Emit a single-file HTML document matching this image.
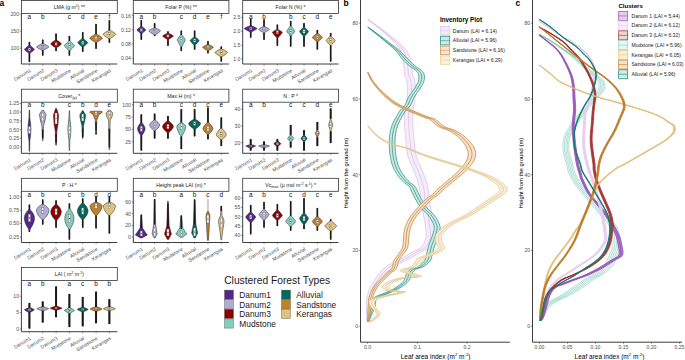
<!DOCTYPE html><html><head><meta charset="utf-8"><style>html,body{margin:0;padding:0;background:#fff;width:685px;height:360px;overflow:hidden}svg{display:block}</style></head><body><svg width="685" height="360" viewBox="0 0 685 360" font-family='"Liberation Sans", sans-serif'>
<rect width="685" height="360" fill="#fff"/>
<rect x="21.4" y="0.4" width="95.9" height="13" fill="#fff" stroke="#333333" stroke-width="0.8"/>
<text x="69.35" y="9" font-size="5.2" fill="#1a1a1a" text-anchor="middle">LMA (g m<tspan font-size="3.6" dy="-2">2</tspan><tspan dy="2">) **</tspan></text>
<path d="M21.4,13.4 V64 H117.3" fill="none" stroke="#333333" stroke-width="0.95"/>
<line x1="19.8" y1="14" x2="21.4" y2="14" stroke="#333333" stroke-width="0.5"/>
<text x="19.1" y="15.9" font-size="5.2" fill="#505050" text-anchor="end">200</text>
<line x1="19.8" y1="31" x2="21.4" y2="31" stroke="#333333" stroke-width="0.5"/>
<text x="19.1" y="32.9" font-size="5.2" fill="#505050" text-anchor="end">150</text>
<line x1="19.8" y1="48.2" x2="21.4" y2="48.2" stroke="#333333" stroke-width="0.5"/>
<text x="19.1" y="50.1" font-size="5.2" fill="#505050" text-anchor="end">100</text>
<line x1="29.4" y1="64" x2="29.4" y2="65.6" stroke="#333333" stroke-width="0.5"/>
<text transform="translate(31.4,71.5) rotate(-31)" font-size="5.0" fill="#505050" text-anchor="end">Danum1</text>
<text x="29.4" y="18.6" font-size="6.4" fill="#111" text-anchor="middle">a</text>
<line x1="42.73" y1="64" x2="42.73" y2="65.6" stroke="#333333" stroke-width="0.5"/>
<text transform="translate(44.73,71.5) rotate(-31)" font-size="5.0" fill="#505050" text-anchor="end">Danum2</text>
<text x="42.73" y="18.6" font-size="6.4" fill="#111" text-anchor="middle">b</text>
<line x1="56.06" y1="64" x2="56.06" y2="65.6" stroke="#333333" stroke-width="0.5"/>
<text transform="translate(58.06,71.5) rotate(-31)" font-size="5.0" fill="#505050" text-anchor="end">Danum3</text>
<line x1="69.39" y1="64" x2="69.39" y2="65.6" stroke="#333333" stroke-width="0.5"/>
<text transform="translate(71.39,71.5) rotate(-31)" font-size="5.0" fill="#505050" text-anchor="end">Mudstone</text>
<text x="69.39" y="18.6" font-size="6.4" fill="#111" text-anchor="middle">c</text>
<line x1="82.72" y1="64" x2="82.72" y2="65.6" stroke="#333333" stroke-width="0.5"/>
<text transform="translate(84.72,71.5) rotate(-31)" font-size="5.0" fill="#505050" text-anchor="end">Alluvial</text>
<text x="82.72" y="18.6" font-size="6.4" fill="#111" text-anchor="middle">d</text>
<line x1="96.05" y1="64" x2="96.05" y2="65.6" stroke="#333333" stroke-width="0.5"/>
<text transform="translate(98.05,71.5) rotate(-31)" font-size="5.0" fill="#505050" text-anchor="end">Sandstone</text>
<text x="96.05" y="18.6" font-size="6.4" fill="#111" text-anchor="middle">e</text>
<line x1="109.38" y1="64" x2="109.38" y2="65.6" stroke="#333333" stroke-width="0.5"/>
<text transform="translate(111.38,71.5) rotate(-31)" font-size="5.0" fill="#505050" text-anchor="end">Kerangas</text>
<text x="109.38" y="18.6" font-size="6.4" fill="#111" text-anchor="middle">f</text>
<path d="M29.7,42 L29.75,45 L30.42,45.75 L31.39,46.5 L32.3,47.25 L33.13,48 L33.87,48.75 L34.4,49.5 L33.87,50.17 L33.13,50.83 L32.3,51.5 L31.39,52.17 L30.42,52.83 L29.75,53.5 L29.7,62 L29.1,62 L29.05,53.5 L28.38,52.83 L27.41,52.17 L26.5,51.5 L25.67,50.83 L24.93,50.17 L24.4,49.5 L24.93,48.75 L25.67,48 L26.5,47.25 L27.41,46.5 L28.38,45.75 L29.05,45 L29.1,42Z" fill="#542788" stroke="#222" stroke-width="0.5" stroke-linejoin="round"/>
<rect x="28.65" y="42" width="1.5" height="3.5" fill="#1a1a1a"/>
<rect x="28.65" y="53" width="1.5" height="9" fill="#1a1a1a"/>
<rect x="28.3" y="47.97" width="2.2" height="3.06" fill="#f2f2f2" stroke="#555" stroke-width="0.35"/>
<circle cx="29.4" cy="49.5" r="0.55" fill="#333"/>
<path d="M43.03,39.7 L43.08,43.3 L44.01,43.9 L45.23,44.5 L46.38,45.1 L47.43,45.7 L48.36,46.3 L49.03,46.9 L48.36,47.5 L47.43,48.1 L46.38,48.7 L45.23,49.3 L44.01,49.9 L43.08,50.5 L43.03,55.5 L42.43,55.5 L42.38,50.5 L41.45,49.9 L40.23,49.3 L39.08,48.7 L38.03,48.1 L37.1,47.5 L36.43,46.9 L37.1,46.3 L38.03,45.7 L39.08,45.1 L40.23,44.5 L41.45,43.9 L42.38,43.3 L42.43,39.7Z" fill="#b2abd2" stroke="#222" stroke-width="0.5" stroke-linejoin="round"/>
<rect x="41.98" y="39.7" width="1.5" height="4.1" fill="#1a1a1a"/>
<rect x="41.98" y="50" width="1.5" height="5.5" fill="#1a1a1a"/>
<rect x="41.63" y="45.6" width="2.2" height="2.59" fill="#f2f2f2" stroke="#555" stroke-width="0.35"/>
<circle cx="42.73" cy="46.9" r="0.55" fill="#333"/>
<path d="M56.36,33.7 L56.41,39.7 L57.18,40.4 L58.25,41.1 L59.25,41.8 L60.17,42.5 L60.97,43.2 L61.56,43.9 L60.97,44.58 L60.17,45.27 L59.25,45.95 L58.25,46.63 L57.18,47.32 L56.41,48 L56.36,51 L55.76,51 L55.71,48 L54.94,47.32 L53.87,46.63 L52.87,45.95 L51.95,45.27 L51.15,44.58 L50.56,43.9 L51.15,43.2 L51.95,42.5 L52.87,41.8 L53.87,41.1 L54.94,40.4 L55.71,39.7 L55.76,33.7Z" fill="#8e0000" stroke="#222" stroke-width="0.5" stroke-linejoin="round"/>
<rect x="55.31" y="33.7" width="1.5" height="6.5" fill="#1a1a1a"/>
<rect x="55.31" y="47.5" width="1.5" height="3.5" fill="#1a1a1a"/>
<rect x="54.96" y="42.41" width="2.2" height="2.99" fill="#f2f2f2" stroke="#555" stroke-width="0.35"/>
<circle cx="56.06" cy="43.9" r="0.55" fill="#333"/>
<path d="M69.69,36 L69.74,40.5 L70.41,41.37 L71.38,42.23 L72.29,43.1 L73.12,43.97 L73.86,44.83 L74.39,45.7 L73.86,46.58 L73.12,47.47 L72.29,48.35 L71.38,49.23 L70.41,50.12 L69.74,51 L69.69,55.5 L69.09,55.5 L69.04,51 L68.37,50.12 L67.4,49.23 L66.49,48.35 L65.66,47.47 L64.92,46.58 L64.39,45.7 L64.92,44.83 L65.66,43.97 L66.49,43.1 L67.4,42.23 L68.37,41.37 L69.04,40.5 L69.09,36Z" fill="#80cdc1" stroke="#222" stroke-width="0.5" stroke-linejoin="round"/>
<rect x="68.64" y="36" width="1.5" height="5" fill="#1a1a1a"/>
<rect x="68.64" y="50.5" width="1.5" height="5" fill="#1a1a1a"/>
<rect x="68.29" y="43.81" width="2.2" height="3.78" fill="#f2f2f2" stroke="#555" stroke-width="0.35"/>
<circle cx="69.39" cy="45.7" r="0.55" fill="#333"/>
<path d="M83.02,32.2 L83.07,38.2 L83.74,38.95 L84.71,39.7 L85.62,40.45 L86.45,41.2 L87.19,41.95 L87.72,42.7 L87.19,43.45 L86.45,44.2 L85.62,44.95 L84.71,45.7 L83.74,46.45 L83.07,47.2 L83.02,51.7 L82.42,51.7 L82.37,47.2 L81.7,46.45 L80.73,45.7 L79.82,44.95 L78.99,44.2 L78.25,43.45 L77.72,42.7 L78.25,41.95 L78.99,41.2 L79.82,40.45 L80.73,39.7 L81.7,38.95 L82.37,38.2 L82.42,32.2Z" fill="#01665e" stroke="#222" stroke-width="0.5" stroke-linejoin="round"/>
<rect x="81.97" y="32.2" width="1.5" height="6.5" fill="#1a1a1a"/>
<rect x="81.97" y="46.7" width="1.5" height="5" fill="#1a1a1a"/>
<rect x="81.62" y="41.08" width="2.2" height="3.24" fill="#f2f2f2" stroke="#555" stroke-width="0.35"/>
<circle cx="82.72" cy="42.7" r="0.55" fill="#333"/>
<path d="M96.35,24 L96.4,33.7 L97.37,34.45 L98.63,35.2 L99.82,35.95 L100.9,36.7 L101.86,37.45 L102.55,38.2 L101.86,38.95 L100.9,39.7 L99.82,40.45 L98.63,41.2 L97.37,41.95 L96.4,42.7 L96.35,48.7 L95.75,48.7 L95.7,42.7 L94.73,41.95 L93.47,41.2 L92.28,40.45 L91.2,39.7 L90.24,38.95 L89.55,38.2 L90.24,37.45 L91.2,36.7 L92.28,35.95 L93.47,35.2 L94.73,34.45 L95.7,33.7 L95.75,24Z" fill="#bf812d" stroke="#222" stroke-width="0.5" stroke-linejoin="round"/>
<rect x="95.3" y="24" width="1.5" height="10.2" fill="#1a1a1a"/>
<rect x="95.3" y="42.2" width="1.5" height="6.5" fill="#1a1a1a"/>
<rect x="94.95" y="36.58" width="2.2" height="3.24" fill="#f2f2f2" stroke="#555" stroke-width="0.35"/>
<circle cx="96.05" cy="38.2" r="0.55" fill="#333"/>
<path d="M109.68,20.2 L109.73,30 L110.7,30.7 L111.96,31.4 L113.15,32.1 L114.23,32.8 L115.19,33.5 L115.88,34.2 L115.19,35 L114.23,35.8 L113.15,36.6 L111.96,37.4 L110.7,38.2 L109.73,39 L109.68,42.7 L109.08,42.7 L109.03,39 L108.06,38.2 L106.8,37.4 L105.61,36.6 L104.53,35.8 L103.57,35 L102.88,34.2 L103.57,33.5 L104.53,32.8 L105.61,32.1 L106.8,31.4 L108.06,30.7 L109.03,30 L109.08,20.2Z" fill="#dfc27d" stroke="#222" stroke-width="0.5" stroke-linejoin="round"/>
<rect x="108.63" y="20.2" width="1.5" height="10.3" fill="#1a1a1a"/>
<rect x="108.63" y="38.5" width="1.5" height="4.2" fill="#1a1a1a"/>
<rect x="108.28" y="32.58" width="2.2" height="3.24" fill="#f2f2f2" stroke="#555" stroke-width="0.35"/>
<circle cx="109.38" cy="34.2" r="0.55" fill="#333"/>
<rect x="133.3" y="0.4" width="95.6" height="13" fill="#fff" stroke="#333333" stroke-width="0.8"/>
<text x="181.1" y="9" font-size="5.2" fill="#1a1a1a" text-anchor="middle">Folar P (%) **</text>
<path d="M133.3,13.4 V64 H228.9" fill="none" stroke="#333333" stroke-width="0.95"/>
<line x1="131.7" y1="15.6" x2="133.3" y2="15.6" stroke="#333333" stroke-width="0.5"/>
<text x="131" y="17.5" font-size="5.2" fill="#505050" text-anchor="end">0.16</text>
<line x1="131.7" y1="29.8" x2="133.3" y2="29.8" stroke="#333333" stroke-width="0.5"/>
<text x="131" y="31.7" font-size="5.2" fill="#505050" text-anchor="end">0.12</text>
<line x1="131.7" y1="44" x2="133.3" y2="44" stroke="#333333" stroke-width="0.5"/>
<text x="131" y="45.9" font-size="5.2" fill="#505050" text-anchor="end">0.08</text>
<line x1="131.7" y1="58.3" x2="133.3" y2="58.3" stroke="#333333" stroke-width="0.5"/>
<text x="131" y="60.2" font-size="5.2" fill="#505050" text-anchor="end">0.04</text>
<line x1="141.3" y1="64" x2="141.3" y2="65.6" stroke="#333333" stroke-width="0.5"/>
<text transform="translate(143.3,71.5) rotate(-31)" font-size="5.0" fill="#505050" text-anchor="end">Danum1</text>
<text x="141.3" y="18.6" font-size="6.4" fill="#111" text-anchor="middle">a</text>
<line x1="154.63" y1="64" x2="154.63" y2="65.6" stroke="#333333" stroke-width="0.5"/>
<text transform="translate(156.63,71.5) rotate(-31)" font-size="5.0" fill="#505050" text-anchor="end">Danum2</text>
<text x="154.63" y="18.6" font-size="6.4" fill="#111" text-anchor="middle">b</text>
<line x1="167.96" y1="64" x2="167.96" y2="65.6" stroke="#333333" stroke-width="0.5"/>
<text transform="translate(169.96,71.5) rotate(-31)" font-size="5.0" fill="#505050" text-anchor="end">Danum3</text>
<line x1="181.29" y1="64" x2="181.29" y2="65.6" stroke="#333333" stroke-width="0.5"/>
<text transform="translate(183.29,71.5) rotate(-31)" font-size="5.0" fill="#505050" text-anchor="end">Mudstone</text>
<text x="181.29" y="18.6" font-size="6.4" fill="#111" text-anchor="middle">c</text>
<line x1="194.62" y1="64" x2="194.62" y2="65.6" stroke="#333333" stroke-width="0.5"/>
<text transform="translate(196.62,71.5) rotate(-31)" font-size="5.0" fill="#505050" text-anchor="end">Alluvial</text>
<text x="194.62" y="18.6" font-size="6.4" fill="#111" text-anchor="middle">d</text>
<line x1="207.95" y1="64" x2="207.95" y2="65.6" stroke="#333333" stroke-width="0.5"/>
<text transform="translate(209.95,71.5) rotate(-31)" font-size="5.0" fill="#505050" text-anchor="end">Sandstone</text>
<text x="207.95" y="18.6" font-size="6.4" fill="#111" text-anchor="middle">e</text>
<line x1="221.28" y1="64" x2="221.28" y2="65.6" stroke="#333333" stroke-width="0.5"/>
<text transform="translate(223.28,71.5) rotate(-31)" font-size="5.0" fill="#505050" text-anchor="end">Kerangas</text>
<text x="221.28" y="18.6" font-size="6.4" fill="#111" text-anchor="middle">f</text>
<path d="M141.6,20.2 L141.65,26.2 L142.22,26.83 L143.09,27.47 L143.91,28.1 L144.66,28.73 L145.32,29.37 L145.8,30 L145.32,30.62 L144.66,31.23 L143.91,31.85 L143.09,32.47 L142.22,33.08 L141.65,33.7 L141.6,39.7 L141,39.7 L140.95,33.7 L140.38,33.08 L139.51,32.47 L138.69,31.85 L137.94,31.23 L137.28,30.62 L136.8,30 L137.28,29.37 L137.94,28.73 L138.69,28.1 L139.51,27.47 L140.38,26.83 L140.95,26.2 L141,20.2Z" fill="#542788" stroke="#222" stroke-width="0.5" stroke-linejoin="round"/>
<rect x="140.55" y="20.2" width="1.5" height="6.5" fill="#1a1a1a"/>
<rect x="140.55" y="33.2" width="1.5" height="6.5" fill="#1a1a1a"/>
<rect x="140.2" y="28.65" width="2.2" height="2.7" fill="#f2f2f2" stroke="#555" stroke-width="0.35"/>
<circle cx="141.3" cy="30" r="0.55" fill="#333"/>
<path d="M154.93,23.2 L154.98,27.7 L155.85,28.2 L157.02,28.7 L158.11,29.2 L159.11,29.7 L159.99,30.2 L160.63,30.7 L159.99,31.45 L159.11,32.2 L158.11,32.95 L157.02,33.7 L155.85,34.45 L154.98,35.2 L154.93,36 L154.33,36 L154.28,35.2 L153.41,34.45 L152.24,33.7 L151.15,32.95 L150.15,32.2 L149.27,31.45 L148.63,30.7 L149.27,30.2 L150.15,29.7 L151.15,29.2 L152.24,28.7 L153.41,28.2 L154.28,27.7 L154.33,23.2Z" fill="#b2abd2" stroke="#222" stroke-width="0.5" stroke-linejoin="round"/>
<rect x="153.88" y="23.2" width="1.5" height="5" fill="#1a1a1a"/>
<rect x="153.88" y="34.7" width="1.5" height="1.3" fill="#1a1a1a"/>
<rect x="153.53" y="29.35" width="2.2" height="2.7" fill="#f2f2f2" stroke="#555" stroke-width="0.35"/>
<circle cx="154.63" cy="30.7" r="0.55" fill="#333"/>
<path d="M168.26,31.5 L168.31,33 L169.08,33.5 L170.15,34 L171.15,34.5 L172.07,35 L172.87,35.5 L173.46,36 L172.87,36.62 L172.07,37.23 L171.15,37.85 L170.15,38.47 L169.08,39.08 L168.31,39.7 L168.26,45.7 L167.66,45.7 L167.61,39.7 L166.84,39.08 L165.77,38.47 L164.77,37.85 L163.85,37.23 L163.05,36.62 L162.46,36 L163.05,35.5 L163.85,35 L164.77,34.5 L165.77,34 L166.84,33.5 L167.61,33 L167.66,31.5Z" fill="#8e0000" stroke="#222" stroke-width="0.5" stroke-linejoin="round"/>
<rect x="167.21" y="31.5" width="1.5" height="2" fill="#1a1a1a"/>
<rect x="167.21" y="39.2" width="1.5" height="6.5" fill="#1a1a1a"/>
<rect x="166.86" y="34.79" width="2.2" height="2.41" fill="#f2f2f2" stroke="#555" stroke-width="0.35"/>
<circle cx="167.96" cy="36" r="0.55" fill="#333"/>
<path d="M181.59,30.7 L181.64,34.5 L182.11,35.37 L182.88,36.23 L183.61,37.1 L184.28,37.97 L184.86,38.83 L185.29,39.7 L184.86,40.95 L184.28,42.2 L183.61,43.45 L182.88,44.7 L182.11,45.95 L181.64,47.2 L181.59,51 L180.99,51 L180.94,47.2 L180.47,45.95 L179.7,44.7 L178.97,43.45 L178.3,42.2 L177.72,40.95 L177.29,39.7 L177.72,38.83 L178.3,37.97 L178.97,37.1 L179.7,36.23 L180.47,35.37 L180.94,34.5 L180.99,30.7Z" fill="#80cdc1" stroke="#222" stroke-width="0.5" stroke-linejoin="round"/>
<rect x="180.54" y="30.7" width="1.5" height="4.3" fill="#1a1a1a"/>
<rect x="180.54" y="46.7" width="1.5" height="4.3" fill="#1a1a1a"/>
<rect x="180.19" y="37.41" width="2.2" height="4.57" fill="#f2f2f2" stroke="#555" stroke-width="0.35"/>
<circle cx="181.29" cy="39.7" r="0.55" fill="#333"/>
<path d="M194.92,30.7 L194.97,36.7 L195.54,37.33 L196.41,37.97 L197.23,38.6 L197.98,39.23 L198.64,39.87 L199.12,40.5 L198.64,41.37 L197.98,42.23 L197.23,43.1 L196.41,43.97 L195.54,44.83 L194.97,45.7 L194.92,49.5 L194.32,49.5 L194.27,45.7 L193.7,44.83 L192.83,43.97 L192.01,43.1 L191.26,42.23 L190.6,41.37 L190.12,40.5 L190.6,39.87 L191.26,39.23 L192.01,38.6 L192.83,37.97 L193.7,37.33 L194.27,36.7 L194.32,30.7Z" fill="#01665e" stroke="#222" stroke-width="0.5" stroke-linejoin="round"/>
<rect x="193.87" y="30.7" width="1.5" height="6.5" fill="#1a1a1a"/>
<rect x="193.87" y="45.2" width="1.5" height="4.3" fill="#1a1a1a"/>
<rect x="193.52" y="38.88" width="2.2" height="3.24" fill="#f2f2f2" stroke="#555" stroke-width="0.35"/>
<circle cx="194.62" cy="40.5" r="0.55" fill="#333"/>
<path d="M208.25,41.2 L208.3,44.2 L209.07,44.7 L210.14,45.2 L211.14,45.7 L212.06,46.2 L212.86,46.7 L213.45,47.2 L212.86,47.83 L212.06,48.47 L211.14,49.1 L210.14,49.73 L209.07,50.37 L208.3,51 L208.25,53.2 L207.65,53.2 L207.6,51 L206.83,50.37 L205.76,49.73 L204.76,49.1 L203.84,48.47 L203.04,47.83 L202.45,47.2 L203.04,46.7 L203.84,46.2 L204.76,45.7 L205.76,45.2 L206.83,44.7 L207.6,44.2 L207.65,41.2Z" fill="#bf812d" stroke="#222" stroke-width="0.5" stroke-linejoin="round"/>
<rect x="207.2" y="41.2" width="1.5" height="3.5" fill="#1a1a1a"/>
<rect x="207.2" y="50.5" width="1.5" height="2.7" fill="#1a1a1a"/>
<rect x="206.85" y="45.98" width="2.2" height="2.45" fill="#f2f2f2" stroke="#555" stroke-width="0.35"/>
<circle cx="207.95" cy="47.2" r="0.55" fill="#333"/>
<path d="M221.58,46.5 L221.63,48.7 L222.6,49.33 L223.86,49.97 L225.05,50.6 L226.13,51.23 L227.09,51.87 L227.78,52.5 L227.09,53.25 L226.13,54 L225.05,54.75 L223.86,55.5 L222.6,56.25 L221.63,57 L221.58,61.5 L220.98,61.5 L220.93,57 L219.96,56.25 L218.7,55.5 L217.51,54.75 L216.43,54 L215.47,53.25 L214.78,52.5 L215.47,51.87 L216.43,51.23 L217.51,50.6 L218.7,49.97 L219.96,49.33 L220.93,48.7 L220.98,46.5Z" fill="#dfc27d" stroke="#222" stroke-width="0.5" stroke-linejoin="round"/>
<rect x="220.53" y="46.5" width="1.5" height="2.7" fill="#1a1a1a"/>
<rect x="220.53" y="56.5" width="1.5" height="5" fill="#1a1a1a"/>
<rect x="220.18" y="51.01" width="2.2" height="2.99" fill="#f2f2f2" stroke="#555" stroke-width="0.35"/>
<circle cx="221.28" cy="52.5" r="0.55" fill="#333"/>
<rect x="242.7" y="0.4" width="95.8" height="13" fill="#fff" stroke="#333333" stroke-width="0.8"/>
<text x="290.6" y="9" font-size="5.2" fill="#1a1a1a" text-anchor="middle">Folar N (%) *</text>
<path d="M242.7,13.4 V64 H338.5" fill="none" stroke="#333333" stroke-width="0.95"/>
<line x1="241.1" y1="17.4" x2="242.7" y2="17.4" stroke="#333333" stroke-width="0.5"/>
<text x="240.4" y="19.3" font-size="5.2" fill="#505050" text-anchor="end">2.5</text>
<line x1="241.1" y1="31.2" x2="242.7" y2="31.2" stroke="#333333" stroke-width="0.5"/>
<text x="240.4" y="33.1" font-size="5.2" fill="#505050" text-anchor="end">2.0</text>
<line x1="241.1" y1="45" x2="242.7" y2="45" stroke="#333333" stroke-width="0.5"/>
<text x="240.4" y="46.9" font-size="5.2" fill="#505050" text-anchor="end">1.5</text>
<line x1="241.1" y1="58.7" x2="242.7" y2="58.7" stroke="#333333" stroke-width="0.5"/>
<text x="240.4" y="60.6" font-size="5.2" fill="#505050" text-anchor="end">1.0</text>
<line x1="250.7" y1="64" x2="250.7" y2="65.6" stroke="#333333" stroke-width="0.5"/>
<text transform="translate(252.7,71.5) rotate(-31)" font-size="5.0" fill="#505050" text-anchor="end">Danum1</text>
<text x="250.7" y="18.6" font-size="6.4" fill="#111" text-anchor="middle">a</text>
<line x1="264.03" y1="64" x2="264.03" y2="65.6" stroke="#333333" stroke-width="0.5"/>
<text transform="translate(266.03,71.5) rotate(-31)" font-size="5.0" fill="#505050" text-anchor="end">Danum2</text>
<text x="264.03" y="18.6" font-size="6.4" fill="#111" text-anchor="middle">b</text>
<line x1="277.36" y1="64" x2="277.36" y2="65.6" stroke="#333333" stroke-width="0.5"/>
<text transform="translate(279.36,71.5) rotate(-31)" font-size="5.0" fill="#505050" text-anchor="end">Danum3</text>
<line x1="290.69" y1="64" x2="290.69" y2="65.6" stroke="#333333" stroke-width="0.5"/>
<text transform="translate(292.69,71.5) rotate(-31)" font-size="5.0" fill="#505050" text-anchor="end">Mudstone</text>
<text x="290.69" y="18.6" font-size="6.4" fill="#111" text-anchor="middle">b</text>
<line x1="304.02" y1="64" x2="304.02" y2="65.6" stroke="#333333" stroke-width="0.5"/>
<text transform="translate(306.02,71.5) rotate(-31)" font-size="5.0" fill="#505050" text-anchor="end">Alluvial</text>
<text x="304.02" y="18.6" font-size="6.4" fill="#111" text-anchor="middle">c</text>
<line x1="317.35" y1="64" x2="317.35" y2="65.6" stroke="#333333" stroke-width="0.5"/>
<text transform="translate(319.35,71.5) rotate(-31)" font-size="5.0" fill="#505050" text-anchor="end">Sandstone</text>
<text x="317.35" y="18.6" font-size="6.4" fill="#111" text-anchor="middle">d</text>
<line x1="330.68" y1="64" x2="330.68" y2="65.6" stroke="#333333" stroke-width="0.5"/>
<text transform="translate(332.68,71.5) rotate(-31)" font-size="5.0" fill="#505050" text-anchor="end">Kerangas</text>
<text x="330.68" y="18.6" font-size="6.4" fill="#111" text-anchor="middle">e</text>
<path d="M251,18.7 L251.05,25.5 L252.02,26 L253.28,26.5 L254.47,27 L255.55,27.5 L256.51,28 L257.2,28.5 L256.51,29.12 L255.55,29.73 L254.47,30.35 L253.28,30.97 L252.02,31.58 L251.05,32.2 L251,37.5 L250.4,37.5 L250.35,32.2 L249.38,31.58 L248.12,30.97 L246.93,30.35 L245.85,29.73 L244.89,29.12 L244.2,28.5 L244.89,28 L245.85,27.5 L246.93,27 L248.12,26.5 L249.38,26 L250.35,25.5 L250.4,18.7Z" fill="#542788" stroke="#222" stroke-width="0.5" stroke-linejoin="round"/>
<rect x="249.95" y="18.7" width="1.5" height="7.3" fill="#1a1a1a"/>
<rect x="249.95" y="31.7" width="1.5" height="5.8" fill="#1a1a1a"/>
<rect x="249.6" y="27.29" width="2.2" height="2.41" fill="#f2f2f2" stroke="#555" stroke-width="0.35"/>
<circle cx="250.7" cy="28.5" r="0.55" fill="#333"/>
<path d="M264.33,19.5 L264.38,26.2 L265.15,26.7 L266.22,27.2 L267.22,27.7 L268.14,28.2 L268.94,28.7 L269.53,29.2 L268.94,29.83 L268.14,30.47 L267.22,31.1 L266.22,31.73 L265.15,32.37 L264.38,33 L264.33,39.7 L263.73,39.7 L263.68,33 L262.91,32.37 L261.84,31.73 L260.84,31.1 L259.92,30.47 L259.12,29.83 L258.53,29.2 L259.12,28.7 L259.92,28.2 L260.84,27.7 L261.84,27.2 L262.91,26.7 L263.68,26.2 L263.73,19.5Z" fill="#b2abd2" stroke="#222" stroke-width="0.5" stroke-linejoin="round"/>
<rect x="263.28" y="19.5" width="1.5" height="7.2" fill="#1a1a1a"/>
<rect x="263.28" y="32.5" width="1.5" height="7.2" fill="#1a1a1a"/>
<rect x="262.93" y="27.98" width="2.2" height="2.45" fill="#f2f2f2" stroke="#555" stroke-width="0.35"/>
<circle cx="264.03" cy="29.2" r="0.55" fill="#333"/>
<path d="M277.66,24.7 L277.71,29.2 L278.38,29.7 L279.35,30.2 L280.26,30.7 L281.09,31.2 L281.83,31.7 L282.36,32.2 L281.83,33.2 L281.09,34.2 L280.26,35.2 L279.35,36.2 L278.38,37.2 L277.71,38.2 L277.66,45.7 L277.06,45.7 L277.01,38.2 L276.34,37.2 L275.37,36.2 L274.46,35.2 L273.63,34.2 L272.89,33.2 L272.36,32.2 L272.89,31.7 L273.63,31.2 L274.46,30.7 L275.37,30.2 L276.34,29.7 L277.01,29.2 L277.06,24.7Z" fill="#8e0000" stroke="#222" stroke-width="0.5" stroke-linejoin="round"/>
<rect x="276.61" y="24.7" width="1.5" height="5" fill="#1a1a1a"/>
<rect x="276.61" y="37.7" width="1.5" height="8" fill="#1a1a1a"/>
<rect x="276.26" y="30.58" width="2.2" height="3.24" fill="#f2f2f2" stroke="#555" stroke-width="0.35"/>
<circle cx="277.36" cy="32.2" r="0.55" fill="#333"/>
<path d="M290.99,21 L291.04,25.5 L291.51,26.5 L292.28,27.5 L293.01,28.5 L293.68,29.5 L294.26,30.5 L294.69,31.5 L294.26,32.25 L293.68,33 L293.01,33.75 L292.28,34.5 L291.51,35.25 L291.04,36 L290.99,46.5 L290.39,46.5 L290.34,36 L289.87,35.25 L289.1,34.5 L288.37,33.75 L287.7,33 L287.12,32.25 L286.69,31.5 L287.12,30.5 L287.7,29.5 L288.37,28.5 L289.1,27.5 L289.87,26.5 L290.34,25.5 L290.39,21Z" fill="#80cdc1" stroke="#222" stroke-width="0.5" stroke-linejoin="round"/>
<rect x="289.94" y="21" width="1.5" height="5" fill="#1a1a1a"/>
<rect x="289.94" y="35.5" width="1.5" height="11" fill="#1a1a1a"/>
<rect x="289.59" y="29.61" width="2.2" height="3.78" fill="#f2f2f2" stroke="#555" stroke-width="0.35"/>
<circle cx="290.69" cy="31.5" r="0.55" fill="#333"/>
<path d="M304.32,23.2 L304.37,27 L304.94,27.75 L305.81,28.5 L306.63,29.25 L307.38,30 L308.04,30.75 L308.52,31.5 L308.04,32.37 L307.38,33.23 L306.63,34.1 L305.81,34.97 L304.94,35.83 L304.37,36.7 L304.32,46.5 L303.72,46.5 L303.67,36.7 L303.1,35.83 L302.23,34.97 L301.41,34.1 L300.66,33.23 L300,32.37 L299.52,31.5 L300,30.75 L300.66,30 L301.41,29.25 L302.23,28.5 L303.1,27.75 L303.67,27 L303.72,23.2Z" fill="#01665e" stroke="#222" stroke-width="0.5" stroke-linejoin="round"/>
<rect x="303.27" y="23.2" width="1.5" height="4.3" fill="#1a1a1a"/>
<rect x="303.27" y="36.2" width="1.5" height="10.3" fill="#1a1a1a"/>
<rect x="302.92" y="29.75" width="2.2" height="3.49" fill="#f2f2f2" stroke="#555" stroke-width="0.35"/>
<circle cx="304.02" cy="31.5" r="0.55" fill="#333"/>
<path d="M317.65,30 L317.7,33 L318.37,33.75 L319.34,34.5 L320.25,35.25 L321.08,36 L321.82,36.75 L322.35,37.5 L321.82,38.25 L321.08,39 L320.25,39.75 L319.34,40.5 L318.37,41.25 L317.7,42 L317.65,49.5 L317.05,49.5 L317,42 L316.33,41.25 L315.36,40.5 L314.45,39.75 L313.62,39 L312.88,38.25 L312.35,37.5 L312.88,36.75 L313.62,36 L314.45,35.25 L315.36,34.5 L316.33,33.75 L317,33 L317.05,30Z" fill="#bf812d" stroke="#222" stroke-width="0.5" stroke-linejoin="round"/>
<rect x="316.6" y="30" width="1.5" height="3.5" fill="#1a1a1a"/>
<rect x="316.6" y="41.5" width="1.5" height="8" fill="#1a1a1a"/>
<rect x="316.25" y="35.88" width="2.2" height="3.24" fill="#f2f2f2" stroke="#555" stroke-width="0.35"/>
<circle cx="317.35" cy="37.5" r="0.55" fill="#333"/>
<path d="M330.98,33 L331.03,36 L331.6,36.75 L332.47,37.5 L333.29,38.25 L334.04,39 L334.7,39.75 L335.18,40.5 L334.7,41.37 L334.04,42.23 L333.29,43.1 L332.47,43.97 L331.6,44.83 L331.03,45.7 L330.98,61.5 L330.38,61.5 L330.33,45.7 L329.76,44.83 L328.89,43.97 L328.07,43.1 L327.32,42.23 L326.66,41.37 L326.18,40.5 L326.66,39.75 L327.32,39 L328.07,38.25 L328.89,37.5 L329.76,36.75 L330.33,36 L330.38,33Z" fill="#dfc27d" stroke="#222" stroke-width="0.5" stroke-linejoin="round"/>
<rect x="329.93" y="33" width="1.5" height="3.5" fill="#1a1a1a"/>
<rect x="329.93" y="45.2" width="1.5" height="16.3" fill="#1a1a1a"/>
<rect x="329.58" y="38.75" width="2.2" height="3.49" fill="#f2f2f2" stroke="#555" stroke-width="0.35"/>
<circle cx="330.68" cy="40.5" r="0.55" fill="#333"/>
<rect x="21.4" y="89.2" width="95.9" height="13" fill="#fff" stroke="#333333" stroke-width="0.8"/>
<text x="69.35" y="97.8" font-size="5.2" fill="#1a1a1a" text-anchor="middle">Cover<tspan font-size="3.8" dy="1.5">(p)</tspan><tspan dy="-1.5"> *</tspan></text>
<path d="M21.4,102.2 V153.3 H117.3" fill="none" stroke="#333333" stroke-width="0.95"/>
<line x1="19.8" y1="103.4" x2="21.4" y2="103.4" stroke="#333333" stroke-width="0.5"/>
<text x="19.1" y="105.3" font-size="5.2" fill="#505050" text-anchor="end">1.25</text>
<line x1="19.8" y1="112.1" x2="21.4" y2="112.1" stroke="#333333" stroke-width="0.5"/>
<text x="19.1" y="114" font-size="5.2" fill="#505050" text-anchor="end">1.00</text>
<line x1="19.8" y1="120.8" x2="21.4" y2="120.8" stroke="#333333" stroke-width="0.5"/>
<text x="19.1" y="122.7" font-size="5.2" fill="#505050" text-anchor="end">0.75</text>
<line x1="19.8" y1="129.6" x2="21.4" y2="129.6" stroke="#333333" stroke-width="0.5"/>
<text x="19.1" y="131.5" font-size="5.2" fill="#505050" text-anchor="end">0.50</text>
<line x1="19.8" y1="138.3" x2="21.4" y2="138.3" stroke="#333333" stroke-width="0.5"/>
<text x="19.1" y="140.2" font-size="5.2" fill="#505050" text-anchor="end">0.25</text>
<line x1="19.8" y1="147.1" x2="21.4" y2="147.1" stroke="#333333" stroke-width="0.5"/>
<text x="19.1" y="149" font-size="5.2" fill="#505050" text-anchor="end">0.00</text>
<line x1="29.4" y1="153.3" x2="29.4" y2="154.9" stroke="#333333" stroke-width="0.5"/>
<text transform="translate(31.4,160.8) rotate(-31)" font-size="5.0" fill="#505050" text-anchor="end">Danum1</text>
<text x="29.4" y="107.4" font-size="6.4" fill="#111" text-anchor="middle">a</text>
<line x1="42.73" y1="153.3" x2="42.73" y2="154.9" stroke="#333333" stroke-width="0.5"/>
<text transform="translate(44.73,160.8) rotate(-31)" font-size="5.0" fill="#505050" text-anchor="end">Danum2</text>
<text x="42.73" y="107.4" font-size="6.4" fill="#111" text-anchor="middle">b</text>
<line x1="56.06" y1="153.3" x2="56.06" y2="154.9" stroke="#333333" stroke-width="0.5"/>
<text transform="translate(58.06,160.8) rotate(-31)" font-size="5.0" fill="#505050" text-anchor="end">Danum3</text>
<line x1="69.39" y1="153.3" x2="69.39" y2="154.9" stroke="#333333" stroke-width="0.5"/>
<text transform="translate(71.39,160.8) rotate(-31)" font-size="5.0" fill="#505050" text-anchor="end">Mudstone</text>
<text x="69.39" y="107.4" font-size="6.4" fill="#111" text-anchor="middle">c</text>
<line x1="82.72" y1="153.3" x2="82.72" y2="154.9" stroke="#333333" stroke-width="0.5"/>
<text transform="translate(84.72,160.8) rotate(-31)" font-size="5.0" fill="#505050" text-anchor="end">Alluvial</text>
<text x="82.72" y="107.4" font-size="6.4" fill="#111" text-anchor="middle">b</text>
<line x1="96.05" y1="153.3" x2="96.05" y2="154.9" stroke="#333333" stroke-width="0.5"/>
<text transform="translate(98.05,160.8) rotate(-31)" font-size="5.0" fill="#505050" text-anchor="end">Sandstone</text>
<text x="96.05" y="107.4" font-size="6.4" fill="#111" text-anchor="middle">d</text>
<line x1="109.38" y1="153.3" x2="109.38" y2="154.9" stroke="#333333" stroke-width="0.5"/>
<text transform="translate(111.38,160.8) rotate(-31)" font-size="5.0" fill="#505050" text-anchor="end">Kerangas</text>
<text x="109.38" y="107.4" font-size="6.4" fill="#111" text-anchor="middle">e</text>
<path d="M29.65,110 L29.85,118 L30.6,124 L31,129.5 L30.6,135 L29.85,141 L29.65,151.2 L29.15,151.2 L28.95,141 L28.2,135 L27.8,129.5 L28.2,124 L28.95,118 L29.15,110Z" fill="#542788" stroke="#222" stroke-width="0.5" stroke-linejoin="round"/>
<rect x="28.3" y="126.5" width="2.2" height="7" fill="#f2f2f2" stroke="#555" stroke-width="0.35"/>
<circle cx="29.4" cy="130" r="0.55" fill="#333"/>
<path d="M43.23,110 L46.13,114.5 L44.93,121 L43.53,126 L43.03,140.7 L42.43,140.7 L41.93,126 L40.53,121 L39.33,114.5 L42.23,110Z" fill="#b2abd2" stroke="#222" stroke-width="0.5" stroke-linejoin="round"/>
<rect x="41.98" y="129.5" width="1.5" height="9" fill="#1a1a1a"/>
<rect x="41.63" y="113" width="2.2" height="8" fill="#f2f2f2" stroke="#555" stroke-width="0.35"/>
<circle cx="42.73" cy="117" r="0.55" fill="#333"/>
<path d="M56.56,108.5 L58.66,115 L58.06,124 L56.86,131 L56.36,145.2 L55.76,145.2 L55.26,131 L54.06,124 L53.46,115 L55.56,108.5Z" fill="#8e0000" stroke="#222" stroke-width="0.5" stroke-linejoin="round"/>
<rect x="55.31" y="134" width="1.5" height="9" fill="#1a1a1a"/>
<rect x="54.96" y="113" width="2.2" height="11" fill="#f2f2f2" stroke="#555" stroke-width="0.35"/>
<circle cx="56.06" cy="118.5" r="0.55" fill="#333"/>
<path d="M69.64,110.7 L69.84,118 L70.59,124 L70.99,129.5 L70.59,135 L69.84,141 L69.64,150.5 L69.14,150.5 L68.94,141 L68.19,135 L67.79,129.5 L68.19,124 L68.94,118 L69.14,110.7Z" fill="#80cdc1" stroke="#222" stroke-width="0.5" stroke-linejoin="round"/>
<rect x="68.29" y="126.5" width="2.2" height="7" fill="#f2f2f2" stroke="#555" stroke-width="0.35"/>
<circle cx="69.39" cy="130" r="0.55" fill="#333"/>
<path d="M83.22,110.7 L85.72,115.2 L84.72,121 L83.52,125.7 L83.02,138.5 L82.42,138.5 L81.92,125.7 L80.72,121 L79.72,115.2 L82.22,110.7Z" fill="#01665e" stroke="#222" stroke-width="0.5" stroke-linejoin="round"/>
<rect x="81.97" y="128.7" width="1.5" height="8.3" fill="#1a1a1a"/>
<rect x="81.62" y="114" width="2.2" height="7" fill="#f2f2f2" stroke="#555" stroke-width="0.35"/>
<circle cx="82.72" cy="117.5" r="0.55" fill="#333"/>
<path d="M101.55,111.2 L102.55,112.2 L99.05,114.5 L96.85,120 L96.35,130 L95.75,130 L95.25,120 L93.05,114.5 L89.55,112.2 L90.55,111.2Z" fill="#bf812d" stroke="#222" stroke-width="0.5" stroke-linejoin="round"/>
<rect x="95.3" y="122" width="1.5" height="12.7" fill="#1a1a1a"/>
<rect x="94.95" y="111.5" width="2.2" height="3.5" fill="#f2f2f2" stroke="#555" stroke-width="0.35"/>
<circle cx="96.05" cy="113.25" r="0.55" fill="#333"/>
<path d="M109.88,110 L112.88,113 L111.88,117 L110.18,120 L109.68,149.7 L109.08,149.7 L108.58,120 L106.88,117 L105.88,113 L108.88,110Z" fill="#dfc27d" stroke="#222" stroke-width="0.5" stroke-linejoin="round"/>
<rect x="108.63" y="128.7" width="1.5" height="18.8" fill="#1a1a1a"/>
<rect x="108.28" y="111.5" width="2.2" height="6.5" fill="#f2f2f2" stroke="#555" stroke-width="0.35"/>
<circle cx="109.38" cy="114.75" r="0.55" fill="#333"/>
<rect x="133.3" y="89.2" width="95.6" height="13" fill="#fff" stroke="#333333" stroke-width="0.8"/>
<text x="181.1" y="97.8" font-size="5.2" fill="#1a1a1a" text-anchor="middle">Max H (m) *</text>
<path d="M133.3,102.2 V153.3 H228.9" fill="none" stroke="#333333" stroke-width="0.95"/>
<line x1="131.7" y1="104.9" x2="133.3" y2="104.9" stroke="#333333" stroke-width="0.5"/>
<text x="131" y="106.8" font-size="5.2" fill="#505050" text-anchor="end">100</text>
<line x1="131.7" y1="117.1" x2="133.3" y2="117.1" stroke="#333333" stroke-width="0.5"/>
<text x="131" y="119" font-size="5.2" fill="#505050" text-anchor="end">75</text>
<line x1="131.7" y1="129.3" x2="133.3" y2="129.3" stroke="#333333" stroke-width="0.5"/>
<text x="131" y="131.2" font-size="5.2" fill="#505050" text-anchor="end">50</text>
<line x1="131.7" y1="141.8" x2="133.3" y2="141.8" stroke="#333333" stroke-width="0.5"/>
<text x="131" y="143.7" font-size="5.2" fill="#505050" text-anchor="end">25</text>
<line x1="141.3" y1="153.3" x2="141.3" y2="154.9" stroke="#333333" stroke-width="0.5"/>
<text transform="translate(143.3,160.8) rotate(-31)" font-size="5.0" fill="#505050" text-anchor="end">Danum1</text>
<text x="141.3" y="107.4" font-size="6.4" fill="#111" text-anchor="middle">a</text>
<line x1="154.63" y1="153.3" x2="154.63" y2="154.9" stroke="#333333" stroke-width="0.5"/>
<text transform="translate(156.63,160.8) rotate(-31)" font-size="5.0" fill="#505050" text-anchor="end">Danum2</text>
<text x="154.63" y="107.4" font-size="6.4" fill="#111" text-anchor="middle">b</text>
<line x1="167.96" y1="153.3" x2="167.96" y2="154.9" stroke="#333333" stroke-width="0.5"/>
<text transform="translate(169.96,160.8) rotate(-31)" font-size="5.0" fill="#505050" text-anchor="end">Danum3</text>
<line x1="181.29" y1="153.3" x2="181.29" y2="154.9" stroke="#333333" stroke-width="0.5"/>
<text transform="translate(183.29,160.8) rotate(-31)" font-size="5.0" fill="#505050" text-anchor="end">Mudstone</text>
<text x="181.29" y="107.4" font-size="6.4" fill="#111" text-anchor="middle">c</text>
<line x1="194.62" y1="153.3" x2="194.62" y2="154.9" stroke="#333333" stroke-width="0.5"/>
<text transform="translate(196.62,160.8) rotate(-31)" font-size="5.0" fill="#505050" text-anchor="end">Alluvial</text>
<text x="194.62" y="107.4" font-size="6.4" fill="#111" text-anchor="middle">d</text>
<line x1="207.95" y1="153.3" x2="207.95" y2="154.9" stroke="#333333" stroke-width="0.5"/>
<text transform="translate(209.95,160.8) rotate(-31)" font-size="5.0" fill="#505050" text-anchor="end">Sandstone</text>
<text x="207.95" y="107.4" font-size="6.4" fill="#111" text-anchor="middle">c</text>
<line x1="221.28" y1="153.3" x2="221.28" y2="154.9" stroke="#333333" stroke-width="0.5"/>
<text transform="translate(223.28,160.8) rotate(-31)" font-size="5.0" fill="#505050" text-anchor="end">Kerangas</text>
<text x="221.28" y="107.4" font-size="6.4" fill="#111" text-anchor="middle">e</text>
<path d="M141.6,114.5 L141.65,122 L142.26,123.12 L143.11,124.23 L143.85,125.35 L144.44,126.47 L144.88,127.58 L145.1,128.7 L144.88,129.95 L144.44,131.2 L143.85,132.45 L143.11,133.7 L142.26,134.95 L141.65,136.2 L141.6,150.5 L141,150.5 L140.95,136.2 L140.34,134.95 L139.49,133.7 L138.75,132.45 L138.16,131.2 L137.72,129.95 L137.5,128.7 L137.72,127.58 L138.16,126.47 L138.75,125.35 L139.49,124.23 L140.34,123.12 L140.95,122 L141,114.5Z" fill="#542788" stroke="#222" stroke-width="0.5" stroke-linejoin="round"/>
<rect x="140.45" y="114.5" width="1.7" height="8" fill="#1a1a1a"/>
<rect x="140.45" y="135.7" width="1.7" height="14.8" fill="#1a1a1a"/>
<rect x="140.2" y="126.14" width="2.2" height="5.11" fill="#f2f2f2" stroke="#555" stroke-width="0.35"/>
<circle cx="141.3" cy="128.7" r="0.55" fill="#333"/>
<path d="M154.93,113.7 L154.98,119.7 L155.9,120.58 L157.02,121.47 L157.98,122.35 L158.77,123.23 L159.35,124.12 L159.63,125 L159.35,126 L158.77,127 L157.98,128 L157.02,129 L155.9,130 L154.98,131 L154.93,138.5 L154.33,138.5 L154.28,131 L153.36,130 L152.24,129 L151.28,128 L150.49,127 L149.91,126 L149.63,125 L149.91,124.12 L150.49,123.23 L151.28,122.35 L152.24,121.47 L153.36,120.58 L154.28,119.7 L154.33,113.7Z" fill="#b2abd2" stroke="#222" stroke-width="0.5" stroke-linejoin="round"/>
<rect x="153.78" y="113.7" width="1.7" height="6.5" fill="#1a1a1a"/>
<rect x="153.78" y="130.5" width="1.7" height="8" fill="#1a1a1a"/>
<rect x="153.53" y="122.97" width="2.2" height="4.07" fill="#f2f2f2" stroke="#555" stroke-width="0.35"/>
<circle cx="154.63" cy="125" r="0.55" fill="#333"/>
<path d="M168.26,116 L168.31,120.5 L169.35,121.5 L170.59,122.5 L171.65,123.5 L172.51,124.5 L173.15,125.5 L173.46,126.5 L173.15,127.62 L172.51,128.73 L171.65,129.85 L170.59,130.97 L169.35,132.08 L168.31,133.2 L168.26,138.5 L167.66,138.5 L167.61,133.2 L166.57,132.08 L165.33,130.97 L164.27,129.85 L163.41,128.73 L162.77,127.62 L162.46,126.5 L162.77,125.5 L163.41,124.5 L164.27,123.5 L165.33,122.5 L166.57,121.5 L167.61,120.5 L167.66,116Z" fill="#8e0000" stroke="#222" stroke-width="0.5" stroke-linejoin="round"/>
<rect x="167.11" y="116" width="1.7" height="5" fill="#1a1a1a"/>
<rect x="167.11" y="132.7" width="1.7" height="5.8" fill="#1a1a1a"/>
<rect x="166.86" y="124.21" width="2.2" height="4.57" fill="#f2f2f2" stroke="#555" stroke-width="0.35"/>
<circle cx="167.96" cy="126.5" r="0.55" fill="#333"/>
<path d="M181.59,109.2 L181.64,122 L182.43,122.75 L183.44,123.5 L184.31,124.25 L185.01,125 L185.53,125.75 L185.79,126.5 L185.53,128.25 L185.01,130 L184.31,131.75 L183.44,133.5 L182.43,135.25 L181.64,137 L181.59,149 L180.99,149 L180.94,137 L180.15,135.25 L179.14,133.5 L178.27,131.75 L177.57,130 L177.05,128.25 L176.79,126.5 L177.05,125.75 L177.57,125 L178.27,124.25 L179.14,123.5 L180.15,122.75 L180.94,122 L180.99,109.2Z" fill="#80cdc1" stroke="#222" stroke-width="0.5" stroke-linejoin="round"/>
<rect x="180.44" y="109.2" width="1.7" height="13.3" fill="#1a1a1a"/>
<rect x="180.44" y="136.5" width="1.7" height="12.5" fill="#1a1a1a"/>
<rect x="180.19" y="123.8" width="2.2" height="5.4" fill="#f2f2f2" stroke="#555" stroke-width="0.35"/>
<circle cx="181.29" cy="126.5" r="0.55" fill="#333"/>
<path d="M194.92,109.2 L194.97,119 L196.14,119.75 L197.48,120.5 L198.64,121.25 L199.59,122 L200.28,122.75 L200.62,123.5 L200.28,124.5 L199.59,125.5 L198.64,126.5 L197.48,127.5 L196.14,128.5 L194.97,129.5 L194.92,136.2 L194.32,136.2 L194.27,129.5 L193.1,128.5 L191.76,127.5 L190.6,126.5 L189.65,125.5 L188.96,124.5 L188.62,123.5 L188.96,122.75 L189.65,122 L190.6,121.25 L191.76,120.5 L193.1,119.75 L194.27,119 L194.32,109.2Z" fill="#01665e" stroke="#222" stroke-width="0.5" stroke-linejoin="round"/>
<rect x="193.77" y="109.2" width="1.7" height="10.3" fill="#1a1a1a"/>
<rect x="193.77" y="129" width="1.7" height="7.2" fill="#1a1a1a"/>
<rect x="193.52" y="121.61" width="2.2" height="3.78" fill="#f2f2f2" stroke="#555" stroke-width="0.35"/>
<circle cx="194.62" cy="123.5" r="0.55" fill="#333"/>
<path d="M208.25,107.7 L208.3,122 L209.22,123.12 L210.34,124.23 L211.3,125.35 L212.09,126.47 L212.67,127.58 L212.95,128.7 L212.67,129.7 L212.09,130.7 L211.3,131.7 L210.34,132.7 L209.22,133.7 L208.3,134.7 L208.25,139.2 L207.65,139.2 L207.6,134.7 L206.68,133.7 L205.56,132.7 L204.6,131.7 L203.81,130.7 L203.23,129.7 L202.95,128.7 L203.23,127.58 L203.81,126.47 L204.6,125.35 L205.56,124.23 L206.68,123.12 L207.6,122 L207.65,107.7Z" fill="#bf812d" stroke="#222" stroke-width="0.5" stroke-linejoin="round"/>
<rect x="207.1" y="107.7" width="1.7" height="14.8" fill="#1a1a1a"/>
<rect x="207.1" y="134.2" width="1.7" height="5" fill="#1a1a1a"/>
<rect x="206.85" y="126.41" width="2.2" height="4.57" fill="#f2f2f2" stroke="#555" stroke-width="0.35"/>
<circle cx="207.95" cy="128.7" r="0.55" fill="#333"/>
<path d="M221.58,117.5 L221.63,128 L222.55,129.12 L223.67,130.23 L224.63,131.35 L225.42,132.47 L226,133.58 L226.28,134.7 L226,135.58 L225.42,136.47 L224.63,137.35 L223.67,138.23 L222.55,139.12 L221.63,140 L221.58,146 L220.98,146 L220.93,140 L220.01,139.12 L218.89,138.23 L217.93,137.35 L217.14,136.47 L216.56,135.58 L216.28,134.7 L216.56,133.58 L217.14,132.47 L217.93,131.35 L218.89,130.23 L220.01,129.12 L220.93,128 L220.98,117.5Z" fill="#dfc27d" stroke="#222" stroke-width="0.5" stroke-linejoin="round"/>
<rect x="220.43" y="117.5" width="1.7" height="11" fill="#1a1a1a"/>
<rect x="220.43" y="139.5" width="1.7" height="6.5" fill="#1a1a1a"/>
<rect x="220.18" y="132.54" width="2.2" height="4.32" fill="#f2f2f2" stroke="#555" stroke-width="0.35"/>
<circle cx="221.28" cy="134.7" r="0.55" fill="#333"/>
<rect x="242.7" y="89.2" width="95.8" height="13" fill="#fff" stroke="#333333" stroke-width="0.8"/>
<text x="290.6" y="97.8" font-size="5.2" fill="#1a1a1a" text-anchor="middle">N : P *</text>
<path d="M242.7,102.2 V153.3 H338.5" fill="none" stroke="#333333" stroke-width="0.95"/>
<line x1="241.1" y1="109.3" x2="242.7" y2="109.3" stroke="#333333" stroke-width="0.5"/>
<text x="240.4" y="111.2" font-size="5.2" fill="#505050" text-anchor="end">40</text>
<line x1="241.1" y1="126" x2="242.7" y2="126" stroke="#333333" stroke-width="0.5"/>
<text x="240.4" y="127.9" font-size="5.2" fill="#505050" text-anchor="end">30</text>
<line x1="241.1" y1="142.7" x2="242.7" y2="142.7" stroke="#333333" stroke-width="0.5"/>
<text x="240.4" y="144.6" font-size="5.2" fill="#505050" text-anchor="end">20</text>
<line x1="250.7" y1="153.3" x2="250.7" y2="154.9" stroke="#333333" stroke-width="0.5"/>
<text transform="translate(252.7,160.8) rotate(-31)" font-size="5.0" fill="#505050" text-anchor="end">Danum1</text>
<text x="250.7" y="107.4" font-size="6.4" fill="#111" text-anchor="middle">a</text>
<line x1="264.03" y1="153.3" x2="264.03" y2="154.9" stroke="#333333" stroke-width="0.5"/>
<text transform="translate(266.03,160.8) rotate(-31)" font-size="5.0" fill="#505050" text-anchor="end">Danum2</text>
<text x="264.03" y="107.4" font-size="6.4" fill="#111" text-anchor="middle">b</text>
<line x1="277.36" y1="153.3" x2="277.36" y2="154.9" stroke="#333333" stroke-width="0.5"/>
<text transform="translate(279.36,160.8) rotate(-31)" font-size="5.0" fill="#505050" text-anchor="end">Danum3</text>
<line x1="290.69" y1="153.3" x2="290.69" y2="154.9" stroke="#333333" stroke-width="0.5"/>
<text transform="translate(292.69,160.8) rotate(-31)" font-size="5.0" fill="#505050" text-anchor="end">Mudstone</text>
<text x="290.69" y="107.4" font-size="6.4" fill="#111" text-anchor="middle">c</text>
<line x1="304.02" y1="153.3" x2="304.02" y2="154.9" stroke="#333333" stroke-width="0.5"/>
<text transform="translate(306.02,160.8) rotate(-31)" font-size="5.0" fill="#505050" text-anchor="end">Alluvial</text>
<text x="304.02" y="107.4" font-size="6.4" fill="#111" text-anchor="middle">c</text>
<line x1="317.35" y1="153.3" x2="317.35" y2="154.9" stroke="#333333" stroke-width="0.5"/>
<text transform="translate(319.35,160.8) rotate(-31)" font-size="5.0" fill="#505050" text-anchor="end">Sandstone</text>
<text x="317.35" y="107.4" font-size="6.4" fill="#111" text-anchor="middle">d</text>
<line x1="330.68" y1="153.3" x2="330.68" y2="154.9" stroke="#333333" stroke-width="0.5"/>
<text transform="translate(332.68,160.8) rotate(-31)" font-size="5.0" fill="#505050" text-anchor="end">Kerangas</text>
<text x="330.68" y="107.4" font-size="6.4" fill="#111" text-anchor="middle">e</text>
<path d="M251,139.2 L251.05,144.5 L251.72,144.75 L252.69,145 L253.6,145.25 L254.43,145.5 L255.17,145.75 L255.7,146 L255.17,146.37 L254.43,146.73 L253.6,147.1 L252.69,147.47 L251.72,147.83 L251.05,148.2 L251,150.5 L250.4,150.5 L250.35,148.2 L249.68,147.83 L248.71,147.47 L247.8,147.1 L246.97,146.73 L246.23,146.37 L245.7,146 L246.23,145.75 L246.97,145.5 L247.8,145.25 L248.71,145 L249.68,144.75 L250.35,144.5 L250.4,139.2Z" fill="#542788" stroke="#222" stroke-width="0.5" stroke-linejoin="round"/>
<rect x="249.75" y="139.2" width="1.9" height="5.8" fill="#1a1a1a"/>
<rect x="249.75" y="147.7" width="1.9" height="2.8" fill="#1a1a1a"/>
<rect x="249.6" y="145.33" width="2.2" height="1.33" fill="#f2f2f2" stroke="#555" stroke-width="0.35"/>
<circle cx="250.7" cy="146" r="0.55" fill="#333"/>
<path d="M264.33,141.5 L264.38,144.6 L265.15,144.83 L266.22,145.07 L267.22,145.3 L268.14,145.53 L268.94,145.77 L269.53,146 L268.94,146.33 L268.14,146.67 L267.22,147 L266.22,147.33 L265.15,147.67 L264.38,148 L264.33,150.5 L263.73,150.5 L263.68,148 L262.91,147.67 L261.84,147.33 L260.84,147 L259.92,146.67 L259.12,146.33 L258.53,146 L259.12,145.77 L259.92,145.53 L260.84,145.3 L261.84,145.07 L262.91,144.83 L263.68,144.6 L263.73,141.5Z" fill="#b2abd2" stroke="#222" stroke-width="0.5" stroke-linejoin="round"/>
<rect x="263.08" y="141.5" width="1.9" height="3.6" fill="#1a1a1a"/>
<rect x="263.08" y="147.5" width="1.9" height="3" fill="#1a1a1a"/>
<rect x="262.93" y="145.39" width="2.2" height="1.22" fill="#f2f2f2" stroke="#555" stroke-width="0.35"/>
<circle cx="264.03" cy="146" r="0.55" fill="#333"/>
<path d="M277.66,139.2 L277.71,140.7 L278.07,141.2 L278.75,141.7 L279.39,142.2 L279.97,142.7 L280.49,143.2 L280.86,143.7 L280.49,144.2 L279.97,144.7 L279.39,145.2 L278.75,145.7 L278.07,146.2 L277.71,146.7 L277.66,150.5 L277.06,150.5 L277.01,146.7 L276.65,146.2 L275.97,145.7 L275.33,145.2 L274.75,144.7 L274.23,144.2 L273.86,143.7 L274.23,143.2 L274.75,142.7 L275.33,142.2 L275.97,141.7 L276.65,141.2 L277.01,140.7 L277.06,139.2Z" fill="#8e0000" stroke="#222" stroke-width="0.5" stroke-linejoin="round"/>
<rect x="276.41" y="139.2" width="1.9" height="2" fill="#1a1a1a"/>
<rect x="276.41" y="146.2" width="1.9" height="4.3" fill="#1a1a1a"/>
<rect x="276.26" y="142.62" width="2.2" height="2.16" fill="#f2f2f2" stroke="#555" stroke-width="0.35"/>
<circle cx="277.36" cy="143.7" r="0.55" fill="#333"/>
<path d="M290.99,125 L291.04,134.7 L291.3,135.33 L291.88,135.97 L292.43,136.6 L292.93,137.23 L293.37,137.87 L293.69,138.5 L293.37,139.12 L292.93,139.73 L292.43,140.35 L291.88,140.97 L291.3,141.58 L291.04,142.2 L290.99,147.5 L290.39,147.5 L290.34,142.2 L290.08,141.58 L289.5,140.97 L288.95,140.35 L288.45,139.73 L288.01,139.12 L287.69,138.5 L288.01,137.87 L288.45,137.23 L288.95,136.6 L289.5,135.97 L290.08,135.33 L290.34,134.7 L290.39,125Z" fill="#80cdc1" stroke="#222" stroke-width="0.5" stroke-linejoin="round"/>
<rect x="289.74" y="125" width="1.9" height="10.2" fill="#1a1a1a"/>
<rect x="289.74" y="141.7" width="1.9" height="5.8" fill="#1a1a1a"/>
<rect x="289.59" y="137.15" width="2.2" height="2.7" fill="#f2f2f2" stroke="#555" stroke-width="0.35"/>
<circle cx="290.69" cy="138.5" r="0.55" fill="#333"/>
<path d="M304.32,130.2 L304.37,134.7 L304.63,135.33 L305.21,135.97 L305.76,136.6 L306.26,137.23 L306.7,137.87 L307.02,138.5 L306.7,139.12 L306.26,139.73 L305.76,140.35 L305.21,140.97 L304.63,141.58 L304.37,142.2 L304.32,150.5 L303.72,150.5 L303.67,142.2 L303.41,141.58 L302.83,140.97 L302.28,140.35 L301.78,139.73 L301.34,139.12 L301.02,138.5 L301.34,137.87 L301.78,137.23 L302.28,136.6 L302.83,135.97 L303.41,135.33 L303.67,134.7 L303.72,130.2Z" fill="#01665e" stroke="#222" stroke-width="0.5" stroke-linejoin="round"/>
<rect x="303.07" y="130.2" width="1.9" height="5" fill="#1a1a1a"/>
<rect x="303.07" y="141.7" width="1.9" height="8.8" fill="#1a1a1a"/>
<rect x="302.92" y="137.15" width="2.2" height="2.7" fill="#f2f2f2" stroke="#555" stroke-width="0.35"/>
<circle cx="304.02" cy="138.5" r="0.55" fill="#333"/>
<path d="M317.65,122 L317.7,129.5 L317.76,130.12 L318.15,130.73 L318.51,131.35 L318.84,131.97 L319.14,132.58 L319.35,133.2 L319.14,133.95 L318.84,134.7 L318.51,135.45 L318.15,136.2 L317.76,136.95 L317.7,137.7 L317.65,146 L317.05,146 L317,137.7 L316.94,136.95 L316.55,136.2 L316.19,135.45 L315.86,134.7 L315.56,133.95 L315.35,133.2 L315.56,132.58 L315.86,131.97 L316.19,131.35 L316.55,130.73 L316.94,130.12 L317,129.5 L317.05,122Z" fill="#bf812d" stroke="#222" stroke-width="0.5" stroke-linejoin="round"/>
<rect x="316.4" y="122" width="1.9" height="8" fill="#1a1a1a"/>
<rect x="316.4" y="137.2" width="1.9" height="8.8" fill="#1a1a1a"/>
<rect x="316.25" y="131.72" width="2.2" height="2.95" fill="#f2f2f2" stroke="#555" stroke-width="0.35"/>
<circle cx="317.35" cy="133.2" r="0.55" fill="#333"/>
<path d="M330.98,108.5 L331.03,118.2 L331.09,119.33 L331.48,120.47 L331.84,121.6 L332.17,122.73 L332.47,123.87 L332.68,125 L332.47,126.12 L332.17,127.23 L331.84,128.35 L331.48,129.47 L331.09,130.58 L331.03,131.7 L330.98,143 L330.38,143 L330.33,131.7 L330.27,130.58 L329.88,129.47 L329.52,128.35 L329.19,127.23 L328.89,126.12 L328.68,125 L328.89,123.87 L329.19,122.73 L329.52,121.6 L329.88,120.47 L330.27,119.33 L330.33,118.2 L330.38,108.5Z" fill="#dfc27d" stroke="#222" stroke-width="0.5" stroke-linejoin="round"/>
<rect x="329.73" y="108.5" width="1.9" height="10.2" fill="#1a1a1a"/>
<rect x="329.73" y="131.2" width="1.9" height="11.8" fill="#1a1a1a"/>
<rect x="329.58" y="122.57" width="2.2" height="4.86" fill="#f2f2f2" stroke="#555" stroke-width="0.35"/>
<circle cx="330.68" cy="125" r="0.55" fill="#333"/>
<rect x="21.4" y="178.3" width="95.9" height="13" fill="#fff" stroke="#333333" stroke-width="0.8"/>
<text x="69.35" y="186.9" font-size="5.2" fill="#1a1a1a" text-anchor="middle">P : H *</text>
<path d="M21.4,191.3 V242.5 H117.3" fill="none" stroke="#333333" stroke-width="0.95"/>
<line x1="19.8" y1="196.8" x2="21.4" y2="196.8" stroke="#333333" stroke-width="0.5"/>
<text x="19.1" y="198.7" font-size="5.2" fill="#505050" text-anchor="end">1.00</text>
<line x1="19.8" y1="210.2" x2="21.4" y2="210.2" stroke="#333333" stroke-width="0.5"/>
<text x="19.1" y="212.1" font-size="5.2" fill="#505050" text-anchor="end">0.75</text>
<line x1="19.8" y1="223.5" x2="21.4" y2="223.5" stroke="#333333" stroke-width="0.5"/>
<text x="19.1" y="225.4" font-size="5.2" fill="#505050" text-anchor="end">0.50</text>
<line x1="19.8" y1="236.9" x2="21.4" y2="236.9" stroke="#333333" stroke-width="0.5"/>
<text x="19.1" y="238.8" font-size="5.2" fill="#505050" text-anchor="end">0.25</text>
<line x1="29.4" y1="242.5" x2="29.4" y2="244.1" stroke="#333333" stroke-width="0.5"/>
<text transform="translate(31.4,250) rotate(-31)" font-size="5.0" fill="#505050" text-anchor="end">Danum1</text>
<text x="29.4" y="196.5" font-size="6.4" fill="#111" text-anchor="middle">a</text>
<line x1="42.73" y1="242.5" x2="42.73" y2="244.1" stroke="#333333" stroke-width="0.5"/>
<text transform="translate(44.73,250) rotate(-31)" font-size="5.0" fill="#505050" text-anchor="end">Danum2</text>
<text x="42.73" y="196.5" font-size="6.4" fill="#111" text-anchor="middle">b</text>
<line x1="56.06" y1="242.5" x2="56.06" y2="244.1" stroke="#333333" stroke-width="0.5"/>
<text transform="translate(58.06,250) rotate(-31)" font-size="5.0" fill="#505050" text-anchor="end">Danum3</text>
<line x1="69.39" y1="242.5" x2="69.39" y2="244.1" stroke="#333333" stroke-width="0.5"/>
<text transform="translate(71.39,250) rotate(-31)" font-size="5.0" fill="#505050" text-anchor="end">Mudstone</text>
<text x="69.39" y="196.5" font-size="6.4" fill="#111" text-anchor="middle">c</text>
<line x1="82.72" y1="242.5" x2="82.72" y2="244.1" stroke="#333333" stroke-width="0.5"/>
<text transform="translate(84.72,250) rotate(-31)" font-size="5.0" fill="#505050" text-anchor="end">Alluvial</text>
<text x="82.72" y="196.5" font-size="6.4" fill="#111" text-anchor="middle">b</text>
<line x1="96.05" y1="242.5" x2="96.05" y2="244.1" stroke="#333333" stroke-width="0.5"/>
<text transform="translate(98.05,250) rotate(-31)" font-size="5.0" fill="#505050" text-anchor="end">Sandstone</text>
<text x="96.05" y="196.5" font-size="6.4" fill="#111" text-anchor="middle">d</text>
<line x1="109.38" y1="242.5" x2="109.38" y2="244.1" stroke="#333333" stroke-width="0.5"/>
<text transform="translate(111.38,250) rotate(-31)" font-size="5.0" fill="#505050" text-anchor="end">Kerangas</text>
<text x="109.38" y="196.5" font-size="6.4" fill="#111" text-anchor="middle">d</text>
<path d="M29.7,204.7 L29.75,208.9 L30.89,210.4 L32.14,211.9 L33.13,213.4 L33.87,214.9 L34.33,216.4 L34.5,217.9 L34.33,219.92 L33.87,221.93 L33.13,223.95 L32.14,225.97 L30.89,227.98 L29.75,230 L29.7,231.8 L29.1,231.8 L29.05,230 L27.91,227.98 L26.66,225.97 L25.67,223.95 L24.93,221.93 L24.47,219.92 L24.3,217.9 L24.47,216.4 L24.93,214.9 L25.67,213.4 L26.66,211.9 L27.91,210.4 L29.05,208.9 L29.1,204.7Z" fill="#542788" stroke="#222" stroke-width="0.5" stroke-linejoin="round"/>
<rect x="28.65" y="204.7" width="1.5" height="4.7" fill="#1a1a1a"/>
<rect x="28.65" y="229.5" width="1.5" height="2.3" fill="#1a1a1a"/>
<rect x="28.3" y="214.1" width="2.2" height="7.6" fill="#f2f2f2" stroke="#555" stroke-width="0.35"/>
<circle cx="29.4" cy="217.9" r="0.55" fill="#333"/>
<path d="M43.03,199.5 L43.08,204 L44.56,205.05 L46.09,206.1 L47.31,207.15 L48.2,208.2 L48.77,209.25 L48.98,210.3 L48.77,211.92 L48.2,213.53 L47.31,215.15 L46.09,216.77 L44.56,218.38 L43.08,220 L43.03,224.5 L42.43,224.5 L42.38,220 L40.9,218.38 L39.37,216.77 L38.15,215.15 L37.26,213.53 L36.69,211.92 L36.48,210.3 L36.69,209.25 L37.26,208.2 L38.15,207.15 L39.37,206.1 L40.9,205.05 L42.38,204 L42.43,199.5Z" fill="#b2abd2" stroke="#222" stroke-width="0.5" stroke-linejoin="round"/>
<rect x="41.98" y="199.5" width="1.5" height="5" fill="#1a1a1a"/>
<rect x="41.98" y="219.5" width="1.5" height="5" fill="#1a1a1a"/>
<rect x="41.63" y="207.42" width="2.2" height="5.76" fill="#f2f2f2" stroke="#555" stroke-width="0.35"/>
<circle cx="42.73" cy="210.3" r="0.55" fill="#333"/>
<path d="M56.36,200.5 L56.41,204 L57.61,205.28 L58.91,206.57 L59.94,207.85 L60.7,209.13 L61.18,210.42 L61.36,211.7 L61.18,213.2 L60.7,214.7 L59.94,216.2 L58.91,217.7 L57.61,219.2 L56.41,220.7 L56.36,227.6 L55.76,227.6 L55.71,220.7 L54.51,219.2 L53.21,217.7 L52.18,216.2 L51.42,214.7 L50.94,213.2 L50.76,211.7 L50.94,210.42 L51.42,209.13 L52.18,207.85 L53.21,206.57 L54.51,205.28 L55.71,204 L55.76,200.5Z" fill="#8e0000" stroke="#222" stroke-width="0.5" stroke-linejoin="round"/>
<rect x="55.31" y="200.5" width="1.5" height="4" fill="#1a1a1a"/>
<rect x="55.31" y="220.2" width="1.5" height="7.4" fill="#1a1a1a"/>
<rect x="54.96" y="208.69" width="2.2" height="6.01" fill="#f2f2f2" stroke="#555" stroke-width="0.35"/>
<circle cx="56.06" cy="211.7" r="0.55" fill="#333"/>
<path d="M69.69,203.5 L69.74,208.2 L70.74,209.92 L71.86,211.63 L72.76,213.35 L73.42,215.07 L73.84,216.78 L73.99,218.5 L73.84,220.37 L73.42,222.23 L72.76,224.1 L71.86,225.97 L70.74,227.83 L69.74,229.7 L69.69,239.5 L69.09,239.5 L69.04,229.7 L68.04,227.83 L66.92,225.97 L66.02,224.1 L65.36,222.23 L64.94,220.37 L64.79,218.5 L64.94,216.78 L65.36,215.07 L66.02,213.35 L66.92,211.63 L68.04,209.92 L69.04,208.2 L69.09,203.5Z" fill="#80cdc1" stroke="#222" stroke-width="0.5" stroke-linejoin="round"/>
<rect x="68.64" y="203.5" width="1.5" height="5.2" fill="#1a1a1a"/>
<rect x="68.64" y="229.2" width="1.5" height="10.3" fill="#1a1a1a"/>
<rect x="68.29" y="214.63" width="2.2" height="7.74" fill="#f2f2f2" stroke="#555" stroke-width="0.35"/>
<circle cx="69.39" cy="218.5" r="0.55" fill="#333"/>
<path d="M83.02,198.5 L83.07,202.6 L84.27,204 L85.57,205.4 L86.6,206.8 L87.36,208.2 L87.84,209.6 L88.02,211 L87.84,212.5 L87.36,214 L86.6,215.5 L85.57,217 L84.27,218.5 L83.07,220 L83.02,227.6 L82.42,227.6 L82.37,220 L81.17,218.5 L79.87,217 L78.84,215.5 L78.08,214 L77.6,212.5 L77.42,211 L77.6,209.6 L78.08,208.2 L78.84,206.8 L79.87,205.4 L81.17,204 L82.37,202.6 L82.42,198.5Z" fill="#01665e" stroke="#222" stroke-width="0.5" stroke-linejoin="round"/>
<rect x="81.97" y="198.5" width="1.5" height="4.6" fill="#1a1a1a"/>
<rect x="81.97" y="219.5" width="1.5" height="8.1" fill="#1a1a1a"/>
<rect x="81.62" y="207.87" width="2.2" height="6.26" fill="#f2f2f2" stroke="#555" stroke-width="0.35"/>
<circle cx="82.72" cy="211" r="0.55" fill="#333"/>
<path d="M96.35,196.4 L96.4,202 L97.81,202.63 L99.27,203.27 L100.44,203.9 L101.31,204.53 L101.85,205.17 L102.05,205.8 L101.85,207.47 L101.31,209.13 L100.44,210.8 L99.27,212.47 L97.81,214.13 L96.4,215.8 L96.35,228.3 L95.75,228.3 L95.7,215.8 L94.29,214.13 L92.83,212.47 L91.66,210.8 L90.79,209.13 L90.25,207.47 L90.05,205.8 L90.25,205.17 L90.79,204.53 L91.66,203.9 L92.83,203.27 L94.29,202.63 L95.7,202 L95.75,196.4Z" fill="#bf812d" stroke="#222" stroke-width="0.5" stroke-linejoin="round"/>
<rect x="95.3" y="196.4" width="1.5" height="6.1" fill="#1a1a1a"/>
<rect x="95.3" y="215.3" width="1.5" height="13" fill="#1a1a1a"/>
<rect x="94.95" y="203.32" width="2.2" height="4.97" fill="#f2f2f2" stroke="#555" stroke-width="0.35"/>
<circle cx="96.05" cy="205.8" r="0.55" fill="#333"/>
<path d="M109.68,196.4 L109.73,202 L111.14,202.67 L112.6,203.33 L113.77,204 L114.64,204.67 L115.18,205.33 L115.38,206 L115.18,207.63 L114.64,209.27 L113.77,210.9 L112.6,212.53 L111.14,214.17 L109.73,215.8 L109.68,233.5 L109.08,233.5 L109.03,215.8 L107.62,214.17 L106.16,212.53 L104.99,210.9 L104.12,209.27 L103.58,207.63 L103.38,206 L103.58,205.33 L104.12,204.67 L104.99,204 L106.16,203.33 L107.62,202.67 L109.03,202 L109.08,196.4Z" fill="#dfc27d" stroke="#222" stroke-width="0.5" stroke-linejoin="round"/>
<rect x="108.63" y="196.4" width="1.5" height="6.1" fill="#1a1a1a"/>
<rect x="108.63" y="215.3" width="1.5" height="18.2" fill="#1a1a1a"/>
<rect x="108.28" y="203.52" width="2.2" height="4.97" fill="#f2f2f2" stroke="#555" stroke-width="0.35"/>
<circle cx="109.38" cy="206" r="0.55" fill="#333"/>
<rect x="133.3" y="178.3" width="95.6" height="13" fill="#fff" stroke="#333333" stroke-width="0.8"/>
<text x="181.1" y="186.9" font-size="5.2" fill="#1a1a1a" text-anchor="middle">Height peak LAI (m) *</text>
<path d="M133.3,191.3 V242.5 H228.9" fill="none" stroke="#333333" stroke-width="0.95"/>
<line x1="131.7" y1="202" x2="133.3" y2="202" stroke="#333333" stroke-width="0.5"/>
<text x="131" y="203.9" font-size="5.2" fill="#505050" text-anchor="end">60</text>
<line x1="131.7" y1="213.7" x2="133.3" y2="213.7" stroke="#333333" stroke-width="0.5"/>
<text x="131" y="215.6" font-size="5.2" fill="#505050" text-anchor="end">40</text>
<line x1="131.7" y1="225.5" x2="133.3" y2="225.5" stroke="#333333" stroke-width="0.5"/>
<text x="131" y="227.4" font-size="5.2" fill="#505050" text-anchor="end">20</text>
<line x1="131.7" y1="237" x2="133.3" y2="237" stroke="#333333" stroke-width="0.5"/>
<text x="131" y="238.9" font-size="5.2" fill="#505050" text-anchor="end">0</text>
<line x1="141.3" y1="242.5" x2="141.3" y2="244.1" stroke="#333333" stroke-width="0.5"/>
<text transform="translate(143.3,250) rotate(-31)" font-size="5.0" fill="#505050" text-anchor="end">Danum1</text>
<text x="141.3" y="196.5" font-size="6.4" fill="#111" text-anchor="middle">a</text>
<line x1="154.63" y1="242.5" x2="154.63" y2="244.1" stroke="#333333" stroke-width="0.5"/>
<text transform="translate(156.63,250) rotate(-31)" font-size="5.0" fill="#505050" text-anchor="end">Danum2</text>
<text x="154.63" y="196.5" font-size="6.4" fill="#111" text-anchor="middle">b</text>
<line x1="167.96" y1="242.5" x2="167.96" y2="244.1" stroke="#333333" stroke-width="0.5"/>
<text transform="translate(169.96,250) rotate(-31)" font-size="5.0" fill="#505050" text-anchor="end">Danum3</text>
<line x1="181.29" y1="242.5" x2="181.29" y2="244.1" stroke="#333333" stroke-width="0.5"/>
<text transform="translate(183.29,250) rotate(-31)" font-size="5.0" fill="#505050" text-anchor="end">Mudstone</text>
<text x="181.29" y="196.5" font-size="6.4" fill="#111" text-anchor="middle">a</text>
<line x1="194.62" y1="242.5" x2="194.62" y2="244.1" stroke="#333333" stroke-width="0.5"/>
<text transform="translate(196.62,250) rotate(-31)" font-size="5.0" fill="#505050" text-anchor="end">Alluvial</text>
<text x="194.62" y="196.5" font-size="6.4" fill="#111" text-anchor="middle">b</text>
<line x1="207.95" y1="242.5" x2="207.95" y2="244.1" stroke="#333333" stroke-width="0.5"/>
<text transform="translate(209.95,250) rotate(-31)" font-size="5.0" fill="#505050" text-anchor="end">Sandstone</text>
<text x="207.95" y="196.5" font-size="6.4" fill="#111" text-anchor="middle">c</text>
<line x1="221.28" y1="242.5" x2="221.28" y2="244.1" stroke="#333333" stroke-width="0.5"/>
<text transform="translate(223.28,250) rotate(-31)" font-size="5.0" fill="#505050" text-anchor="end">Kerangas</text>
<text x="221.28" y="196.5" font-size="6.4" fill="#111" text-anchor="middle">d</text>
<path d="M141.6,214.7 L142.5,228 L147.3,235 L141.9,238 L140.7,238 L135.3,235 L140.1,228 L141,214.7Z" fill="#542788" stroke="#222" stroke-width="0.5" stroke-linejoin="round"/>
<rect x="140.55" y="214.7" width="1.5" height="13.3" fill="#1a1a1a"/>
<rect x="140.2" y="231" width="2.2" height="5" fill="#f2f2f2" stroke="#555" stroke-width="0.35"/>
<circle cx="141.3" cy="233.5" r="0.55" fill="#333"/>
<path d="M154.93,199 L155.63,224 L157.13,234 L155.23,238 L154.03,238 L152.13,234 L153.63,224 L154.33,199Z" fill="#b2abd2" stroke="#222" stroke-width="0.5" stroke-linejoin="round"/>
<rect x="153.88" y="199" width="1.5" height="25.5" fill="#1a1a1a"/>
<rect x="153.53" y="228" width="2.2" height="8" fill="#f2f2f2" stroke="#555" stroke-width="0.35"/>
<circle cx="154.63" cy="232" r="0.55" fill="#333"/>
<path d="M168.26,201.2 L169.16,226 L171.46,234 L168.56,239.5 L167.36,239.5 L164.46,234 L166.76,226 L167.66,201.2Z" fill="#8e0000" stroke="#222" stroke-width="0.5" stroke-linejoin="round"/>
<rect x="167.21" y="203.5" width="1.5" height="24" fill="#1a1a1a"/>
<rect x="166.86" y="229" width="2.2" height="7" fill="#f2f2f2" stroke="#555" stroke-width="0.35"/>
<circle cx="167.96" cy="232.5" r="0.55" fill="#333"/>
<path d="M181.59,215.5 L182.79,228 L186.79,234 L181.89,237.5 L180.69,237.5 L175.79,234 L179.79,228 L180.99,215.5Z" fill="#80cdc1" stroke="#222" stroke-width="0.5" stroke-linejoin="round"/>
<rect x="180.54" y="215.5" width="1.5" height="13.5" fill="#1a1a1a"/>
<rect x="180.19" y="231" width="2.2" height="5" fill="#f2f2f2" stroke="#555" stroke-width="0.35"/>
<circle cx="181.29" cy="233.5" r="0.55" fill="#333"/>
<path d="M194.92,199 L195.82,224 L197.62,233 L195.22,238 L194.02,238 L191.62,233 L193.42,224 L194.32,199Z" fill="#01665e" stroke="#222" stroke-width="0.5" stroke-linejoin="round"/>
<rect x="193.87" y="200" width="1.5" height="24.5" fill="#1a1a1a"/>
<rect x="193.52" y="228" width="2.2" height="8" fill="#f2f2f2" stroke="#555" stroke-width="0.35"/>
<circle cx="194.62" cy="232" r="0.55" fill="#333"/>
<rect x="206.85" y="199.2" width="2.2" height="41.4" fill="#cfcfcf"/>
<path d="M208.55,211.7 L209.55,214 L209.95,217 L209.45,222.8 L209.15,230 L208.35,240.3 L207.55,240.3 L206.75,230 L206.45,222.8 L205.95,217 L206.35,214 L207.35,211.7Z" fill="#bf812d" stroke="#222" stroke-width="0.5" stroke-linejoin="round"/>
<rect x="206.85" y="215" width="2.2" height="8" fill="#f2f2f2" stroke="#555" stroke-width="0.35"/>
<circle cx="207.95" cy="219" r="0.55" fill="#333"/>
<path d="M221.58,206.1 L222.08,215.8 L223.68,219 L224.08,222 L223.48,226 L222.68,231 L221.58,240 L220.98,240 L219.88,231 L219.08,226 L218.48,222 L218.88,219 L220.48,215.8 L220.98,206.1Z" fill="#dfc27d" stroke="#222" stroke-width="0.5" stroke-linejoin="round"/>
<rect x="220.53" y="206.1" width="1.5" height="4.9" fill="#1a1a1a"/>
<rect x="220.18" y="218" width="2.2" height="10" fill="#f2f2f2" stroke="#555" stroke-width="0.35"/>
<circle cx="221.28" cy="223" r="0.55" fill="#333"/>
<rect x="242.7" y="178.3" width="95.8" height="13" fill="#fff" stroke="#333333" stroke-width="0.8"/>
<text x="290.6" y="186.9" font-size="5.2" fill="#1a1a1a" text-anchor="middle">Vc<tspan font-size="3.8" dy="1.5">max</tspan><tspan dy="-1.5"> (&#956; mol m</tspan><tspan font-size="3.6" dy="-2">-2</tspan><tspan dy="2"> s</tspan><tspan font-size="3.6" dy="-2">-1</tspan><tspan dy="2">) *</tspan></text>
<path d="M242.7,191.3 V242.5 H338.5" fill="none" stroke="#333333" stroke-width="0.95"/>
<line x1="241.1" y1="197.9" x2="242.7" y2="197.9" stroke="#333333" stroke-width="0.5"/>
<text x="240.4" y="199.8" font-size="5.2" fill="#505050" text-anchor="end">60</text>
<line x1="241.1" y1="207.3" x2="242.7" y2="207.3" stroke="#333333" stroke-width="0.5"/>
<text x="240.4" y="209.2" font-size="5.2" fill="#505050" text-anchor="end">55</text>
<line x1="241.1" y1="216.7" x2="242.7" y2="216.7" stroke="#333333" stroke-width="0.5"/>
<text x="240.4" y="218.6" font-size="5.2" fill="#505050" text-anchor="end">50</text>
<line x1="241.1" y1="226.1" x2="242.7" y2="226.1" stroke="#333333" stroke-width="0.5"/>
<text x="240.4" y="228" font-size="5.2" fill="#505050" text-anchor="end">45</text>
<line x1="241.1" y1="235.5" x2="242.7" y2="235.5" stroke="#333333" stroke-width="0.5"/>
<text x="240.4" y="237.4" font-size="5.2" fill="#505050" text-anchor="end">40</text>
<line x1="250.7" y1="242.5" x2="250.7" y2="244.1" stroke="#333333" stroke-width="0.5"/>
<text transform="translate(252.7,250) rotate(-31)" font-size="5.0" fill="#505050" text-anchor="end">Danum1</text>
<text x="250.7" y="196.5" font-size="6.4" fill="#111" text-anchor="middle">a</text>
<line x1="264.03" y1="242.5" x2="264.03" y2="244.1" stroke="#333333" stroke-width="0.5"/>
<text transform="translate(266.03,250) rotate(-31)" font-size="5.0" fill="#505050" text-anchor="end">Danum2</text>
<text x="264.03" y="196.5" font-size="6.4" fill="#111" text-anchor="middle">b</text>
<line x1="277.36" y1="242.5" x2="277.36" y2="244.1" stroke="#333333" stroke-width="0.5"/>
<text transform="translate(279.36,250) rotate(-31)" font-size="5.0" fill="#505050" text-anchor="end">Danum3</text>
<line x1="290.69" y1="242.5" x2="290.69" y2="244.1" stroke="#333333" stroke-width="0.5"/>
<text transform="translate(292.69,250) rotate(-31)" font-size="5.0" fill="#505050" text-anchor="end">Mudstone</text>
<text x="290.69" y="196.5" font-size="6.4" fill="#111" text-anchor="middle">c</text>
<line x1="304.02" y1="242.5" x2="304.02" y2="244.1" stroke="#333333" stroke-width="0.5"/>
<text transform="translate(306.02,250) rotate(-31)" font-size="5.0" fill="#505050" text-anchor="end">Alluvial</text>
<text x="304.02" y="196.5" font-size="6.4" fill="#111" text-anchor="middle">d</text>
<line x1="317.35" y1="242.5" x2="317.35" y2="244.1" stroke="#333333" stroke-width="0.5"/>
<text transform="translate(319.35,250) rotate(-31)" font-size="5.0" fill="#505050" text-anchor="end">Sandstone</text>
<text x="317.35" y="196.5" font-size="6.4" fill="#111" text-anchor="middle">c</text>
<line x1="330.68" y1="242.5" x2="330.68" y2="244.1" stroke="#333333" stroke-width="0.5"/>
<text transform="translate(332.68,250) rotate(-31)" font-size="5.0" fill="#505050" text-anchor="end">Kerangas</text>
<text x="330.68" y="196.5" font-size="6.4" fill="#111" text-anchor="middle">e</text>
<path d="M251,205 L251.05,211.7 L251.72,212.58 L252.69,213.47 L253.6,214.35 L254.43,215.23 L255.17,216.12 L255.7,217 L255.17,218 L254.43,219 L253.6,220 L252.69,221 L251.72,222 L251.05,223 L251,234.2 L250.4,234.2 L250.35,223 L249.68,222 L248.71,221 L247.8,220 L246.97,219 L246.23,218 L245.7,217 L246.23,216.12 L246.97,215.23 L247.8,214.35 L248.71,213.47 L249.68,212.58 L250.35,211.7 L250.4,205Z" fill="#542788" stroke="#222" stroke-width="0.5" stroke-linejoin="round"/>
<rect x="249.95" y="205" width="1.5" height="7.2" fill="#1a1a1a"/>
<rect x="249.95" y="222.5" width="1.5" height="11.7" fill="#1a1a1a"/>
<rect x="249.6" y="214.97" width="2.2" height="4.07" fill="#f2f2f2" stroke="#555" stroke-width="0.35"/>
<circle cx="250.7" cy="217" r="0.55" fill="#333"/>
<path d="M264.33,202 L264.38,208.7 L265.05,209.7 L266.02,210.7 L266.93,211.7 L267.76,212.7 L268.5,213.7 L269.03,214.7 L268.5,215.7 L267.76,216.7 L266.93,217.7 L266.02,218.7 L265.05,219.7 L264.38,220.7 L264.33,227.5 L263.73,227.5 L263.68,220.7 L263.01,219.7 L262.04,218.7 L261.13,217.7 L260.3,216.7 L259.56,215.7 L259.03,214.7 L259.56,213.7 L260.3,212.7 L261.13,211.7 L262.04,210.7 L263.01,209.7 L263.68,208.7 L263.73,202Z" fill="#b2abd2" stroke="#222" stroke-width="0.5" stroke-linejoin="round"/>
<rect x="263.28" y="202" width="1.5" height="7.2" fill="#1a1a1a"/>
<rect x="263.28" y="220.2" width="1.5" height="7.3" fill="#1a1a1a"/>
<rect x="262.93" y="212.54" width="2.2" height="4.32" fill="#f2f2f2" stroke="#555" stroke-width="0.35"/>
<circle cx="264.03" cy="214.7" r="0.55" fill="#333"/>
<path d="M277.66,204.2 L277.71,209.5 L278.38,210.5 L279.35,211.5 L280.26,212.5 L281.09,213.5 L281.83,214.5 L282.36,215.5 L281.83,216.37 L281.09,217.23 L280.26,218.1 L279.35,218.97 L278.38,219.83 L277.71,220.7 L277.66,226 L277.06,226 L277.01,220.7 L276.34,219.83 L275.37,218.97 L274.46,218.1 L273.63,217.23 L272.89,216.37 L272.36,215.5 L272.89,214.5 L273.63,213.5 L274.46,212.5 L275.37,211.5 L276.34,210.5 L277.01,209.5 L277.06,204.2Z" fill="#8e0000" stroke="#222" stroke-width="0.5" stroke-linejoin="round"/>
<rect x="276.61" y="204.2" width="1.5" height="5.8" fill="#1a1a1a"/>
<rect x="276.61" y="220.2" width="1.5" height="5.8" fill="#1a1a1a"/>
<rect x="276.26" y="213.48" width="2.2" height="4.03" fill="#f2f2f2" stroke="#555" stroke-width="0.35"/>
<circle cx="277.36" cy="215.5" r="0.55" fill="#333"/>
<path d="M290.99,201.2 L291.04,215.5 L291.71,216.5 L292.68,217.5 L293.59,218.5 L294.42,219.5 L295.16,220.5 L295.69,221.5 L295.16,222.37 L294.42,223.23 L293.59,224.1 L292.68,224.97 L291.71,225.83 L291.04,226.7 L290.99,230.5 L290.39,230.5 L290.34,226.7 L289.67,225.83 L288.7,224.97 L287.79,224.1 L286.96,223.23 L286.22,222.37 L285.69,221.5 L286.22,220.5 L286.96,219.5 L287.79,218.5 L288.7,217.5 L289.67,216.5 L290.34,215.5 L290.39,201.2Z" fill="#80cdc1" stroke="#222" stroke-width="0.5" stroke-linejoin="round"/>
<rect x="289.94" y="201.2" width="1.5" height="14.8" fill="#1a1a1a"/>
<rect x="289.94" y="226.2" width="1.5" height="4.3" fill="#1a1a1a"/>
<rect x="289.59" y="219.48" width="2.2" height="4.03" fill="#f2f2f2" stroke="#555" stroke-width="0.35"/>
<circle cx="290.69" cy="221.5" r="0.55" fill="#333"/>
<path d="M304.32,198.2 L304.37,212.5 L304.94,213.5 L305.81,214.5 L306.63,215.5 L307.38,216.5 L308.04,217.5 L308.52,218.5 L308.04,219.62 L307.38,220.73 L306.63,221.85 L305.81,222.97 L304.94,224.08 L304.37,225.2 L304.32,229 L303.72,229 L303.67,225.2 L303.1,224.08 L302.23,222.97 L301.41,221.85 L300.66,220.73 L300,219.62 L299.52,218.5 L300,217.5 L300.66,216.5 L301.41,215.5 L302.23,214.5 L303.1,213.5 L303.67,212.5 L303.72,198.2Z" fill="#01665e" stroke="#222" stroke-width="0.5" stroke-linejoin="round"/>
<rect x="303.27" y="198.2" width="1.5" height="14.8" fill="#1a1a1a"/>
<rect x="303.27" y="224.7" width="1.5" height="4.3" fill="#1a1a1a"/>
<rect x="302.92" y="216.21" width="2.2" height="4.57" fill="#f2f2f2" stroke="#555" stroke-width="0.35"/>
<circle cx="304.02" cy="218.5" r="0.55" fill="#333"/>
<path d="M317.65,208 L317.7,216 L318.37,216.92 L319.34,217.83 L320.25,218.75 L321.08,219.67 L321.82,220.58 L322.35,221.5 L321.82,222.42 L321.08,223.33 L320.25,224.25 L319.34,225.17 L318.37,226.08 L317.7,227 L317.65,230.5 L317.05,230.5 L317,227 L316.33,226.08 L315.36,225.17 L314.45,224.25 L313.62,223.33 L312.88,222.42 L312.35,221.5 L312.88,220.58 L313.62,219.67 L314.45,218.75 L315.36,217.83 L316.33,216.92 L317,216 L317.05,208Z" fill="#bf812d" stroke="#222" stroke-width="0.5" stroke-linejoin="round"/>
<rect x="316.6" y="208" width="1.5" height="8.5" fill="#1a1a1a"/>
<rect x="316.6" y="226.5" width="1.5" height="4" fill="#1a1a1a"/>
<rect x="316.25" y="219.52" width="2.2" height="3.96" fill="#f2f2f2" stroke="#555" stroke-width="0.35"/>
<circle cx="317.35" cy="221.5" r="0.55" fill="#333"/>
<path d="M330.98,219.2 L331.03,220.7 L331.9,221.58 L333.07,222.47 L334.16,223.35 L335.16,224.23 L336.04,225.12 L336.68,226 L336.04,226.87 L335.16,227.73 L334.16,228.6 L333.07,229.47 L331.9,230.33 L331.03,231.2 L330.98,239.5 L330.38,239.5 L330.33,231.2 L329.46,230.33 L328.29,229.47 L327.2,228.6 L326.2,227.73 L325.32,226.87 L324.68,226 L325.32,225.12 L326.2,224.23 L327.2,223.35 L328.29,222.47 L329.46,221.58 L330.33,220.7 L330.38,219.2Z" fill="#dfc27d" stroke="#222" stroke-width="0.5" stroke-linejoin="round"/>
<rect x="329.93" y="219.2" width="1.5" height="2" fill="#1a1a1a"/>
<rect x="329.93" y="230.7" width="1.5" height="8.8" fill="#1a1a1a"/>
<rect x="329.58" y="224.11" width="2.2" height="3.78" fill="#f2f2f2" stroke="#555" stroke-width="0.35"/>
<circle cx="330.68" cy="226" r="0.55" fill="#333"/>
<rect x="21.4" y="267.5" width="95.9" height="13" fill="#fff" stroke="#333333" stroke-width="0.8"/>
<text x="69.35" y="276.1" font-size="5.2" fill="#1a1a1a" text-anchor="middle">LAI ( m<tspan font-size="3.6" dy="-2">2</tspan><tspan dy="2"> m</tspan><tspan font-size="3.6" dy="-2">-2</tspan><tspan dy="2">)</tspan></text>
<path d="M21.4,280.5 V331.7 H117.3" fill="none" stroke="#333333" stroke-width="0.95"/>
<line x1="19.8" y1="296.2" x2="21.4" y2="296.2" stroke="#333333" stroke-width="0.5"/>
<text x="19.1" y="298.1" font-size="5.2" fill="#505050" text-anchor="end">10</text>
<line x1="19.8" y1="312.5" x2="21.4" y2="312.5" stroke="#333333" stroke-width="0.5"/>
<text x="19.1" y="314.4" font-size="5.2" fill="#505050" text-anchor="end">5</text>
<line x1="19.8" y1="329" x2="21.4" y2="329" stroke="#333333" stroke-width="0.5"/>
<text x="19.1" y="330.9" font-size="5.2" fill="#505050" text-anchor="end">0</text>
<line x1="29.4" y1="331.7" x2="29.4" y2="333.3" stroke="#333333" stroke-width="0.5"/>
<text transform="translate(31.4,339.2) rotate(-31)" font-size="5.0" fill="#505050" text-anchor="end">Danum1</text>
<text x="29.4" y="285.7" font-size="6.4" fill="#111" text-anchor="middle">a</text>
<line x1="42.73" y1="331.7" x2="42.73" y2="333.3" stroke="#333333" stroke-width="0.5"/>
<text transform="translate(44.73,339.2) rotate(-31)" font-size="5.0" fill="#505050" text-anchor="end">Danum2</text>
<text x="42.73" y="285.7" font-size="6.4" fill="#111" text-anchor="middle">b</text>
<line x1="56.06" y1="331.7" x2="56.06" y2="333.3" stroke="#333333" stroke-width="0.5"/>
<text transform="translate(58.06,339.2) rotate(-31)" font-size="5.0" fill="#505050" text-anchor="end">Danum3</text>
<line x1="69.39" y1="331.7" x2="69.39" y2="333.3" stroke="#333333" stroke-width="0.5"/>
<text transform="translate(71.39,339.2) rotate(-31)" font-size="5.0" fill="#505050" text-anchor="end">Mudstone</text>
<text x="69.39" y="285.7" font-size="6.4" fill="#111" text-anchor="middle">a</text>
<line x1="82.72" y1="331.7" x2="82.72" y2="333.3" stroke="#333333" stroke-width="0.5"/>
<text transform="translate(84.72,339.2) rotate(-31)" font-size="5.0" fill="#505050" text-anchor="end">Alluvial</text>
<text x="82.72" y="285.7" font-size="6.4" fill="#111" text-anchor="middle">c</text>
<line x1="96.05" y1="331.7" x2="96.05" y2="333.3" stroke="#333333" stroke-width="0.5"/>
<text transform="translate(98.05,339.2) rotate(-31)" font-size="5.0" fill="#505050" text-anchor="end">Sandstone</text>
<text x="96.05" y="285.7" font-size="6.4" fill="#111" text-anchor="middle">b</text>
<line x1="109.38" y1="331.7" x2="109.38" y2="333.3" stroke="#333333" stroke-width="0.5"/>
<text transform="translate(111.38,339.2) rotate(-31)" font-size="5.0" fill="#505050" text-anchor="end">Kerangas</text>
<text x="109.38" y="285.7" font-size="6.4" fill="#111" text-anchor="middle">b</text>
<path d="M29.7,303 L29.75,307.3 L30.42,307.7 L31.39,308.1 L32.3,308.5 L33.13,308.9 L33.87,309.3 L34.4,309.7 L33.87,310.2 L33.13,310.7 L32.3,311.2 L31.39,311.7 L30.42,312.2 L29.75,312.7 L29.7,328.5 L29.1,328.5 L29.05,312.7 L28.38,312.2 L27.41,311.7 L26.5,311.2 L25.67,310.7 L24.93,310.2 L24.4,309.7 L24.93,309.3 L25.67,308.9 L26.5,308.5 L27.41,308.1 L28.38,307.7 L29.05,307.3 L29.1,303Z" fill="#542788" stroke="#222" stroke-width="0.5" stroke-linejoin="round"/>
<rect x="28.4" y="303" width="2" height="4.8" fill="#1a1a1a"/>
<rect x="28.4" y="312.2" width="2" height="16.3" fill="#1a1a1a"/>
<rect x="28.3" y="308.73" width="2.2" height="1.94" fill="#f2f2f2" stroke="#555" stroke-width="0.35"/>
<circle cx="29.4" cy="309.7" r="0.55" fill="#333"/>
<path d="M43.03,301.5 L43.08,306.5 L43.95,306.87 L45.12,307.23 L46.21,307.6 L47.21,307.97 L48.09,308.33 L48.73,308.7 L48.09,309.08 L47.21,309.47 L46.21,309.85 L45.12,310.23 L43.95,310.62 L43.08,311 L43.03,322.5 L42.43,322.5 L42.38,311 L41.51,310.62 L40.34,310.23 L39.25,309.85 L38.25,309.47 L37.37,309.08 L36.73,308.7 L37.37,308.33 L38.25,307.97 L39.25,307.6 L40.34,307.23 L41.51,306.87 L42.38,306.5 L42.43,301.5Z" fill="#b2abd2" stroke="#222" stroke-width="0.5" stroke-linejoin="round"/>
<rect x="41.73" y="301.5" width="2" height="5.5" fill="#1a1a1a"/>
<rect x="41.73" y="310.5" width="2" height="12" fill="#1a1a1a"/>
<rect x="41.63" y="307.89" width="2.2" height="1.62" fill="#f2f2f2" stroke="#555" stroke-width="0.35"/>
<circle cx="42.73" cy="308.7" r="0.55" fill="#333"/>
<path d="M56.36,286.5 L56.41,306 L57.28,306.37 L58.45,306.73 L59.54,307.1 L60.54,307.47 L61.42,307.83 L62.06,308.2 L61.42,308.58 L60.54,308.97 L59.54,309.35 L58.45,309.73 L57.28,310.12 L56.41,310.5 L56.36,317.2 L55.76,317.2 L55.71,310.5 L54.84,310.12 L53.67,309.73 L52.58,309.35 L51.58,308.97 L50.7,308.58 L50.06,308.2 L50.7,307.83 L51.58,307.47 L52.58,307.1 L53.67,306.73 L54.84,306.37 L55.71,306 L55.76,286.5Z" fill="#8e0000" stroke="#222" stroke-width="0.5" stroke-linejoin="round"/>
<rect x="55.06" y="286.5" width="2" height="20" fill="#1a1a1a"/>
<rect x="55.06" y="310" width="2" height="7.2" fill="#1a1a1a"/>
<rect x="54.96" y="307.39" width="2.2" height="1.62" fill="#f2f2f2" stroke="#555" stroke-width="0.35"/>
<circle cx="56.06" cy="308.2" r="0.55" fill="#333"/>
<path d="M69.69,294 L69.74,307.5 L70.41,308 L71.38,308.5 L72.29,309 L73.12,309.5 L73.86,310 L74.39,310.5 L73.86,311 L73.12,311.5 L72.29,312 L71.38,312.5 L70.41,313 L69.74,313.5 L69.69,327 L69.09,327 L69.04,313.5 L68.37,313 L67.4,312.5 L66.49,312 L65.66,311.5 L64.92,311 L64.39,310.5 L64.92,310 L65.66,309.5 L66.49,309 L67.4,308.5 L68.37,308 L69.04,307.5 L69.09,294Z" fill="#80cdc1" stroke="#222" stroke-width="0.5" stroke-linejoin="round"/>
<rect x="68.39" y="294" width="2" height="14" fill="#1a1a1a"/>
<rect x="68.39" y="313" width="2" height="14" fill="#1a1a1a"/>
<rect x="68.29" y="309.42" width="2.2" height="2.16" fill="#f2f2f2" stroke="#555" stroke-width="0.35"/>
<circle cx="69.39" cy="310.5" r="0.55" fill="#333"/>
<path d="M83.02,297 L83.07,307 L83.84,307.4 L84.91,307.8 L85.91,308.2 L86.83,308.6 L87.63,309 L88.22,309.4 L87.63,309.83 L86.83,310.27 L85.91,310.7 L84.91,311.13 L83.84,311.57 L83.07,312 L83.02,326.2 L82.42,326.2 L82.37,312 L81.6,311.57 L80.53,311.13 L79.53,310.7 L78.61,310.27 L77.81,309.83 L77.22,309.4 L77.81,309 L78.61,308.6 L79.53,308.2 L80.53,307.8 L81.6,307.4 L82.37,307 L82.42,297Z" fill="#01665e" stroke="#222" stroke-width="0.5" stroke-linejoin="round"/>
<rect x="81.72" y="297" width="2" height="10.5" fill="#1a1a1a"/>
<rect x="81.72" y="311.5" width="2" height="14.7" fill="#1a1a1a"/>
<rect x="81.62" y="308.5" width="2.2" height="1.8" fill="#f2f2f2" stroke="#555" stroke-width="0.35"/>
<circle cx="82.72" cy="309.4" r="0.55" fill="#333"/>
<path d="M96.35,291.7 L96.4,306.5 L97.27,306.92 L98.44,307.33 L99.53,307.75 L100.53,308.17 L101.41,308.58 L102.05,309 L101.41,309.42 L100.53,309.83 L99.53,310.25 L98.44,310.67 L97.27,311.08 L96.4,311.5 L96.35,323.2 L95.75,323.2 L95.7,311.5 L94.83,311.08 L93.66,310.67 L92.57,310.25 L91.57,309.83 L90.69,309.42 L90.05,309 L90.69,308.58 L91.57,308.17 L92.57,307.75 L93.66,307.33 L94.83,306.92 L95.7,306.5 L95.75,291.7Z" fill="#bf812d" stroke="#222" stroke-width="0.5" stroke-linejoin="round"/>
<rect x="95.05" y="291.7" width="2" height="15.3" fill="#1a1a1a"/>
<rect x="95.05" y="311" width="2" height="12.2" fill="#1a1a1a"/>
<rect x="94.95" y="308.1" width="2.2" height="1.8" fill="#f2f2f2" stroke="#555" stroke-width="0.35"/>
<circle cx="96.05" cy="309" r="0.55" fill="#333"/>
<path d="M109.68,299.2 L109.73,306.5 L110.6,306.87 L111.77,307.23 L112.86,307.6 L113.86,307.97 L114.74,308.33 L115.38,308.7 L114.74,309.08 L113.86,309.47 L112.86,309.85 L111.77,310.23 L110.6,310.62 L109.73,311 L109.68,324 L109.08,324 L109.03,311 L108.16,310.62 L106.99,310.23 L105.9,309.85 L104.9,309.47 L104.02,309.08 L103.38,308.7 L104.02,308.33 L104.9,307.97 L105.9,307.6 L106.99,307.23 L108.16,306.87 L109.03,306.5 L109.08,299.2Z" fill="#dfc27d" stroke="#222" stroke-width="0.5" stroke-linejoin="round"/>
<rect x="108.38" y="299.2" width="2" height="7.8" fill="#1a1a1a"/>
<rect x="108.38" y="310.5" width="2" height="13.5" fill="#1a1a1a"/>
<rect x="108.28" y="307.89" width="2.2" height="1.62" fill="#f2f2f2" stroke="#555" stroke-width="0.35"/>
<circle cx="109.38" cy="308.7" r="0.55" fill="#333"/>
<text x="224.2" y="283.7" font-size="10.27" fill="#1a1a1a">Clustered Forest Types</text>
<rect x="224.5" y="290.1" width="9" height="9.2" fill="#542788" stroke="#555" stroke-width="0.4"/>
<text x="239.3" y="297.9" font-size="8.35" fill="#1a1a1a">Danum1</text>
<rect x="224.5" y="299.7" width="9" height="9.2" fill="#b2abd2" stroke="#555" stroke-width="0.4"/>
<text x="239.3" y="307.5" font-size="8.35" fill="#1a1a1a">Danum2</text>
<rect x="224.5" y="309.3" width="9" height="9.2" fill="#8e0000" stroke="#555" stroke-width="0.4"/>
<text x="239.3" y="317.1" font-size="8.35" fill="#1a1a1a">Danum3</text>
<rect x="224.5" y="318.9" width="9" height="9.2" fill="#80cdc1" stroke="#555" stroke-width="0.4"/>
<text x="239.3" y="326.7" font-size="8.35" fill="#1a1a1a">Mudstone</text>
<rect x="281.5" y="290.1" width="9" height="9.2" fill="#01665e" stroke="#555" stroke-width="0.4"/>
<text x="296.3" y="297.9" font-size="8.35" fill="#1a1a1a">Alluvial</text>
<rect x="281.5" y="299.7" width="9" height="9.2" fill="#bf812d" stroke="#555" stroke-width="0.4"/>
<text x="296.3" y="307.5" font-size="8.35" fill="#1a1a1a">Sandstone</text>
<rect x="281.5" y="309.3" width="9" height="9.2" fill="#dfc27d" stroke="#555" stroke-width="0.4"/>
<text x="296.3" y="317.1" font-size="8.35" fill="#1a1a1a">Kerangas</text>
<text x="-0.6" y="6.3" font-size="8.5" font-weight="bold" fill="#000">a</text>
<text x="343.5" y="6.3" font-size="8.5" font-weight="bold" fill="#000">b</text>
<text x="515.5" y="6.3" font-size="8.5" font-weight="bold" fill="#000">c</text>
<path d="M360.5,0 V342.2 H509.8" fill="none" stroke="#333333" stroke-width="0.95"/>
<line x1="358.9" y1="326.3" x2="360.5" y2="326.3" stroke="#333333" stroke-width="0.5"/>
<text x="358.1" y="328.1" font-size="5.1" fill="#505050" text-anchor="end">0</text>
<line x1="358.9" y1="250.5" x2="360.5" y2="250.5" stroke="#333333" stroke-width="0.5"/>
<text x="358.1" y="252.3" font-size="5.1" fill="#505050" text-anchor="end">20</text>
<line x1="358.9" y1="174.7" x2="360.5" y2="174.7" stroke="#333333" stroke-width="0.5"/>
<text x="358.1" y="176.5" font-size="5.1" fill="#505050" text-anchor="end">40</text>
<line x1="358.9" y1="99" x2="360.5" y2="99" stroke="#333333" stroke-width="0.5"/>
<text x="358.1" y="100.8" font-size="5.1" fill="#505050" text-anchor="end">60</text>
<line x1="358.9" y1="23.2" x2="360.5" y2="23.2" stroke="#333333" stroke-width="0.5"/>
<text x="358.1" y="25" font-size="5.1" fill="#505050" text-anchor="end">80</text>
<line x1="367.5" y1="342.2" x2="367.5" y2="343.8" stroke="#333333" stroke-width="0.5"/>
<text x="367.5" y="349.2" font-size="5.1" fill="#505050" text-anchor="middle">0.0</text>
<line x1="417.25" y1="342.2" x2="417.25" y2="343.8" stroke="#333333" stroke-width="0.5"/>
<text x="417.25" y="349.2" font-size="5.1" fill="#505050" text-anchor="middle">0.1</text>
<line x1="467" y1="342.2" x2="467" y2="343.8" stroke="#333333" stroke-width="0.5"/>
<text x="467" y="349.2" font-size="5.1" fill="#505050" text-anchor="middle">0.2</text>
<text x="435.6" y="358.7" font-size="6.5" fill="#000" text-anchor="middle">Leaf area index (m<tspan font-size="4.3" dy="-2.6">2</tspan><tspan dy="2.6"> m</tspan><tspan font-size="4.3" dy="-2.6">-2</tspan><tspan dy="2.6">)</tspan></text>
<text transform="translate(348.4,173.1) rotate(-90)" font-size="5.9" fill="#000" text-anchor="middle">Height from the ground (m)</text>
<path d="M367.48,19.3 L370.92,21.99 L375.79,25.83 L380.44,29.6 L384.33,32.91 L387.99,36.16 L391.35,39.3 L394.36,42.34 L397.04,45.27 L399.18,48.1 L400.62,50.7 L401.53,53.2 L402.27,55.9 L402.98,58.99 L403.46,62.3 L403.85,65.6 L404.1,69.02 L404.33,72.44 L404.69,75.3 L405.28,76.98 L405.98,78.1 L406.57,80 L407.04,83.46 L407.4,87.69 L407.54,91.7 L407.38,95.01 L407,98.09 L406.51,101.4 L405.87,105.16 L405.12,109.13 L404.58,113.1 L404.39,116.97 L404.41,120.83 L404.55,124.7 L404.75,128.31 L405.07,131.94 L405.52,136.4 L406.02,142.44 L406.65,149.32 L407.66,155.6 L409.31,160.7 L411.35,165.19 L413.22,169.4 L414.77,173.33 L416.17,176.97 L417.39,180.6 L418.47,184.37 L419.38,188.13 L420.06,191.7 L420.35,194.9 L420.4,197.9 L420.64,201.1 L421.24,204.67 L422.02,208.44 L422.81,212.2 L423.57,215.9 L424.33,219.6 L424.97,223.3 L425.53,227.16 L425.97,231.03 L426.14,234.4 L426.03,236.96 L425.66,239.03 L424.92,241.1 L423.86,243.42 L422.43,245.74 L420.51,247.8 L417.99,249.33 L415,250.6 L411.69,252.2 L408.02,254.46 L404,257.04 L399.9,259.5 L395.59,261.63 L391.2,263.63 L387.37,265.7 L384.42,267.89 L382.02,270.14 L379.86,272.5 L377.85,275.03 L376.07,277.66 L374.39,280.3 L372.72,282.9 L371.16,285.5 L369.82,288.1 L368.78,290.63 L367.99,293.16 L367.37,295.9 L366.88,298.92 L366.56,302.15 L366.38,305.6 L366.39,309.61 L366.55,313.84 L366.71,317.3 L366.82,319.56 L366.93,321.04 L367,322 L368.6,322 L368.65,321.04 L368.72,319.56 L368.89,317.3 L369.17,313.84 L369.54,309.61 L370.02,305.6 L370.64,302.15 L371.37,298.92 L372.23,295.9 L373.2,293.16 L374.3,290.63 L375.58,288.1 L377.14,285.5 L378.93,282.9 L380.81,280.3 L382.72,277.66 L384.72,275.03 L386.94,272.5 L389.31,270.14 L391.9,267.89 L395.03,265.7 L399.04,263.63 L403.61,261.63 L408.1,259.5 L412.4,257.04 L416.64,254.46 L420.51,252.2 L423.94,250.6 L426.98,249.33 L429.49,247.8 L431.41,245.74 L432.82,243.42 L433.88,241.1 L434.6,239.03 L434.96,236.96 L435.06,234.4 L434.86,231.03 L434.4,227.16 L433.83,223.3 L433.16,219.6 L432.38,215.9 L431.59,212.2 L430.79,208.44 L429.99,204.67 L429.36,201.1 L429.11,197.9 L429.04,194.9 L428.74,191.7 L428.04,188.13 L427.11,184.37 L426.01,180.6 L424.76,176.97 L423.35,173.33 L421.78,169.4 L419.88,165.19 L417.82,160.7 L416.14,155.6 L415.09,149.32 L414.42,142.44 L413.88,136.4 L413.41,131.94 L413.08,128.31 L412.85,124.7 L412.7,120.83 L412.65,116.97 L412.82,113.1 L413.33,109.13 L414.06,105.16 L414.69,101.4 L415.15,98.09 L415.52,95.01 L415.66,91.7 L415.5,87.69 L415.11,83.46 L414.63,80 L414.02,78.1 L413.32,76.98 L412.71,75.3 L412.34,72.44 L412.03,69.02 L411.55,65.6 L410.95,62.3 L410.25,58.99 L409.33,55.9 L408.13,53.2 L406.65,50.7 L404.62,48.1 L401.83,45.27 L398.49,42.34 L394.85,39.3 L391.04,36.16 L386.92,32.91 L382.56,29.6 L377.37,25.83 L371.94,21.99 L368.12,19.3Z" fill="#f5ecf9" fill-opacity="1.0" stroke="none"/>
<path d="M367.48,19.3 L370.92,21.99 L375.79,25.83 L380.44,29.6 L384.33,32.91 L387.99,36.16 L391.35,39.3 L394.36,42.34 L397.04,45.27 L399.18,48.1 L400.62,50.7 L401.53,53.2 L402.27,55.9 L402.98,58.99 L403.46,62.3 L403.85,65.6 L404.1,69.02 L404.33,72.44 L404.69,75.3 L405.28,76.98 L405.98,78.1 L406.57,80 L407.04,83.46 L407.4,87.69 L407.54,91.7 L407.38,95.01 L407,98.09 L406.51,101.4 L405.87,105.16 L405.12,109.13 L404.58,113.1 L404.39,116.97 L404.41,120.83 L404.55,124.7 L404.75,128.31 L405.07,131.94 L405.52,136.4 L406.02,142.44 L406.65,149.32 L407.66,155.6 L409.31,160.7 L411.35,165.19 L413.22,169.4 L414.77,173.33 L416.17,176.97 L417.39,180.6 L418.47,184.37 L419.38,188.13 L420.06,191.7 L420.35,194.9 L420.4,197.9 L420.64,201.1 L421.24,204.67 L422.02,208.44 L422.81,212.2 L423.57,215.9 L424.33,219.6 L424.97,223.3 L425.53,227.16 L425.97,231.03 L426.14,234.4 L426.03,236.96 L425.66,239.03 L424.92,241.1 L423.86,243.42 L422.43,245.74 L420.51,247.8 L417.99,249.33 L415,250.6 L411.69,252.2 L408.02,254.46 L404,257.04 L399.9,259.5 L395.59,261.63 L391.2,263.63 L387.37,265.7 L384.42,267.89 L382.02,270.14 L379.86,272.5 L377.85,275.03 L376.07,277.66 L374.39,280.3 L372.72,282.9 L371.16,285.5 L369.82,288.1 L368.78,290.63 L367.99,293.16 L367.37,295.9 L366.88,298.92 L366.56,302.15 L366.38,305.6 L366.39,309.61 L366.55,313.84 L366.71,317.3 L366.82,319.56 L366.93,321.04 L367,322" fill="none" stroke="#d6b4e7" stroke-width="0.6" stroke-linejoin="round"/>
<path d="M367.8,19.3 L371.43,21.99 L376.58,25.83 L381.5,29.6 L385.63,32.91 L389.52,36.16 L393.1,39.3 L396.42,42.34 L399.43,45.27 L401.9,48.1 L403.64,50.7 L404.83,53.2 L405.8,55.9 L406.61,58.99 L407.21,62.3 L407.7,65.6 L408.07,69.02 L408.33,72.44 L408.7,75.3 L409.3,76.98 L410,78.1 L410.6,80 L411.07,83.46 L411.45,87.69 L411.6,91.7 L411.45,95.01 L411.07,98.09 L410.6,101.4 L409.96,105.16 L409.23,109.13 L408.7,113.1 L408.52,116.97 L408.56,120.83 L408.7,124.7 L408.91,128.31 L409.24,131.94 L409.7,136.4 L410.22,142.44 L410.87,149.32 L411.9,155.6 L413.57,160.7 L415.61,165.19 L417.5,169.4 L419.06,173.33 L420.46,176.97 L421.7,180.6 L422.79,184.37 L423.71,188.13 L424.4,191.7 L424.7,194.9 L424.76,197.9 L425,201.1 L425.61,204.67 L426.41,208.44 L427.2,212.2 L427.97,215.9 L428.74,219.6 L429.4,223.3 L429.96,227.16 L430.41,231.03 L430.6,234.4 L430.5,236.96 L430.13,239.03 L429.4,241.1 L428.34,243.42 L426.92,245.74 L425,247.8 L422.49,249.33 L419.47,250.6 L416.1,252.2 L412.33,254.46 L408.2,257.04 L404,259.5 L399.6,261.63 L395.12,263.63 L391.2,265.7 L388.16,267.89 L385.67,270.14 L383.4,272.5 L381.29,275.03 L379.39,277.66 L377.6,280.3 L375.83,282.9 L374.15,285.5 L372.7,288.1 L371.54,290.63 L370.6,293.16 L369.8,295.9 L369.13,298.92 L368.6,302.15 L368.2,305.6 L367.96,309.61 L367.86,313.84 L367.8,317.3 L367.77,319.56 L367.79,321.04 L367.8,322" fill="none" stroke="#d6b4e7" stroke-width="0.6" stroke-linejoin="round"/>
<path d="M368.12,19.3 L371.94,21.99 L377.37,25.83 L382.56,29.6 L386.92,32.91 L391.04,36.16 L394.85,39.3 L398.49,42.34 L401.83,45.27 L404.62,48.1 L406.65,50.7 L408.13,53.2 L409.33,55.9 L410.25,58.99 L410.95,62.3 L411.55,65.6 L412.03,69.02 L412.34,72.44 L412.71,75.3 L413.32,76.98 L414.02,78.1 L414.63,80 L415.11,83.46 L415.5,87.69 L415.66,91.7 L415.52,95.01 L415.15,98.09 L414.69,101.4 L414.06,105.16 L413.33,109.13 L412.82,113.1 L412.65,116.97 L412.7,120.83 L412.85,124.7 L413.08,128.31 L413.41,131.94 L413.88,136.4 L414.42,142.44 L415.09,149.32 L416.14,155.6 L417.82,160.7 L419.88,165.19 L421.78,169.4 L423.35,173.33 L424.76,176.97 L426.01,180.6 L427.11,184.37 L428.04,188.13 L428.74,191.7 L429.04,194.9 L429.11,197.9 L429.36,201.1 L429.99,204.67 L430.79,208.44 L431.59,212.2 L432.38,215.9 L433.16,219.6 L433.83,223.3 L434.4,227.16 L434.86,231.03 L435.06,234.4 L434.96,236.96 L434.6,239.03 L433.88,241.1 L432.82,243.42 L431.41,245.74 L429.49,247.8 L426.98,249.33 L423.94,250.6 L420.51,252.2 L416.64,254.46 L412.4,257.04 L408.1,259.5 L403.61,261.63 L399.04,263.63 L395.03,265.7 L391.9,267.89 L389.31,270.14 L386.94,272.5 L384.72,275.03 L382.72,277.66 L380.81,280.3 L378.93,282.9 L377.14,285.5 L375.58,288.1 L374.3,290.63 L373.2,293.16 L372.23,295.9 L371.37,298.92 L370.64,302.15 L370.02,305.6 L369.54,309.61 L369.17,313.84 L368.89,317.3 L368.72,319.56 L368.65,321.04 L368.6,322" fill="none" stroke="#d6b4e7" stroke-width="0.6" stroke-linejoin="round"/>
<path d="M367.49,27.1 L369.91,29.01 L373.36,31.74 L376.8,34.5 L379.87,37.04 L382.93,39.61 L385.99,42.2 L389.12,44.76 L392.21,47.32 L395.07,50 L397.58,52.93 L399.86,55.98 L402.1,58.8 L404.47,61.29 L406.87,63.56 L409.19,65.6 L411.56,67.41 L413.85,68.99 L415.69,70.4 L416.88,71.55 L417.63,72.52 L418.19,73.6 L418.63,74.88 L418.87,76.27 L418.88,77.8 L418.67,79.48 L418.23,81.31 L417.48,83.3 L416.3,85.53 L414.82,87.92 L413.27,90.3 L411.67,92.56 L410,94.81 L408.46,97.2 L407.23,99.9 L406.13,102.73 L404.85,105.3 L403.32,107.1 L401.61,108.65 L399.65,111.1 L397.14,115.13 L394.37,120.07 L392.13,125 L390.71,129.53 L389.81,134.06 L389.32,138.9 L389.19,144.37 L389.47,150.14 L390.1,155.6 L391.04,160.51 L392.34,165.1 L394.08,169.4 L396.49,173.54 L399.34,177.39 L402.07,180.6 L404.63,182.91 L407.07,184.6 L408.97,186.1 L409.91,187.33 L410.3,188.39 L410.96,190 L412.2,192.6 L413.71,195.75 L415.35,198.9 L417.09,201.95 L418.95,205 L420.94,207.8 L423.18,210.17 L425.54,212.28 L427.64,214.4 L429.35,216.63 L430.81,218.86 L432.03,221.1 L433.09,223.25 L433.9,225.4 L434.22,227.8 L433.85,230.6 L432.99,233.65 L432.01,236.7 L430.96,239.67 L429.77,242.64 L428.7,245.6 L427.86,248.62 L427.15,251.63 L426.47,254.4 L425.93,256.83 L425.4,259.03 L424.38,261.1 L422.59,263.15 L420.31,265.07 L417.87,266.7 L415.17,267.79 L412.31,268.59 L409.91,269.6 L408.26,271.05 L407.07,272.73 L406.09,274.5 L405.52,276.33 L405.17,278.26 L404.18,280.3 L402.22,282.53 L399.63,284.87 L396.59,287.1 L392.95,289.18 L388.86,291.14 L384.99,292.9 L381.41,294.34 L378.06,295.57 L375.35,296.8 L373.49,298.03 L372.28,299.25 L371.54,300.7 L371.45,302.56 L371.8,304.64 L371.92,306.6 L371.53,308.17 L370.92,309.62 L370.23,311.4 L369.39,313.96 L368.48,316.86 L367.82,319.2 L367.61,320.61 L367.65,321.46 L367.7,322 L369.3,322 L369.32,321.46 L369.38,320.61 L369.78,319.2 L370.73,316.86 L372.02,313.96 L373.17,311.4 L374.1,309.62 L374.89,308.17 L375.48,306.6 L375.61,304.64 L375.52,302.56 L375.86,300.7 L376.71,299.25 L377.96,298.03 L379.85,296.8 L382.6,295.57 L385.99,294.34 L389.61,292.9 L393.54,291.14 L397.7,289.18 L401.41,287.1 L404.52,284.87 L407.18,282.53 L409.22,280.3 L410.27,278.26 L410.68,276.33 L411.31,274.5 L412.34,272.73 L413.59,271.05 L415.29,269.6 L417.72,268.59 L420.6,267.79 L423.33,266.7 L425.83,265.07 L428.17,263.15 L430.02,261.1 L431.11,259.03 L431.71,256.83 L432.33,254.4 L433.1,251.63 L433.85,248.62 L434.7,245.6 L435.76,242.64 L436.93,239.67 L437.99,236.7 L438.96,233.65 L439.81,230.6 L440.18,227.8 L439.85,225.4 L439.03,223.25 L437.97,221.1 L436.75,218.86 L435.28,216.63 L433.56,214.4 L431.46,212.28 L429.1,210.17 L426.86,207.8 L424.86,205 L422.99,201.95 L421.25,198.9 L419.6,195.75 L418.08,192.6 L416.84,190 L416.17,188.39 L415.77,187.33 L414.83,186.1 L412.93,184.6 L410.49,182.91 L407.93,180.6 L405.19,177.39 L402.33,173.54 L399.92,169.4 L398.16,165.1 L396.85,160.51 L395.9,155.6 L395.26,150.14 L394.97,144.37 L395.08,138.9 L395.57,134.06 L396.46,129.53 L397.87,125 L400.1,120.07 L402.85,115.13 L405.35,111.1 L407.31,108.65 L409.02,107.1 L410.55,105.3 L411.82,102.73 L412.91,99.9 L414.14,97.2 L415.67,94.81 L417.33,92.56 L418.93,90.3 L420.48,87.92 L421.96,85.53 L423.12,83.3 L423.87,81.31 L424.31,79.48 L424.52,77.8 L424.51,76.27 L424.26,74.88 L423.81,73.6 L423.26,72.52 L422.51,71.55 L421.31,70.4 L419.47,68.99 L417.17,67.41 L414.81,65.6 L412.48,63.56 L410.07,61.29 L407.5,58.8 L404.77,55.98 L401.95,52.93 L398.93,50 L395.61,47.32 L392.09,44.76 L388.61,42.2 L385.21,39.61 L381.81,37.04 L378.4,34.5 L374.59,31.74 L370.78,29.01 L368.11,27.1Z" fill="#cce8e1" fill-opacity="1.0" stroke="none"/>
<path d="M367.49,27.1 L369.91,29.01 L373.36,31.74 L376.8,34.5 L379.87,37.04 L382.93,39.61 L385.99,42.2 L389.12,44.76 L392.21,47.32 L395.07,50 L397.58,52.93 L399.86,55.98 L402.1,58.8 L404.47,61.29 L406.87,63.56 L409.19,65.6 L411.56,67.41 L413.85,68.99 L415.69,70.4 L416.88,71.55 L417.63,72.52 L418.19,73.6 L418.63,74.88 L418.87,76.27 L418.88,77.8 L418.67,79.48 L418.23,81.31 L417.48,83.3 L416.3,85.53 L414.82,87.92 L413.27,90.3 L411.67,92.56 L410,94.81 L408.46,97.2 L407.23,99.9 L406.13,102.73 L404.85,105.3 L403.32,107.1 L401.61,108.65 L399.65,111.1 L397.14,115.13 L394.37,120.07 L392.13,125 L390.71,129.53 L389.81,134.06 L389.32,138.9 L389.19,144.37 L389.47,150.14 L390.1,155.6 L391.04,160.51 L392.34,165.1 L394.08,169.4 L396.49,173.54 L399.34,177.39 L402.07,180.6 L404.63,182.91 L407.07,184.6 L408.97,186.1 L409.91,187.33 L410.3,188.39 L410.96,190 L412.2,192.6 L413.71,195.75 L415.35,198.9 L417.09,201.95 L418.95,205 L420.94,207.8 L423.18,210.17 L425.54,212.28 L427.64,214.4 L429.35,216.63 L430.81,218.86 L432.03,221.1 L433.09,223.25 L433.9,225.4 L434.22,227.8 L433.85,230.6 L432.99,233.65 L432.01,236.7 L430.96,239.67 L429.77,242.64 L428.7,245.6 L427.86,248.62 L427.15,251.63 L426.47,254.4 L425.93,256.83 L425.4,259.03 L424.38,261.1 L422.59,263.15 L420.31,265.07 L417.87,266.7 L415.17,267.79 L412.31,268.59 L409.91,269.6 L408.26,271.05 L407.07,272.73 L406.09,274.5 L405.52,276.33 L405.17,278.26 L404.18,280.3 L402.22,282.53 L399.63,284.87 L396.59,287.1 L392.95,289.18 L388.86,291.14 L384.99,292.9 L381.41,294.34 L378.06,295.57 L375.35,296.8 L373.49,298.03 L372.28,299.25 L371.54,300.7 L371.45,302.56 L371.8,304.64 L371.92,306.6 L371.53,308.17 L370.92,309.62 L370.23,311.4 L369.39,313.96 L368.48,316.86 L367.82,319.2 L367.61,320.61 L367.65,321.46 L367.7,322" fill="none" stroke="#1c917c" stroke-width="0.7" stroke-linejoin="round"/>
<path d="M367.8,27.1 L370.34,29.01 L373.98,31.74 L377.6,34.5 L380.84,37.04 L384.07,39.61 L387.3,42.2 L390.6,44.76 L393.91,47.32 L397,50 L399.76,52.93 L402.31,55.98 L404.8,58.8 L407.27,61.29 L409.67,63.56 L412,65.6 L414.37,67.41 L416.66,68.99 L418.5,70.4 L419.7,71.55 L420.45,72.52 L421,73.6 L421.44,74.88 L421.69,76.27 L421.7,77.8 L421.49,79.48 L421.05,81.31 L420.3,83.3 L419.13,85.53 L417.65,87.92 L416.1,90.3 L414.5,92.56 L412.83,94.81 L411.3,97.2 L410.07,99.9 L408.97,102.73 L407.7,105.3 L406.17,107.1 L404.46,108.65 L402.5,111.1 L400,115.13 L397.24,120.07 L395,125 L393.59,129.53 L392.69,134.06 L392.2,138.9 L392.08,144.37 L392.36,150.14 L393,155.6 L393.95,160.51 L395.25,165.1 L397,169.4 L399.41,173.54 L402.27,177.39 L405,180.6 L407.56,182.91 L410,184.6 L411.9,186.1 L412.84,187.33 L413.24,188.39 L413.9,190 L415.14,192.6 L416.66,195.75 L418.3,198.9 L420.04,201.95 L421.91,205 L423.9,207.8 L426.14,210.17 L428.5,212.28 L430.6,214.4 L432.32,216.63 L433.78,218.86 L435,221.1 L436.06,223.25 L436.87,225.4 L437.2,227.8 L436.83,230.6 L435.98,233.65 L435,236.7 L433.94,239.67 L432.77,242.64 L431.7,245.6 L430.86,248.62 L430.12,251.63 L429.4,254.4 L428.82,256.83 L428.26,259.03 L427.2,261.1 L425.38,263.15 L423.07,265.07 L420.6,266.7 L417.89,267.79 L415.01,268.59 L412.6,269.6 L410.93,271.05 L409.71,272.73 L408.7,274.5 L408.1,276.33 L407.72,278.26 L406.7,280.3 L404.7,282.53 L402.07,284.87 L399,287.1 L395.32,289.18 L391.2,291.14 L387.3,292.9 L383.7,294.34 L380.33,295.57 L377.6,296.8 L375.73,298.03 L374.5,299.25 L373.7,300.7 L373.49,302.56 L373.7,304.64 L373.7,306.6 L373.21,308.17 L372.51,309.62 L371.7,311.4 L370.7,313.96 L369.61,316.86 L368.8,319.2 L368.5,320.61 L368.48,321.46 L368.5,322" fill="none" stroke="#1c917c" stroke-width="0.7" stroke-linejoin="round"/>
<path d="M368.11,27.1 L370.78,29.01 L374.59,31.74 L378.4,34.5 L381.81,37.04 L385.21,39.61 L388.61,42.2 L392.09,44.76 L395.61,47.32 L398.93,50 L401.95,52.93 L404.77,55.98 L407.5,58.8 L410.07,61.29 L412.48,63.56 L414.81,65.6 L417.17,67.41 L419.47,68.99 L421.31,70.4 L422.51,71.55 L423.26,72.52 L423.81,73.6 L424.26,74.88 L424.51,76.27 L424.52,77.8 L424.31,79.48 L423.87,81.31 L423.12,83.3 L421.96,85.53 L420.48,87.92 L418.93,90.3 L417.33,92.56 L415.67,94.81 L414.14,97.2 L412.91,99.9 L411.82,102.73 L410.55,105.3 L409.02,107.1 L407.31,108.65 L405.35,111.1 L402.85,115.13 L400.1,120.07 L397.87,125 L396.46,129.53 L395.57,134.06 L395.08,138.9 L394.97,144.37 L395.26,150.14 L395.9,155.6 L396.85,160.51 L398.16,165.1 L399.92,169.4 L402.33,173.54 L405.19,177.39 L407.93,180.6 L410.49,182.91 L412.93,184.6 L414.83,186.1 L415.77,187.33 L416.17,188.39 L416.84,190 L418.08,192.6 L419.6,195.75 L421.25,198.9 L422.99,201.95 L424.86,205 L426.86,207.8 L429.1,210.17 L431.46,212.28 L433.56,214.4 L435.28,216.63 L436.75,218.86 L437.97,221.1 L439.03,223.25 L439.85,225.4 L440.18,227.8 L439.81,230.6 L438.96,233.65 L437.99,236.7 L436.93,239.67 L435.76,242.64 L434.7,245.6 L433.85,248.62 L433.1,251.63 L432.33,254.4 L431.71,256.83 L431.11,259.03 L430.02,261.1 L428.17,263.15 L425.83,265.07 L423.33,266.7 L420.6,267.79 L417.72,268.59 L415.29,269.6 L413.59,271.05 L412.34,272.73 L411.31,274.5 L410.68,276.33 L410.27,278.26 L409.22,280.3 L407.18,282.53 L404.52,284.87 L401.41,287.1 L397.7,289.18 L393.54,291.14 L389.61,292.9 L385.99,294.34 L382.6,295.57 L379.85,296.8 L377.96,298.03 L376.71,299.25 L375.86,300.7 L375.52,302.56 L375.61,304.64 L375.48,306.6 L374.89,308.17 L374.1,309.62 L373.17,311.4 L372.02,313.96 L370.73,316.86 L369.78,319.2 L369.38,320.61 L369.32,321.46 L369.3,322" fill="none" stroke="#1c917c" stroke-width="0.7" stroke-linejoin="round"/>
<path d="M367.48,72.4 L368.45,74.5 L369.82,77.45 L371.09,80 L372.06,81.61 L372.94,82.81 L373.83,84 L374.61,85.13 L375.39,86.24 L376.69,87.8 L378.73,90.11 L381.19,92.86 L383.88,95.6 L386.73,98.24 L389.81,100.87 L393.1,103.3 L396.67,105.44 L400.46,107.38 L404.26,109.2 L408.14,110.91 L412.06,112.51 L415.77,114 L419.29,115.46 L422.59,116.81 L425.34,117.9 L427.13,118.37 L428.37,118.58 L429.99,119.4 L432.32,121.43 L435.04,124.07 L438.07,126.4 L441.61,127.96 L445.47,129.21 L449.03,130.6 L452.07,132.32 L454.8,134.19 L457.25,136.1 L459.41,138.03 L461.29,140.01 L462.96,142 L464.46,143.99 L465.75,146 L466.76,148 L467.5,150 L468.05,152 L468.26,154 L468.13,155.97 L467.65,157.95 L466.86,160 L465.79,162.12 L464.39,164.32 L462.57,166.7 L460.14,169.4 L457.27,172.28 L454.4,175 L451.64,177.4 L448.87,179.64 L446.11,181.9 L443.27,184.28 L440.44,186.67 L437.92,188.9 L435.94,190.88 L434.26,192.7 L432.51,194.4 L430.61,195.81 L428.64,197.11 L426.38,198.9 L423.68,201.46 L420.68,204.51 L417.68,207.8 L414.59,211.34 L411.5,215.12 L408.89,218.9 L406.97,222.68 L405.55,226.46 L404.5,230 L403.91,233.13 L403.7,236.01 L403.49,238.9 L403.28,241.95 L403.06,245 L402.48,247.8 L401.28,250.17 L399.73,252.28 L398.16,254.4 L396.61,256.6 L395.04,258.8 L393.76,261.1 L393.05,263.67 L392.62,266.34 L391.86,268.6 L390.5,270.1 L388.8,271.19 L387.01,272.5 L385.17,274.29 L383.23,276.29 L381.3,278.3 L379.32,280.26 L377.34,282.24 L375.58,284.2 L374.13,286.07 L372.89,287.92 L371.76,290 L370.68,292.45 L369.72,295.13 L368.97,297.8 L368.55,300.4 L368.43,303 L368.31,305.6 L368.08,308.19 L367.85,310.78 L367.73,313.4 L367.82,316.38 L368.02,319.39 L368.17,321.5 L369.43,321.5 L369.51,319.39 L369.63,316.38 L369.87,313.4 L370.27,310.78 L370.78,308.19 L371.29,305.6 L371.7,303 L372.1,300.4 L372.63,297.8 L373.46,295.13 L374.49,292.45 L375.64,290 L376.82,287.92 L378.12,286.07 L379.62,284.2 L381.44,282.24 L383.47,280.26 L385.5,278.3 L387.5,276.29 L389.49,274.29 L391.38,272.5 L393.21,271.19 L394.93,270.1 L396.34,268.6 L397.16,266.34 L397.66,263.67 L398.44,261.1 L399.8,258.8 L401.42,256.6 L403.04,254.4 L404.66,252.28 L406.28,250.17 L407.52,247.8 L408.16,245 L408.44,241.95 L408.71,238.9 L408.98,236.01 L409.25,233.13 L409.9,230 L411.02,226.46 L412.52,222.68 L414.51,218.9 L417.19,215.12 L420.36,211.34 L423.52,207.8 L426.59,204.51 L429.65,201.46 L432.42,198.9 L434.73,197.11 L436.75,195.81 L438.69,194.4 L440.5,192.7 L442.23,190.88 L444.28,188.9 L446.87,186.67 L449.77,184.28 L452.69,181.9 L455.52,179.64 L458.37,177.4 L461.2,175 L464.16,172.28 L467.12,169.4 L469.63,166.7 L471.53,164.32 L473,162.12 L474.14,160 L475,157.95 L475.53,155.97 L475.74,154 L475.58,152 L475.1,150 L474.24,148 L473.09,146 L471.67,143.99 L470.04,142 L468.24,140.01 L466.23,138.03 L463.95,136.1 L461.37,134.19 L458.52,132.32 L455.37,130.6 L451.72,129.21 L447.78,127.96 L444.13,126.4 L440.95,124.07 L438.07,121.43 L435.61,119.4 L433.93,118.58 L432.68,118.37 L430.86,117.9 L428.03,116.81 L424.64,115.46 L421.03,114 L417.23,112.51 L413.2,110.91 L409.14,109.2 L405.06,107.38 L400.99,105.44 L397.1,103.3 L393.44,100.87 L389.96,98.24 L386.72,95.6 L383.62,92.86 L380.75,90.11 L378.51,87.8 L377.1,86.24 L376.23,85.13 L375.37,84 L374.38,82.81 L373.41,81.61 L372.31,80 L370.84,77.45 L369.25,74.5 L368.12,72.4Z" fill="#f4e2cc" fill-opacity="1.0" stroke="none"/>
<path d="M367.48,72.4 L368.45,74.5 L369.82,77.45 L371.09,80 L372.06,81.61 L372.94,82.81 L373.83,84 L374.61,85.13 L375.39,86.24 L376.69,87.8 L378.73,90.11 L381.19,92.86 L383.88,95.6 L386.73,98.24 L389.81,100.87 L393.1,103.3 L396.67,105.44 L400.46,107.38 L404.26,109.2 L408.14,110.91 L412.06,112.51 L415.77,114 L419.29,115.46 L422.59,116.81 L425.34,117.9 L427.13,118.37 L428.37,118.58 L429.99,119.4 L432.32,121.43 L435.04,124.07 L438.07,126.4 L441.61,127.96 L445.47,129.21 L449.03,130.6 L452.07,132.32 L454.8,134.19 L457.25,136.1 L459.41,138.03 L461.29,140.01 L462.96,142 L464.46,143.99 L465.75,146 L466.76,148 L467.5,150 L468.05,152 L468.26,154 L468.13,155.97 L467.65,157.95 L466.86,160 L465.79,162.12 L464.39,164.32 L462.57,166.7 L460.14,169.4 L457.27,172.28 L454.4,175 L451.64,177.4 L448.87,179.64 L446.11,181.9 L443.27,184.28 L440.44,186.67 L437.92,188.9 L435.94,190.88 L434.26,192.7 L432.51,194.4 L430.61,195.81 L428.64,197.11 L426.38,198.9 L423.68,201.46 L420.68,204.51 L417.68,207.8 L414.59,211.34 L411.5,215.12 L408.89,218.9 L406.97,222.68 L405.55,226.46 L404.5,230 L403.91,233.13 L403.7,236.01 L403.49,238.9 L403.28,241.95 L403.06,245 L402.48,247.8 L401.28,250.17 L399.73,252.28 L398.16,254.4 L396.61,256.6 L395.04,258.8 L393.76,261.1 L393.05,263.67 L392.62,266.34 L391.86,268.6 L390.5,270.1 L388.8,271.19 L387.01,272.5 L385.17,274.29 L383.23,276.29 L381.3,278.3 L379.32,280.26 L377.34,282.24 L375.58,284.2 L374.13,286.07 L372.89,287.92 L371.76,290 L370.68,292.45 L369.72,295.13 L368.97,297.8 L368.55,300.4 L368.43,303 L368.31,305.6 L368.08,308.19 L367.85,310.78 L367.73,313.4 L367.82,316.38 L368.02,319.39 L368.17,321.5" fill="none" stroke="#c4822f" stroke-width="0.72" stroke-linejoin="round"/>
<path d="M367.8,72.4 L368.85,74.5 L370.33,77.45 L371.7,80 L372.74,81.61 L373.66,82.81 L374.6,84 L375.42,85.13 L376.25,86.24 L377.6,87.8 L379.74,90.11 L382.4,92.86 L385.3,95.6 L388.34,98.24 L391.62,100.87 L395.1,103.3 L398.83,105.44 L402.76,107.38 L406.7,109.2 L410.67,110.91 L414.64,112.51 L418.4,114 L421.97,115.46 L425.31,116.81 L428.1,117.9 L429.9,118.37 L431.15,118.58 L432.8,119.4 L435.2,121.43 L437.99,124.07 L441.1,126.4 L444.69,127.96 L448.6,129.21 L452.2,130.6 L455.29,132.32 L458.09,134.19 L460.6,136.1 L462.82,138.03 L464.77,140.01 L466.5,142 L468.07,143.99 L469.42,146 L470.5,148 L471.3,150 L471.81,152 L472,154 L471.83,155.97 L471.33,157.95 L470.5,160 L469.39,162.12 L467.96,164.32 L466.1,166.7 L463.63,169.4 L460.72,172.28 L457.8,175 L455,177.4 L452.2,179.64 L449.4,181.9 L446.52,184.28 L443.66,186.67 L441.1,188.9 L439.09,190.88 L437.38,192.7 L435.6,194.4 L433.68,195.81 L431.69,197.11 L429.4,198.9 L426.66,201.46 L423.64,204.51 L420.6,207.8 L417.48,211.34 L414.34,215.12 L411.7,218.9 L409.75,222.68 L408.29,226.46 L407.2,230 L406.58,233.13 L406.34,236.01 L406.1,238.9 L405.86,241.95 L405.61,245 L405,247.8 L403.78,250.17 L402.2,252.28 L400.6,254.4 L399.01,256.6 L397.42,258.8 L396.1,261.1 L395.36,263.67 L394.89,266.34 L394.1,268.6 L392.71,270.1 L391.01,271.19 L389.2,272.5 L387.33,274.29 L385.37,276.29 L383.4,278.3 L381.4,280.26 L379.39,282.24 L377.6,284.2 L376.12,286.07 L374.86,287.92 L373.7,290 L372.59,292.45 L371.59,295.13 L370.8,297.8 L370.33,300.4 L370.06,303 L369.8,305.6 L369.43,308.19 L369.06,310.78 L368.8,313.4 L368.73,316.38 L368.76,319.39 L368.8,321.5" fill="none" stroke="#c4822f" stroke-width="0.72" stroke-linejoin="round"/>
<path d="M368.12,72.4 L369.25,74.5 L370.84,77.45 L372.31,80 L373.41,81.61 L374.38,82.81 L375.37,84 L376.23,85.13 L377.1,86.24 L378.51,87.8 L380.75,90.11 L383.62,92.86 L386.72,95.6 L389.96,98.24 L393.44,100.87 L397.1,103.3 L400.99,105.44 L405.06,107.38 L409.14,109.2 L413.2,110.91 L417.23,112.51 L421.03,114 L424.64,115.46 L428.03,116.81 L430.86,117.9 L432.68,118.37 L433.93,118.58 L435.61,119.4 L438.07,121.43 L440.95,124.07 L444.13,126.4 L447.78,127.96 L451.72,129.21 L455.37,130.6 L458.52,132.32 L461.37,134.19 L463.95,136.1 L466.23,138.03 L468.24,140.01 L470.04,142 L471.67,143.99 L473.09,146 L474.24,148 L475.1,150 L475.58,152 L475.74,154 L475.53,155.97 L475,157.95 L474.14,160 L473,162.12 L471.53,164.32 L469.63,166.7 L467.12,169.4 L464.16,172.28 L461.2,175 L458.37,177.4 L455.52,179.64 L452.69,181.9 L449.77,184.28 L446.87,186.67 L444.28,188.9 L442.23,190.88 L440.5,192.7 L438.69,194.4 L436.75,195.81 L434.73,197.11 L432.42,198.9 L429.65,201.46 L426.59,204.51 L423.52,207.8 L420.36,211.34 L417.19,215.12 L414.51,218.9 L412.52,222.68 L411.02,226.46 L409.9,230 L409.25,233.13 L408.98,236.01 L408.71,238.9 L408.44,241.95 L408.16,245 L407.52,247.8 L406.28,250.17 L404.66,252.28 L403.04,254.4 L401.42,256.6 L399.8,258.8 L398.44,261.1 L397.66,263.67 L397.16,266.34 L396.34,268.6 L394.93,270.1 L393.21,271.19 L391.38,272.5 L389.49,274.29 L387.5,276.29 L385.5,278.3 L383.47,280.26 L381.44,282.24 L379.62,284.2 L378.12,286.07 L376.82,287.92 L375.64,290 L374.49,292.45 L373.46,295.13 L372.63,297.8 L372.1,300.4 L371.7,303 L371.29,305.6 L370.78,308.19 L370.27,310.78 L369.87,313.4 L369.63,316.38 L369.51,319.39 L369.43,321.5" fill="none" stroke="#c4822f" stroke-width="0.72" stroke-linejoin="round"/>
<path d="M367.5,125.7 L369.35,128.06 L372,131.39 L374.88,134.5 L377.84,137.02 L381.02,139.32 L384.24,141.3 L387.35,142.85 L390.49,144.08 L393.84,145.2 L397.4,146.12 L401.17,146.93 L405.3,148.1 L409.83,149.9 L414.69,152.06 L419.92,154.2 L425.36,156.14 L431.16,158.06 L437.82,160.2 L445.91,162.67 L454.85,165.34 L463.39,168.1 L471.37,170.94 L478.94,173.87 L485.32,176.7 L490.16,179.5 L493.86,182.22 L496.62,184.5 L498.32,186.09 L499.05,187.24 L499.36,188.4 L499.44,189.7 L499.16,191.01 L498.45,192.3 L497.33,193.48 L495.76,194.64 L493.64,196.1 L490.94,197.91 L487.69,200 L483.88,202.5 L479.06,205.78 L473.67,209.46 L469.11,212.5 L466.3,214.24 L464.32,215.34 L461.7,216.7 L457.58,218.72 L452.82,221 L448.55,223.3 L445.14,225.53 L442.23,227.76 L439.8,230 L437.73,232.24 L436.15,234.47 L435.19,236.7 L435.06,238.99 L435.55,241.26 L436.18,243.3 L437.12,244.96 L438.2,246.39 L438.4,247.8 L437.3,249.27 L435.32,250.73 L432.73,252.2 L429.17,253.78 L425,255.37 L421.56,256.7 L419.58,257.4 L418.32,257.84 L416.92,258.9 L415.26,261.23 L413.49,264.18 L411.08,266.7 L406.65,268.22 L401.59,269.3 L399.53,270.6 L403.94,272.54 L411.36,274.69 L415.1,276.4 L411.58,277.17 L404.39,277.51 L397.63,278.3 L392.32,279.97 L387.46,282.09 L384.1,284.2 L382.54,286.28 L382.5,288.35 L384.18,290 L389.46,290.88 L396.47,291.33 L399.8,292 L396.11,293.2 L388.74,294.6 L382.25,295.9 L378.23,296.94 L375.08,297.87 L372.59,298.8 L370.65,299.66 L369.4,300.52 L368.85,301.7 L369.13,303.38 L370.1,305.39 L371.38,307.5 L373.34,309.76 L375.61,312.14 L376.8,314.3 L376.05,316.15 L374.21,317.79 L372.45,319.2 L371.05,320.42 L369.73,321.42 L368.8,322.1 L370.8,322.1 L371.83,321.42 L373.33,320.42 L374.95,319.2 L376.97,317.79 L379.11,316.15 L380.2,314.3 L379.4,312.14 L377.56,309.76 L376.02,307.5 L375.12,305.39 L374.52,303.38 L374.55,301.7 L375.3,300.52 L376.66,299.66 L378.62,298.8 L381.14,297.87 L384.3,296.94 L388.35,295.9 L394.88,294.6 L402.29,293.2 L406,292 L402.69,291.33 L395.69,290.88 L390.43,290 L388.79,288.35 L388.89,286.28 L390.5,284.2 L393.91,282.09 L398.82,279.97 L404.17,278.3 L410.95,277.51 L418.15,277.17 L421.69,276.4 L417.99,274.69 L410.62,272.54 L406.27,270.6 L408.35,269.3 L413.45,268.22 L417.92,266.7 L420.38,264.18 L422.23,261.23 L423.88,258.9 L425.25,257.84 L426.49,257.4 L428.44,256.7 L431.85,255.37 L435.96,253.78 L439.47,252.2 L442.01,250.73 L443.94,249.27 L445,247.8 L444.75,246.39 L443.62,244.96 L442.62,243.3 L441.92,241.26 L441.36,238.99 L441.41,236.7 L442.3,234.47 L443.8,232.24 L445.8,230 L448.33,227.76 L451.35,225.53 L454.85,223.3 L459.22,221 L464.09,218.72 L468.3,216.7 L470.98,215.34 L473.01,214.24 L475.89,212.5 L480.6,209.46 L486.14,205.78 L491.12,202.5 L495.04,200 L498.38,197.91 L501.16,196.1 L503.35,194.64 L504.97,193.48 L506.15,192.3 L506.91,191.01 L507.22,189.7 L507.04,188.4 L506.63,187.24 L505.8,186.09 L503.98,184.5 L501.04,182.22 L497.09,179.5 L491.88,176.7 L485.12,173.87 L477.16,170.94 L468.81,168.1 L459.9,165.34 L450.6,162.67 L442.18,160.2 L435.24,158.06 L429.18,156.14 L423.48,154.2 L417.97,152.06 L412.82,149.9 L408.1,148.1 L403.86,146.93 L400.01,146.12 L396.36,145.2 L392.9,144.08 L389.64,142.85 L386.37,141.3 L382.95,139.32 L379.54,137.02 L376.33,134.5 L373.14,131.39 L370.15,128.06 L368.1,125.7Z" fill="#f8eddb" fill-opacity="1.0" stroke="none"/>
<path d="M367.5,125.7 L369.35,128.06 L372,131.39 L374.88,134.5 L377.84,137.02 L381.02,139.32 L384.24,141.3 L387.35,142.85 L390.49,144.08 L393.84,145.2 L397.4,146.12 L401.17,146.93 L405.3,148.1 L409.83,149.9 L414.69,152.06 L419.92,154.2 L425.36,156.14 L431.16,158.06 L437.82,160.2 L445.91,162.67 L454.85,165.34 L463.39,168.1 L471.37,170.94 L478.94,173.87 L485.32,176.7 L490.16,179.5 L493.86,182.22 L496.62,184.5 L498.32,186.09 L499.05,187.24 L499.36,188.4 L499.44,189.7 L499.16,191.01 L498.45,192.3 L497.33,193.48 L495.76,194.64 L493.64,196.1 L490.94,197.91 L487.69,200 L483.88,202.5 L479.06,205.78 L473.67,209.46 L469.11,212.5 L466.3,214.24 L464.32,215.34 L461.7,216.7 L457.58,218.72 L452.82,221 L448.55,223.3 L445.14,225.53 L442.23,227.76 L439.8,230 L437.73,232.24 L436.15,234.47 L435.19,236.7 L435.06,238.99 L435.55,241.26 L436.18,243.3 L437.12,244.96 L438.2,246.39 L438.4,247.8 L437.3,249.27 L435.32,250.73 L432.73,252.2 L429.17,253.78 L425,255.37 L421.56,256.7 L419.58,257.4 L418.32,257.84 L416.92,258.9 L415.26,261.23 L413.49,264.18 L411.08,266.7 L406.65,268.22 L401.59,269.3 L399.53,270.6 L403.94,272.54 L411.36,274.69 L415.1,276.4 L411.58,277.17 L404.39,277.51 L397.63,278.3 L392.32,279.97 L387.46,282.09 L384.1,284.2 L382.54,286.28 L382.5,288.35 L384.18,290 L389.46,290.88 L396.47,291.33 L399.8,292 L396.11,293.2 L388.74,294.6 L382.25,295.9 L378.23,296.94 L375.08,297.87 L372.59,298.8 L370.65,299.66 L369.4,300.52 L368.85,301.7 L369.13,303.38 L370.1,305.39 L371.38,307.5 L373.34,309.76 L375.61,312.14 L376.8,314.3 L376.05,316.15 L374.21,317.79 L372.45,319.2 L371.05,320.42 L369.73,321.42 L368.8,322.1" fill="none" stroke="#e2c07e" stroke-width="0.65" stroke-linejoin="round"/>
<path d="M367.8,125.7 L369.75,128.06 L372.57,131.39 L375.6,134.5 L378.69,137.02 L381.99,139.32 L385.3,141.3 L388.49,142.85 L391.7,144.08 L395.1,145.2 L398.71,146.12 L402.51,146.93 L406.7,148.1 L411.33,149.9 L416.33,152.06 L421.7,154.2 L427.27,156.14 L433.2,158.06 L440,160.2 L448.26,162.67 L457.38,165.34 L466.1,168.1 L474.27,170.94 L482.03,173.87 L488.6,176.7 L493.63,179.5 L497.45,182.22 L500.3,184.5 L502.06,186.09 L502.84,187.24 L503.2,188.4 L503.33,189.7 L503.04,191.01 L502.3,192.3 L501.15,193.48 L499.55,194.64 L497.4,196.1 L494.66,197.91 L491.36,200 L487.5,202.5 L482.6,205.78 L477.13,209.46 L472.5,212.5 L469.66,214.24 L467.65,215.34 L465,216.7 L460.83,218.72 L456.02,221 L451.7,223.3 L448.24,225.53 L445.28,227.76 L442.8,230 L440.77,232.24 L439.22,234.47 L438.3,236.7 L438.21,238.99 L438.74,241.26 L439.4,243.3 L440.37,244.96 L441.47,246.39 L441.7,247.8 L440.62,249.27 L438.67,250.73 L436.1,252.2 L432.57,253.78 L428.42,255.37 L425,256.7 L423.03,257.4 L421.79,257.84 L420.4,258.9 L418.74,261.23 L416.94,264.18 L414.5,266.7 L410.05,268.22 L404.97,269.3 L402.9,270.6 L407.28,272.54 L414.67,274.69 L418.4,276.4 L414.87,277.17 L407.67,277.51 L400.9,278.3 L395.57,279.97 L390.68,282.09 L387.3,284.2 L385.71,286.28 L385.64,288.35 L387.3,290 L392.57,290.88 L399.58,291.33 L402.9,292 L399.2,293.2 L391.81,294.6 L385.3,295.9 L381.27,296.94 L378.11,297.87 L375.6,298.8 L373.65,299.66 L372.35,300.52 L371.7,301.7 L371.83,303.38 L372.61,305.39 L373.7,307.5 L375.45,309.76 L377.51,312.14 L378.5,314.3 L377.58,316.15 L375.59,317.79 L373.7,319.2 L372.19,320.42 L370.78,321.42 L369.8,322.1" fill="none" stroke="#e2c07e" stroke-width="0.65" stroke-linejoin="round"/>
<path d="M368.1,125.7 L370.15,128.06 L373.14,131.39 L376.33,134.5 L379.54,137.02 L382.95,139.32 L386.37,141.3 L389.64,142.85 L392.9,144.08 L396.36,145.2 L400.01,146.12 L403.86,146.93 L408.1,148.1 L412.82,149.9 L417.97,152.06 L423.48,154.2 L429.18,156.14 L435.24,158.06 L442.18,160.2 L450.6,162.67 L459.9,165.34 L468.81,168.1 L477.16,170.94 L485.12,173.87 L491.88,176.7 L497.09,179.5 L501.04,182.22 L503.98,184.5 L505.8,186.09 L506.63,187.24 L507.04,188.4 L507.22,189.7 L506.91,191.01 L506.15,192.3 L504.97,193.48 L503.35,194.64 L501.16,196.1 L498.38,197.91 L495.04,200 L491.12,202.5 L486.14,205.78 L480.6,209.46 L475.89,212.5 L473.01,214.24 L470.98,215.34 L468.3,216.7 L464.09,218.72 L459.22,221 L454.85,223.3 L451.35,225.53 L448.33,227.76 L445.8,230 L443.8,232.24 L442.3,234.47 L441.41,236.7 L441.36,238.99 L441.92,241.26 L442.62,243.3 L443.62,244.96 L444.75,246.39 L445,247.8 L443.94,249.27 L442.01,250.73 L439.47,252.2 L435.96,253.78 L431.85,255.37 L428.44,256.7 L426.49,257.4 L425.25,257.84 L423.88,258.9 L422.23,261.23 L420.38,264.18 L417.92,266.7 L413.45,268.22 L408.35,269.3 L406.27,270.6 L410.62,272.54 L417.99,274.69 L421.69,276.4 L418.15,277.17 L410.95,277.51 L404.17,278.3 L398.82,279.97 L393.91,282.09 L390.5,284.2 L388.89,286.28 L388.79,288.35 L390.43,290 L395.69,290.88 L402.69,291.33 L406,292 L402.29,293.2 L394.88,294.6 L388.35,295.9 L384.3,296.94 L381.14,297.87 L378.62,298.8 L376.66,299.66 L375.3,300.52 L374.55,301.7 L374.52,303.38 L375.12,305.39 L376.02,307.5 L377.56,309.76 L379.4,312.14 L380.2,314.3 L379.11,316.15 L376.97,317.79 L374.95,319.2 L373.33,320.42 L371.83,321.42 L370.8,322.1" fill="none" stroke="#e2c07e" stroke-width="0.65" stroke-linejoin="round"/>
<text x="440" y="22.2" font-size="6.3" font-weight="bold" fill="#000">Inventory Plot</text>
<rect x="440.5" y="26.5" width="9.2" height="8.6" fill="#f4e9f8" stroke="#e0c6ec" stroke-width="0.8"/>
<line x1="440.5" x2="449.7" y1="30.8" y2="30.8" stroke="#e0c6ec" stroke-width="0.6"/>
<text x="452.8" y="32.6" font-size="5.05" fill="#1a1a1a">Danum (LAI = 6.14)</text>
<rect x="440.5" y="36.3" width="9.2" height="8.6" fill="#cde8e1" stroke="#2a9a87" stroke-width="0.8"/>
<line x1="440.5" x2="449.7" y1="40.6" y2="40.6" stroke="#2a9a87" stroke-width="0.6"/>
<text x="452.8" y="42.4" font-size="5.05" fill="#1a1a1a">Alluvial (LAI = 5.96)</text>
<rect x="440.5" y="46.1" width="9.2" height="8.6" fill="#f8e4cf" stroke="#d09a5a" stroke-width="0.8"/>
<line x1="440.5" x2="449.7" y1="50.4" y2="50.4" stroke="#d09a5a" stroke-width="0.6"/>
<text x="452.8" y="52.2" font-size="5.05" fill="#1a1a1a">Sandstone (LAI = 6.16)</text>
<rect x="440.5" y="55.9" width="9.2" height="8.6" fill="#fbf1dc" stroke="#ebd09a" stroke-width="0.8"/>
<line x1="440.5" x2="449.7" y1="60.2" y2="60.2" stroke="#ebd09a" stroke-width="0.6"/>
<text x="452.8" y="62" font-size="5.05" fill="#1a1a1a">Kerangas (LAI = 6.29)</text>
<path d="M532.5,0 V342.2 H682.1" fill="none" stroke="#333333" stroke-width="0.95"/>
<line x1="530.9" y1="326.3" x2="532.5" y2="326.3" stroke="#333333" stroke-width="0.5"/>
<text x="530.1" y="328.1" font-size="5.1" fill="#505050" text-anchor="end">0</text>
<line x1="530.9" y1="250.5" x2="532.5" y2="250.5" stroke="#333333" stroke-width="0.5"/>
<text x="530.1" y="252.3" font-size="5.1" fill="#505050" text-anchor="end">20</text>
<line x1="530.9" y1="174.7" x2="532.5" y2="174.7" stroke="#333333" stroke-width="0.5"/>
<text x="530.1" y="176.5" font-size="5.1" fill="#505050" text-anchor="end">40</text>
<line x1="530.9" y1="99" x2="532.5" y2="99" stroke="#333333" stroke-width="0.5"/>
<text x="530.1" y="100.8" font-size="5.1" fill="#505050" text-anchor="end">60</text>
<line x1="530.9" y1="23.2" x2="532.5" y2="23.2" stroke="#333333" stroke-width="0.5"/>
<text x="530.1" y="25" font-size="5.1" fill="#505050" text-anchor="end">80</text>
<line x1="539.5" y1="342.2" x2="539.5" y2="343.8" stroke="#333333" stroke-width="0.5"/>
<text x="539.5" y="349.2" font-size="5.1" fill="#505050" text-anchor="middle">0.00</text>
<line x1="567.5" y1="342.2" x2="567.5" y2="343.8" stroke="#333333" stroke-width="0.5"/>
<text x="567.5" y="349.2" font-size="5.1" fill="#505050" text-anchor="middle">0.05</text>
<line x1="595.5" y1="342.2" x2="595.5" y2="343.8" stroke="#333333" stroke-width="0.5"/>
<text x="595.5" y="349.2" font-size="5.1" fill="#505050" text-anchor="middle">0.10</text>
<line x1="623.5" y1="342.2" x2="623.5" y2="343.8" stroke="#333333" stroke-width="0.5"/>
<text x="623.5" y="349.2" font-size="5.1" fill="#505050" text-anchor="middle">0.15</text>
<line x1="651.5" y1="342.2" x2="651.5" y2="343.8" stroke="#333333" stroke-width="0.5"/>
<text x="651.5" y="349.2" font-size="5.1" fill="#505050" text-anchor="middle">0.20</text>
<line x1="679.5" y1="342.2" x2="679.5" y2="343.8" stroke="#333333" stroke-width="0.5"/>
<text x="679.5" y="349.2" font-size="5.1" fill="#505050" text-anchor="middle">0.25</text>
<text x="609.5" y="358.7" font-size="6.5" fill="#000" text-anchor="middle">Leaf area index (m<tspan font-size="4.3" dy="-2.6">2</tspan><tspan dy="2.6"> m</tspan><tspan font-size="4.3" dy="-2.6">-2</tspan><tspan dy="2.6">)</tspan></text>
<text transform="translate(523.4,173.1) rotate(-90)" font-size="5.9" fill="#000" text-anchor="middle">Height from the ground (m)</text>
<path d="M538.79,34.4 L541.1,35.66 L544.46,37.52 L548.28,39.8 L552.54,42.57 L557.25,45.77 L561.84,49 L565.98,52.03 L569.98,55.09 L574.03,58.5 L578.41,62.69 L582.85,67.21 L586.79,71.1 L590.05,73.87 L592.8,75.99 L595.04,77.9 L596.76,79.57 L598.03,81.02 L598.8,82.8 L599,85.26 L598.67,88.04 L597.9,90.6 L596.56,92.73 L594.78,94.63 L593,96.4 L591.47,97.8 L589.95,99.06 L588.1,101 L585.75,104.08 L583.07,107.84 L580.3,111.7 L577.4,115.5 L574.39,119.39 L571.6,123.3 L569.01,127.27 L566.64,131.24 L564.8,135 L563.67,138.38 L563.07,141.53 L562.8,144.7 L562.84,147.96 L563.21,151.24 L563.77,154.5 L564.61,157.76 L565.65,161.01 L566.62,164.2 L567.2,167.12 L567.72,169.97 L568.87,173.3 L570.98,177.45 L573.71,182.08 L576.8,186.7 L580.24,191.14 L584.03,195.57 L587.82,200 L591.5,204.43 L595.17,208.86 L598.85,213.3 L602.82,217.84 L606.78,222.39 L609.87,226.7 L611.64,230.67 L612.53,234.41 L613.01,238 L613.14,241.54 L612.82,244.94 L612.26,248 L611.51,250.44 L610.52,252.56 L609.35,255 L608.11,258.17 L606.69,261.68 L604.75,265 L602.05,268 L598.82,270.8 L595.5,273.3 L592.19,275.28 L588.77,276.94 L585.34,278.8 L582.13,280.97 L578.9,283.33 L575.02,286 L569.85,289.3 L564.48,292.92 L559.75,296 L555.97,298.09 L552.72,299.64 L549.9,301.2 L547.52,302.86 L545.58,304.54 L543.96,306.5 L542.69,308.99 L541.74,311.77 L540.95,314.4 L540.26,316.94 L539.73,319.34 L539.38,321 L541.62,321 L542.4,319.34 L543.52,316.94 L544.85,314.4 L546.3,311.77 L547.94,308.99 L549.84,306.5 L551.95,304.54 L554.31,302.86 L557.1,301.2 L560.31,299.64 L563.94,298.09 L568.25,296 L573.75,292.92 L579.81,289.3 L584.78,286 L588.5,283.33 L591.58,280.97 L594.66,278.8 L597.99,276.94 L601.3,275.28 L604.5,273.3 L607.67,270.8 L610.73,268 L613.25,265 L614.99,261.68 L616.2,258.17 L617.25,255 L618.28,252.56 L619.14,250.44 L619.74,248 L620.11,244.94 L620.24,241.54 L619.99,238 L619.47,234.41 L618.54,230.67 L616.73,226.7 L613.59,222.39 L609.57,217.84 L605.55,213.3 L601.83,208.86 L598.1,204.43 L594.38,200 L590.54,195.57 L586.7,191.14 L583.2,186.7 L580.07,182.08 L577.28,177.45 L575.13,173.3 L573.94,169.97 L573.4,167.12 L572.78,164.2 L571.77,161.01 L570.69,157.76 L569.82,154.5 L569.22,151.24 L568.84,147.96 L568.8,144.7 L569.07,141.53 L569.67,138.38 L570.8,135 L572.64,131.24 L575.01,127.27 L577.6,123.3 L580.39,119.39 L583.4,115.5 L586.3,111.7 L589.07,107.84 L591.75,104.08 L594.1,101 L595.95,99.06 L597.47,97.8 L599,96.4 L600.78,94.63 L602.56,92.73 L603.9,90.6 L604.67,88.04 L605,85.26 L604.8,82.8 L604.03,81.02 L602.7,79.57 L600.76,77.9 L598.27,75.99 L595.23,73.87 L591.61,71.1 L587.15,67.21 L582.1,62.69 L577.17,58.5 L572.65,55.09 L568.25,52.03 L563.76,49 L558.93,45.77 L553.98,42.57 L549.52,39.8 L545.53,37.52 L542.02,35.66 L539.62,34.4Z" fill="#f3fbf9" fill-opacity="1.0" stroke="none"/>
<path d="M538.79,34.4 L541.1,35.66 L544.46,37.52 L548.28,39.8 L552.54,42.57 L557.25,45.77 L561.84,49 L565.98,52.03 L569.98,55.09 L574.03,58.5 L578.41,62.69 L582.85,67.21 L586.79,71.1 L590.05,73.87 L592.8,75.99 L595.04,77.9 L596.76,79.57 L598.03,81.02 L598.8,82.8 L599,85.26 L598.67,88.04 L597.9,90.6 L596.56,92.73 L594.78,94.63 L593,96.4 L591.47,97.8 L589.95,99.06 L588.1,101 L585.75,104.08 L583.07,107.84 L580.3,111.7 L577.4,115.5 L574.39,119.39 L571.6,123.3 L569.01,127.27 L566.64,131.24 L564.8,135 L563.67,138.38 L563.07,141.53 L562.8,144.7 L562.84,147.96 L563.21,151.24 L563.77,154.5 L564.61,157.76 L565.65,161.01 L566.62,164.2 L567.2,167.12 L567.72,169.97 L568.87,173.3 L570.98,177.45 L573.71,182.08 L576.8,186.7 L580.24,191.14 L584.03,195.57 L587.82,200 L591.5,204.43 L595.17,208.86 L598.85,213.3 L602.82,217.84 L606.78,222.39 L609.87,226.7 L611.64,230.67 L612.53,234.41 L613.01,238 L613.14,241.54 L612.82,244.94 L612.26,248 L611.51,250.44 L610.52,252.56 L609.35,255 L608.11,258.17 L606.69,261.68 L604.75,265 L602.05,268 L598.82,270.8 L595.5,273.3 L592.19,275.28 L588.77,276.94 L585.34,278.8 L582.13,280.97 L578.9,283.33 L575.02,286 L569.85,289.3 L564.48,292.92 L559.75,296 L555.97,298.09 L552.72,299.64 L549.9,301.2 L547.52,302.86 L545.58,304.54 L543.96,306.5 L542.69,308.99 L541.74,311.77 L540.95,314.4 L540.26,316.94 L539.73,319.34 L539.38,321" fill="none" stroke="#72c5b6" stroke-width="0.5" stroke-linejoin="round"/>
<path d="M538.99,34.4 L541.33,35.66 L544.73,37.52 L548.59,39.8 L552.9,42.57 L557.67,45.77 L562.32,49 L566.55,52.03 L570.65,55.09 L574.82,58.5 L579.33,62.69 L583.93,67.21 L588,71.1 L591.35,73.87 L594.17,75.99 L596.47,77.9 L598.25,79.57 L599.53,81.02 L600.3,82.8 L600.5,85.26 L600.17,88.04 L599.4,90.6 L598.06,92.73 L596.28,94.63 L594.5,96.4 L592.97,97.8 L591.45,99.06 L589.6,101 L587.25,104.08 L584.57,107.84 L581.8,111.7 L578.9,115.5 L575.89,119.39 L573.1,123.3 L570.51,127.27 L568.14,131.24 L566.3,135 L565.17,138.38 L564.57,141.53 L564.3,144.7 L564.34,147.96 L564.71,151.24 L565.29,154.5 L566.13,157.76 L567.18,161.01 L568.16,164.2 L568.75,167.12 L569.28,169.97 L570.44,173.3 L572.55,177.45 L575.3,182.08 L578.4,186.7 L581.86,191.14 L585.66,195.57 L589.46,200 L593.15,204.43 L596.84,208.86 L600.52,213.3 L604.5,217.84 L608.48,222.39 L611.59,226.7 L613.36,230.67 L614.27,234.41 L614.76,238 L614.92,241.54 L614.64,244.94 L614.13,248 L613.42,250.44 L612.46,252.56 L611.32,255 L610.14,258.17 L608.77,261.68 L606.88,265 L604.22,268 L601.04,270.8 L597.75,273.3 L594.47,275.28 L591.07,276.94 L587.67,278.8 L584.49,280.97 L581.3,283.33 L577.46,286 L572.34,289.3 L566.8,292.92 L561.88,296 L557.96,298.09 L554.61,299.64 L551.7,301.2 L549.22,302.86 L547.17,304.54 L545.43,306.5 L544,308.99 L542.88,311.77 L541.92,314.4 L541.08,316.94 L540.4,319.34 L539.94,321" fill="none" stroke="#72c5b6" stroke-width="0.5" stroke-linejoin="round"/>
<path d="M539.2,34.4 L541.56,35.66 L545,37.52 L548.9,39.8 L553.26,42.57 L558.09,45.77 L562.8,49 L567.12,52.03 L571.31,55.09 L575.6,58.5 L580.26,62.69 L585,67.21 L589.2,71.1 L592.64,73.87 L595.54,75.99 L597.9,77.9 L599.73,79.57 L601.03,81.02 L601.8,82.8 L602,85.26 L601.67,88.04 L600.9,90.6 L599.56,92.73 L597.78,94.63 L596,96.4 L594.47,97.8 L592.95,99.06 L591.1,101 L588.75,104.08 L586.07,107.84 L583.3,111.7 L580.4,115.5 L577.39,119.39 L574.6,123.3 L572.01,127.27 L569.64,131.24 L567.8,135 L566.67,138.38 L566.07,141.53 L565.8,144.7 L565.84,147.96 L566.21,151.24 L566.8,154.5 L567.65,157.76 L568.71,161.01 L569.7,164.2 L570.3,167.12 L570.83,169.97 L572,173.3 L574.13,177.45 L576.89,182.08 L580,186.7 L583.47,191.14 L587.29,195.57 L591.1,200 L594.8,204.43 L598.5,208.86 L602.2,213.3 L606.19,217.84 L610.19,222.39 L613.3,226.7 L615.09,230.67 L616,234.41 L616.5,238 L616.69,241.54 L616.47,244.94 L616,248 L615.32,250.44 L614.4,252.56 L613.3,255 L612.16,258.17 L610.84,261.68 L609,265 L606.39,268 L603.25,270.8 L600,273.3 L596.74,275.28 L593.38,276.94 L590,278.8 L586.86,280.97 L583.7,283.33 L579.9,286 L574.83,289.3 L569.11,292.92 L564,296 L559.96,298.09 L556.51,299.64 L553.5,301.2 L550.91,302.86 L548.76,304.54 L546.9,306.5 L545.31,308.99 L544.02,311.77 L542.9,314.4 L541.89,316.94 L541.06,319.34 L540.5,321" fill="none" stroke="#72c5b6" stroke-width="0.5" stroke-linejoin="round"/>
<path d="M539.41,34.4 L541.79,35.66 L545.26,37.52 L549.21,39.8 L553.62,42.57 L558.51,45.77 L563.28,49 L567.69,52.03 L571.98,55.09 L576.38,58.5 L581.18,62.69 L586.07,67.21 L590.4,71.1 L593.94,73.87 L596.9,75.99 L599.33,77.9 L601.22,79.57 L602.53,81.02 L603.3,82.8 L603.5,85.26 L603.17,88.04 L602.4,90.6 L601.06,92.73 L599.28,94.63 L597.5,96.4 L595.97,97.8 L594.45,99.06 L592.6,101 L590.25,104.08 L587.57,107.84 L584.8,111.7 L581.9,115.5 L578.89,119.39 L576.1,123.3 L573.51,127.27 L571.14,131.24 L569.3,135 L568.17,138.38 L567.57,141.53 L567.3,144.7 L567.34,147.96 L567.72,151.24 L568.31,154.5 L569.17,157.76 L570.24,161.01 L571.24,164.2 L571.85,167.12 L572.39,169.97 L573.56,173.3 L575.71,177.45 L578.48,182.08 L581.6,186.7 L585.08,191.14 L588.91,195.57 L592.74,200 L596.45,204.43 L600.16,208.86 L603.88,213.3 L607.88,217.84 L611.89,222.39 L615.01,226.7 L616.81,230.67 L617.73,234.41 L618.24,238 L618.46,241.54 L618.29,244.94 L617.87,248 L617.23,250.44 L616.34,252.56 L615.27,255 L614.18,258.17 L612.92,261.68 L611.12,265 L608.56,268 L605.46,270.8 L602.25,273.3 L599.02,275.28 L595.68,276.94 L592.33,278.8 L589.22,280.97 L586.1,283.33 L582.34,286 L577.32,289.3 L571.43,292.92 L566.12,296 L561.95,298.09 L558.41,299.64 L555.3,301.2 L552.61,302.86 L550.35,304.54 L548.37,306.5 L546.63,308.99 L545.16,311.77 L543.88,314.4 L542.71,316.94 L541.73,319.34 L541.06,321" fill="none" stroke="#72c5b6" stroke-width="0.5" stroke-linejoin="round"/>
<path d="M539.62,34.4 L542.02,35.66 L545.53,37.52 L549.52,39.8 L553.98,42.57 L558.93,45.77 L563.76,49 L568.25,52.03 L572.65,55.09 L577.17,58.5 L582.1,62.69 L587.15,67.21 L591.61,71.1 L595.23,73.87 L598.27,75.99 L600.76,77.9 L602.7,79.57 L604.03,81.02 L604.8,82.8 L605,85.26 L604.67,88.04 L603.9,90.6 L602.56,92.73 L600.78,94.63 L599,96.4 L597.47,97.8 L595.95,99.06 L594.1,101 L591.75,104.08 L589.07,107.84 L586.3,111.7 L583.4,115.5 L580.39,119.39 L577.6,123.3 L575.01,127.27 L572.64,131.24 L570.8,135 L569.67,138.38 L569.07,141.53 L568.8,144.7 L568.84,147.96 L569.22,151.24 L569.82,154.5 L570.69,157.76 L571.77,161.01 L572.78,164.2 L573.4,167.12 L573.94,169.97 L575.13,173.3 L577.28,177.45 L580.07,182.08 L583.2,186.7 L586.7,191.14 L590.54,195.57 L594.38,200 L598.1,204.43 L601.83,208.86 L605.55,213.3 L609.57,217.84 L613.59,222.39 L616.73,226.7 L618.54,230.67 L619.47,234.41 L619.99,238 L620.24,241.54 L620.11,244.94 L619.74,248 L619.14,250.44 L618.28,252.56 L617.25,255 L616.2,258.17 L614.99,261.68 L613.25,265 L610.73,268 L607.67,270.8 L604.5,273.3 L601.3,275.28 L597.99,276.94 L594.66,278.8 L591.58,280.97 L588.5,283.33 L584.78,286 L579.81,289.3 L573.75,292.92 L568.25,296 L563.94,298.09 L560.31,299.64 L557.1,301.2 L554.31,302.86 L551.95,304.54 L549.84,306.5 L547.94,308.99 L546.3,311.77 L544.85,314.4 L543.52,316.94 L542.4,319.34 L541.62,321" fill="none" stroke="#72c5b6" stroke-width="0.5" stroke-linejoin="round"/>
<path d="M538.75,35.1 L540.88,36.71 L543.94,39.02 L546.99,41.4 L549.83,43.65 L552.67,45.97 L555.22,48.3 L557.27,50.51 L559.02,52.74 L560.75,55.3 L562.55,58.35 L564.33,61.73 L566.05,65.3 L567.79,69.08 L569.48,73.04 L570.83,77 L571.7,80.94 L572.24,84.87 L572.61,88.6 L572.82,91.93 L572.86,95.07 L572.92,98.4 L573.16,102 L573.44,105.79 L573.5,110 L573.1,114.89 L572.48,120.19 L572.1,125.3 L572.17,129.96 L572.49,134.43 L572.9,138.9 L573.36,143.5 L573.91,148.11 L574.5,152.5 L575.09,156.65 L575.71,160.59 L576.4,164.2 L577.2,167.41 L578.07,170.31 L578.9,173 L579.49,175.23 L580.04,177.27 L581.1,180 L582.92,184.05 L585.24,188.8 L587.8,193.3 L590.6,197.16 L593.64,200.77 L596.62,204.4 L599.61,208.13 L602.6,211.87 L605.33,215.6 L607.71,219.37 L609.84,223.14 L611.73,226.7 L613.42,229.94 L614.87,232.99 L616.07,236 L616.97,238.99 L617.64,241.94 L618.17,245 L618.82,248.44 L619.32,252 L618.9,255 L617.22,256.91 L614.62,258.27 L611.37,260 L607.35,262.58 L602.68,265.53 L598.01,268.3 L593.44,270.77 L588.9,273.06 L584.78,275 L581.49,276.35 L578.62,277.34 L575.34,278.5 L571.14,280.07 L566.53,281.81 L562.23,283.5 L558.36,284.91 L554.79,286.26 L551.8,288 L549.59,290.31 L547.96,293.02 L546.63,296 L545.63,299.31 L544.99,302.91 L544.37,306.5 L543.62,310.24 L542.85,313.98 L542.1,317 L541.26,318.96 L540.44,320.2 L539.86,321 L541.14,321 L541.78,320.2 L542.71,318.96 L543.7,317 L544.71,313.98 L545.78,310.24 L546.83,306.5 L547.76,302.91 L548.65,299.31 L549.77,296 L551.19,293.02 L552.91,290.31 L555.2,288 L558.24,286.26 L561.86,284.91 L565.77,283.5 L570.14,281.81 L574.81,280.07 L579.06,278.5 L582.38,277.34 L585.28,276.35 L588.62,275 L592.8,273.06 L597.41,270.77 L601.99,268.3 L606.62,265.53 L611.25,262.58 L615.23,260 L618.46,258.27 L621.04,256.91 L622.7,255 L623.08,252 L622.53,248.44 L621.83,245 L621.27,241.94 L620.54,238.99 L619.53,236 L618.23,232.99 L616.66,229.94 L614.87,226.7 L612.85,223.14 L610.59,219.37 L608.07,215.6 L605.21,211.87 L602.09,208.13 L598.98,204.4 L595.87,200.77 L592.8,197.16 L590,193.3 L587.44,188.8 L585.12,184.05 L583.3,180 L582.24,177.27 L581.69,175.23 L581.1,173 L580.27,170.31 L579.4,167.41 L578.6,164.2 L577.91,160.59 L577.29,156.65 L576.7,152.5 L576.11,148.11 L575.56,143.5 L575.1,138.9 L574.69,134.43 L574.37,129.96 L574.3,125.3 L574.68,120.19 L575.3,114.89 L575.7,110 L575.64,105.79 L575.36,102 L575.08,98.4 L574.96,95.07 L574.86,91.93 L574.59,88.6 L574.14,84.87 L573.52,80.94 L572.57,77 L571.14,73.04 L569.37,69.08 L567.55,65.3 L565.76,61.73 L563.92,58.35 L562.05,55.3 L560.28,52.74 L558.48,50.51 L556.38,48.3 L553.79,45.97 L550.9,43.65 L548.01,41.4 L544.92,39.02 L541.82,36.71 L539.65,35.1Z" fill="#b27fc8" fill-opacity="1.0" stroke="none"/>
<path d="M538.75,35.1 L540.88,36.71 L543.94,39.02 L546.99,41.4 L549.83,43.65 L552.67,45.97 L555.22,48.3 L557.27,50.51 L559.02,52.74 L560.75,55.3 L562.55,58.35 L564.33,61.73 L566.05,65.3 L567.79,69.08 L569.48,73.04 L570.83,77 L571.7,80.94 L572.24,84.87 L572.61,88.6 L572.82,91.93 L572.86,95.07 L572.92,98.4 L573.16,102 L573.44,105.79 L573.5,110 L573.1,114.89 L572.48,120.19 L572.1,125.3 L572.17,129.96 L572.49,134.43 L572.9,138.9 L573.36,143.5 L573.91,148.11 L574.5,152.5 L575.09,156.65 L575.71,160.59 L576.4,164.2 L577.2,167.41 L578.07,170.31 L578.9,173 L579.49,175.23 L580.04,177.27 L581.1,180 L582.92,184.05 L585.24,188.8 L587.8,193.3 L590.6,197.16 L593.64,200.77 L596.62,204.4 L599.61,208.13 L602.6,211.87 L605.33,215.6 L607.71,219.37 L609.84,223.14 L611.73,226.7 L613.42,229.94 L614.87,232.99 L616.07,236 L616.97,238.99 L617.64,241.94 L618.17,245 L618.82,248.44 L619.32,252 L618.9,255 L617.22,256.91 L614.62,258.27 L611.37,260 L607.35,262.58 L602.68,265.53 L598.01,268.3 L593.44,270.77 L588.9,273.06 L584.78,275 L581.49,276.35 L578.62,277.34 L575.34,278.5 L571.14,280.07 L566.53,281.81 L562.23,283.5 L558.36,284.91 L554.79,286.26 L551.8,288 L549.59,290.31 L547.96,293.02 L546.63,296 L545.63,299.31 L544.99,302.91 L544.37,306.5 L543.62,310.24 L542.85,313.98 L542.1,317 L541.26,318.96 L540.44,320.2 L539.86,321" fill="none" stroke="#8f45ae" stroke-width="0.75" stroke-linejoin="round"/>
<path d="M539.2,35.1 L541.35,36.71 L544.43,39.02 L547.5,41.4 L550.37,43.65 L553.23,45.97 L555.8,48.3 L557.87,50.51 L559.65,52.74 L561.4,55.3 L563.23,58.35 L565.04,61.73 L566.8,65.3 L568.58,69.08 L570.31,73.04 L571.7,77 L572.61,80.94 L573.19,84.87 L573.6,88.6 L573.84,91.93 L573.91,95.07 L574,98.4 L574.26,102 L574.54,105.79 L574.6,110 L574.2,114.89 L573.58,120.19 L573.2,125.3 L573.27,129.96 L573.59,134.43 L574,138.9 L574.46,143.5 L575.01,148.11 L575.6,152.5 L576.19,156.65 L576.81,160.59 L577.5,164.2 L578.3,167.41 L579.17,170.31 L580,173 L580.59,175.23 L581.14,177.27 L582.2,180 L584.02,184.05 L586.34,188.8 L588.9,193.3 L591.7,197.16 L594.75,200.77 L597.8,204.4 L600.85,208.13 L603.9,211.87 L606.7,215.6 L609.15,219.37 L611.34,223.14 L613.3,226.7 L615.04,229.94 L616.55,232.99 L617.8,236 L618.76,238.99 L619.46,241.94 L620,245 L620.68,248.44 L621.2,252 L620.8,255 L619.13,256.91 L616.54,258.27 L613.3,260 L609.3,262.58 L604.65,265.53 L600,268.3 L595.43,270.77 L590.85,273.06 L586.7,275 L583.39,276.35 L580.5,277.34 L577.2,278.5 L572.97,280.07 L568.34,281.81 L564,283.5 L560.11,284.91 L556.51,286.26 L553.5,288 L551.25,290.31 L549.57,293.02 L548.2,296 L547.14,299.31 L546.37,302.91 L545.6,306.5 L544.7,310.24 L543.78,313.98 L542.9,317 L541.99,318.96 L541.11,320.2 L540.5,321" fill="none" stroke="#8f45ae" stroke-width="0.75" stroke-linejoin="round"/>
<path d="M539.65,35.1 L541.82,36.71 L544.92,39.02 L548.01,41.4 L550.9,43.65 L553.79,45.97 L556.38,48.3 L558.48,50.51 L560.28,52.74 L562.05,55.3 L563.92,58.35 L565.76,61.73 L567.55,65.3 L569.37,69.08 L571.14,73.04 L572.57,77 L573.52,80.94 L574.14,84.87 L574.59,88.6 L574.86,91.93 L574.96,95.07 L575.08,98.4 L575.36,102 L575.64,105.79 L575.7,110 L575.3,114.89 L574.68,120.19 L574.3,125.3 L574.37,129.96 L574.69,134.43 L575.1,138.9 L575.56,143.5 L576.11,148.11 L576.7,152.5 L577.29,156.65 L577.91,160.59 L578.6,164.2 L579.4,167.41 L580.27,170.31 L581.1,173 L581.69,175.23 L582.24,177.27 L583.3,180 L585.12,184.05 L587.44,188.8 L590,193.3 L592.8,197.16 L595.87,200.77 L598.98,204.4 L602.09,208.13 L605.21,211.87 L608.07,215.6 L610.59,219.37 L612.85,223.14 L614.87,226.7 L616.66,229.94 L618.23,232.99 L619.53,236 L620.54,238.99 L621.27,241.94 L621.83,245 L622.53,248.44 L623.08,252 L622.7,255 L621.04,256.91 L618.46,258.27 L615.23,260 L611.25,262.58 L606.62,265.53 L601.99,268.3 L597.41,270.77 L592.8,273.06 L588.62,275 L585.28,276.35 L582.38,277.34 L579.06,278.5 L574.81,280.07 L570.14,281.81 L565.77,283.5 L561.86,284.91 L558.24,286.26 L555.2,288 L552.91,290.31 L551.19,293.02 L549.77,296 L548.65,299.31 L547.76,302.91 L546.83,306.5 L545.78,310.24 L544.71,313.98 L543.7,317 L542.71,318.96 L541.78,320.2 L541.14,321" fill="none" stroke="#8f45ae" stroke-width="0.75" stroke-linejoin="round"/>
<path d="M538.69,21.5 L541.99,23.54 L546.69,26.46 L551.41,29.5 L555.97,32.67 L560.55,35.94 L564.32,38.5 L566.49,39.56 L567.87,39.89 L569.99,41 L573.83,43.65 L578.43,47.07 L582.5,50.5 L585.6,53.68 L588.17,56.86 L590.2,60 L591.63,63.07 L592.52,66.11 L593.08,69.2 L593.36,72.32 L593.32,75.5 L593.06,78.9 L592.6,82.65 L591.92,86.63 L591.14,90.6 L590.27,94.59 L589.3,98.57 L588.21,102.3 L586.87,105.45 L585.42,108.34 L584.29,111.7 L583.72,115.92 L583.47,120.61 L583.26,125.3 L582.98,129.9 L582.74,134.51 L582.63,138.9 L582.65,142.87 L582.8,146.63 L583.21,150.6 L584,155.16 L585.05,159.93 L586.08,164.2 L587,167.57 L587.9,170.45 L588.86,173.3 L589.79,175.77 L590.78,178.21 L592.14,182.2 L594.2,188.81 L596.62,196.97 L598.79,205 L600.54,212.77 L602.03,220.43 L603.15,226.7 L603.81,230.85 L604.11,233.63 L604.23,236 L604.41,238.01 L604.41,239.61 L603.72,241.7 L602.06,244.78 L599.71,248.33 L597.02,251.7 L593.89,254.71 L590.4,257.54 L587.1,260 L584.22,261.89 L581.52,263.42 L578.85,265 L576.34,266.69 L573.85,268.44 L570.8,270.5 L566.61,273.07 L561.85,275.96 L557.68,278.8 L554.6,281.34 L552.11,283.83 L549.86,286.7 L547.7,290.19 L545.78,294.06 L544.17,298 L542.94,301.99 L542.03,306.05 L541.28,310 L540.66,314.15 L540.2,318.19 L539.89,321 L541.11,321 L541.47,318.19 L542.01,314.15 L542.72,310 L543.54,306.05 L544.53,301.99 L545.83,298 L547.52,294.06 L549.52,290.19 L551.74,286.7 L554.05,283.83 L556.59,281.34 L559.72,278.8 L563.94,275.96 L568.76,273.07 L573,270.5 L576.09,268.44 L578.61,266.69 L581.15,265 L583.86,263.42 L586.58,261.89 L589.5,260 L592.86,257.54 L596.4,254.71 L599.58,251.7 L602.3,248.33 L604.64,244.78 L606.28,241.7 L606.96,239.61 L606.96,238.01 L606.77,236 L606.64,233.63 L606.33,230.85 L605.65,226.7 L604.5,220.43 L602.98,212.77 L601.21,205 L599,196.97 L596.54,188.81 L594.46,182.2 L593.08,178.21 L592.08,175.77 L591.14,173.3 L590.17,170.45 L589.25,167.57 L588.32,164.2 L587.27,159.93 L586.2,155.16 L585.39,150.6 L584.97,146.63 L584.8,142.87 L584.77,138.9 L584.85,134.51 L585.07,129.9 L585.34,125.3 L585.52,120.61 L585.75,115.92 L586.31,111.7 L587.42,108.34 L588.86,105.45 L590.19,102.3 L591.26,98.57 L592.22,94.59 L593.06,90.6 L593.83,86.63 L594.49,82.65 L594.94,78.9 L595.18,75.5 L595.21,72.32 L594.92,69.2 L594.34,66.11 L593.44,63.07 L592,60 L589.91,56.86 L587.27,53.68 L584.1,50.5 L579.97,47.07 L575.3,43.65 L571.41,41 L569.25,39.89 L567.88,39.56 L565.68,38.5 L561.85,35.94 L557.21,32.67 L552.59,29.5 L547.8,26.46 L543.04,23.54 L539.71,21.5Z" fill="#eedcf4" fill-opacity="1.0" stroke="none"/>
<path d="M538.69,21.5 L541.99,23.54 L546.69,26.46 L551.41,29.5 L555.97,32.67 L560.55,35.94 L564.32,38.5 L566.49,39.56 L567.87,39.89 L569.99,41 L573.83,43.65 L578.43,47.07 L582.5,50.5 L585.6,53.68 L588.17,56.86 L590.2,60 L591.63,63.07 L592.52,66.11 L593.08,69.2 L593.36,72.32 L593.32,75.5 L593.06,78.9 L592.6,82.65 L591.92,86.63 L591.14,90.6 L590.27,94.59 L589.3,98.57 L588.21,102.3 L586.87,105.45 L585.42,108.34 L584.29,111.7 L583.72,115.92 L583.47,120.61 L583.26,125.3 L582.98,129.9 L582.74,134.51 L582.63,138.9 L582.65,142.87 L582.8,146.63 L583.21,150.6 L584,155.16 L585.05,159.93 L586.08,164.2 L587,167.57 L587.9,170.45 L588.86,173.3 L589.79,175.77 L590.78,178.21 L592.14,182.2 L594.2,188.81 L596.62,196.97 L598.79,205 L600.54,212.77 L602.03,220.43 L603.15,226.7 L603.81,230.85 L604.11,233.63 L604.23,236 L604.41,238.01 L604.41,239.61 L603.72,241.7 L602.06,244.78 L599.71,248.33 L597.02,251.7 L593.89,254.71 L590.4,257.54 L587.1,260 L584.22,261.89 L581.52,263.42 L578.85,265 L576.34,266.69 L573.85,268.44 L570.8,270.5 L566.61,273.07 L561.85,275.96 L557.68,278.8 L554.6,281.34 L552.11,283.83 L549.86,286.7 L547.7,290.19 L545.78,294.06 L544.17,298 L542.94,301.99 L542.03,306.05 L541.28,310 L540.66,314.15 L540.2,318.19 L539.89,321" fill="none" stroke="#e2c4ec" stroke-width="0.7" stroke-linejoin="round"/>
<path d="M539.2,21.5 L542.51,23.54 L547.24,26.46 L552,29.5 L556.59,32.67 L561.2,35.94 L565,38.5 L567.19,39.56 L568.56,39.89 L570.7,41 L574.57,43.65 L579.2,47.07 L583.3,50.5 L586.44,53.68 L589.04,56.86 L591.1,60 L592.54,63.07 L593.43,66.11 L594,69.2 L594.29,72.32 L594.25,75.5 L594,78.9 L593.54,82.65 L592.88,86.63 L592.1,90.6 L591.24,94.59 L590.28,98.57 L589.2,102.3 L587.87,105.45 L586.42,108.34 L585.3,111.7 L584.74,115.92 L584.5,120.61 L584.3,125.3 L584.03,129.9 L583.8,134.51 L583.7,138.9 L583.73,142.87 L583.89,146.63 L584.3,150.6 L585.1,155.16 L586.16,159.93 L587.2,164.2 L588.12,167.57 L589.03,170.45 L590,173.3 L590.94,175.77 L591.93,178.21 L593.3,182.2 L595.37,188.81 L597.81,196.97 L600,205 L601.76,212.77 L603.26,220.43 L604.4,226.7 L605.07,230.85 L605.37,233.63 L605.5,236 L605.68,238.01 L605.69,239.61 L605,241.7 L603.35,244.78 L601.01,248.33 L598.3,251.7 L595.15,254.71 L591.63,257.54 L588.3,260 L585.4,261.89 L582.69,263.42 L580,265 L577.47,266.69 L574.97,268.44 L571.9,270.5 L567.68,273.07 L562.9,275.96 L558.7,278.8 L555.6,281.34 L553.08,283.83 L550.8,286.7 L548.61,290.19 L546.65,294.06 L545,298 L543.74,301.99 L542.79,306.05 L542,310 L541.33,314.15 L540.83,318.19 L540.5,321" fill="none" stroke="#e2c4ec" stroke-width="0.7" stroke-linejoin="round"/>
<path d="M539.71,21.5 L543.04,23.54 L547.8,26.46 L552.59,29.5 L557.21,32.67 L561.85,35.94 L565.68,38.5 L567.88,39.56 L569.25,39.89 L571.41,41 L575.3,43.65 L579.97,47.07 L584.1,50.5 L587.27,53.68 L589.91,56.86 L592,60 L593.44,63.07 L594.34,66.11 L594.92,69.2 L595.21,72.32 L595.18,75.5 L594.94,78.9 L594.49,82.65 L593.83,86.63 L593.06,90.6 L592.22,94.59 L591.26,98.57 L590.19,102.3 L588.86,105.45 L587.42,108.34 L586.31,111.7 L585.75,115.92 L585.52,120.61 L585.34,125.3 L585.07,129.9 L584.85,134.51 L584.77,138.9 L584.8,142.87 L584.97,146.63 L585.39,150.6 L586.2,155.16 L587.27,159.93 L588.32,164.2 L589.25,167.57 L590.17,170.45 L591.14,173.3 L592.08,175.77 L593.08,178.21 L594.46,182.2 L596.54,188.81 L599,196.97 L601.21,205 L602.98,212.77 L604.5,220.43 L605.65,226.7 L606.33,230.85 L606.64,233.63 L606.77,236 L606.96,238.01 L606.96,239.61 L606.28,241.7 L604.64,244.78 L602.3,248.33 L599.58,251.7 L596.4,254.71 L592.86,257.54 L589.5,260 L586.58,261.89 L583.86,263.42 L581.15,265 L578.61,266.69 L576.09,268.44 L573,270.5 L568.76,273.07 L563.94,275.96 L559.72,278.8 L556.59,281.34 L554.05,283.83 L551.74,286.7 L549.52,290.19 L547.52,294.06 L545.83,298 L544.53,301.99 L543.54,306.05 L542.72,310 L542.01,314.15 L541.47,318.19 L541.11,321" fill="none" stroke="#e2c4ec" stroke-width="0.7" stroke-linejoin="round"/>
<path d="M538.75,27.2 L541.09,28.41 L544.51,30.19 L548.39,32.4 L552.88,35.13 L557.83,38.29 L562.2,41.4 L565.5,44.37 L568.21,47.29 L570.71,50 L573.15,52.45 L575.37,54.69 L577.24,56.7 L578.46,58.16 L579.34,59.39 L580.6,61.4 L582.67,64.79 L585.13,68.95 L587.37,73.1 L589.24,77.04 L590.91,80.97 L592.24,84.7 L593.19,88.1 L593.81,91.31 L594.11,94.5 L593.98,97.82 L593.53,101.13 L593.09,104.2 L592.78,106.64 L592.49,108.83 L592.18,111.7 L591.84,115.78 L591.5,120.54 L591.15,125.3 L590.73,129.9 L590.32,134.51 L590.12,138.9 L590.27,142.87 L590.63,146.63 L591.1,150.6 L591.71,155.24 L592.42,160.09 L592.97,164.2 L593.1,166.76 L593.06,168.57 L593.36,171.1 L594.14,174.97 L595.26,179.56 L596.73,184.4 L598.72,189.51 L601.07,194.89 L603.3,200 L605.36,204.69 L607.3,209.11 L608.87,213.3 L609.96,217.37 L610.67,221.19 L611.05,224.4 L611.06,226.45 L610.74,227.89 L610.34,230 L610.02,233.45 L609.61,237.58 L608.82,241.7 L607.52,245.69 L605.84,249.67 L603.83,253.3 L601.39,256.4 L598.59,259.15 L595.6,261.7 L592.29,264.15 L588.79,266.4 L585.65,268.3 L583.24,269.66 L581.19,270.66 L578.98,271.7 L576.48,272.91 L573.83,274.16 L570.91,275.5 L567.6,276.8 L564.03,278.19 L560.45,280.1 L556.75,282.86 L553.04,286.13 L549.93,289.4 L547.73,292.42 L546.13,295.43 L544.81,298.6 L543.74,301.99 L542.95,305.53 L542.19,309.2 L541.32,313.48 L540.48,317.9 L539.89,321 L541.11,321 L541.75,317.9 L542.66,313.48 L543.61,309.2 L544.42,305.53 L545.27,301.99 L546.39,298.6 L547.77,295.43 L549.42,292.42 L551.67,289.4 L554.84,286.13 L558.6,282.86 L562.35,280.1 L565.96,278.19 L569.56,276.8 L572.89,275.5 L575.83,274.16 L578.5,272.91 L581.02,271.7 L583.24,270.66 L585.31,269.66 L587.75,268.3 L590.92,266.4 L594.45,264.15 L597.8,261.7 L600.84,259.15 L603.69,256.4 L606.17,253.3 L608.24,249.67 L609.91,245.69 L611.18,241.7 L611.96,237.58 L612.36,233.45 L612.66,230 L613.06,227.89 L613.36,226.45 L613.35,224.4 L612.95,221.19 L612.23,217.37 L611.13,213.3 L609.54,209.11 L607.58,204.69 L605.5,200 L603.25,194.89 L600.88,189.51 L598.87,184.4 L597.38,179.56 L596.24,174.97 L595.44,171.1 L595.14,168.57 L595.17,166.76 L595.03,164.2 L594.46,160.09 L593.73,155.24 L593.1,150.6 L592.62,146.63 L592.24,142.87 L592.08,138.9 L592.25,134.51 L592.65,129.9 L593.05,125.3 L593.38,120.54 L593.71,115.78 L594.02,111.7 L594.32,108.83 L594.61,106.64 L594.91,104.2 L595.34,101.13 L595.77,97.82 L595.89,94.5 L595.57,91.31 L594.93,88.1 L593.96,84.7 L592.61,80.97 L590.93,77.04 L589.03,73.1 L586.77,68.95 L584.3,64.79 L582.2,61.4 L580.93,59.39 L580.02,58.16 L578.76,56.7 L576.85,54.69 L574.59,52.45 L572.09,50 L569.54,47.29 L566.77,44.37 L563.4,41.4 L558.97,38.29 L553.95,35.13 L549.41,32.4 L545.48,30.19 L542.02,28.41 L539.65,27.2Z" fill="#b85a57" fill-opacity="1.0" stroke="none"/>
<path d="M538.75,27.2 L541.09,28.41 L544.51,30.19 L548.39,32.4 L552.88,35.13 L557.83,38.29 L562.2,41.4 L565.5,44.37 L568.21,47.29 L570.71,50 L573.15,52.45 L575.37,54.69 L577.24,56.7 L578.46,58.16 L579.34,59.39 L580.6,61.4 L582.67,64.79 L585.13,68.95 L587.37,73.1 L589.24,77.04 L590.91,80.97 L592.24,84.7 L593.19,88.1 L593.81,91.31 L594.11,94.5 L593.98,97.82 L593.53,101.13 L593.09,104.2 L592.78,106.64 L592.49,108.83 L592.18,111.7 L591.84,115.78 L591.5,120.54 L591.15,125.3 L590.73,129.9 L590.32,134.51 L590.12,138.9 L590.27,142.87 L590.63,146.63 L591.1,150.6 L591.71,155.24 L592.42,160.09 L592.97,164.2 L593.1,166.76 L593.06,168.57 L593.36,171.1 L594.14,174.97 L595.26,179.56 L596.73,184.4 L598.72,189.51 L601.07,194.89 L603.3,200 L605.36,204.69 L607.3,209.11 L608.87,213.3 L609.96,217.37 L610.67,221.19 L611.05,224.4 L611.06,226.45 L610.74,227.89 L610.34,230 L610.02,233.45 L609.61,237.58 L608.82,241.7 L607.52,245.69 L605.84,249.67 L603.83,253.3 L601.39,256.4 L598.59,259.15 L595.6,261.7 L592.29,264.15 L588.79,266.4 L585.65,268.3 L583.24,269.66 L581.19,270.66 L578.98,271.7 L576.48,272.91 L573.83,274.16 L570.91,275.5 L567.6,276.8 L564.03,278.19 L560.45,280.1 L556.75,282.86 L553.04,286.13 L549.93,289.4 L547.73,292.42 L546.13,295.43 L544.81,298.6 L543.74,301.99 L542.95,305.53 L542.19,309.2 L541.32,313.48 L540.48,317.9 L539.89,321" fill="none" stroke="#9c2424" stroke-width="0.75" stroke-linejoin="round"/>
<path d="M539.2,27.2 L541.56,28.41 L545,30.19 L548.9,32.4 L553.42,35.13 L558.4,38.29 L562.8,41.4 L566.13,44.37 L568.88,47.29 L571.4,50 L573.87,52.45 L576.11,54.69 L578,56.7 L579.24,58.16 L580.13,59.39 L581.4,61.4 L583.49,64.79 L585.95,68.95 L588.2,73.1 L590.09,77.04 L591.76,80.97 L593.1,84.7 L594.06,88.1 L594.69,91.31 L595,94.5 L594.88,97.82 L594.43,101.13 L594,104.2 L593.7,106.64 L593.4,108.83 L593.1,111.7 L592.77,115.78 L592.44,120.54 L592.1,125.3 L591.69,129.9 L591.29,134.51 L591.1,138.9 L591.25,142.87 L591.63,146.63 L592.1,150.6 L592.72,155.24 L593.44,160.09 L594,164.2 L594.13,166.76 L594.1,168.57 L594.4,171.1 L595.19,174.97 L596.32,179.56 L597.8,184.4 L599.8,189.51 L602.16,194.89 L604.4,200 L606.47,204.69 L608.42,209.11 L610,213.3 L611.09,217.37 L611.81,221.19 L612.2,224.4 L612.21,226.45 L611.9,227.89 L611.5,230 L611.19,233.45 L610.79,237.58 L610,241.7 L608.71,245.69 L607.04,249.67 L605,253.3 L602.54,256.4 L599.71,259.15 L596.7,261.7 L593.37,264.15 L589.85,266.4 L586.7,268.3 L584.27,269.66 L582.21,270.66 L580,271.7 L577.49,272.91 L574.83,274.16 L571.9,275.5 L568.58,276.8 L565,278.19 L561.4,280.1 L557.67,282.86 L553.94,286.13 L550.8,289.4 L548.57,292.42 L546.95,295.43 L545.6,298.6 L544.5,301.99 L543.69,305.53 L542.9,309.2 L541.99,313.48 L541.11,317.9 L540.5,321" fill="none" stroke="#9c2424" stroke-width="0.75" stroke-linejoin="round"/>
<path d="M539.65,27.2 L542.02,28.41 L545.48,30.19 L549.41,32.4 L553.95,35.13 L558.97,38.29 L563.4,41.4 L566.77,44.37 L569.54,47.29 L572.09,50 L574.59,52.45 L576.85,54.69 L578.76,56.7 L580.02,58.16 L580.93,59.39 L582.2,61.4 L584.3,64.79 L586.77,68.95 L589.03,73.1 L590.93,77.04 L592.61,80.97 L593.96,84.7 L594.93,88.1 L595.57,91.31 L595.89,94.5 L595.77,97.82 L595.34,101.13 L594.91,104.2 L594.61,106.64 L594.32,108.83 L594.02,111.7 L593.71,115.78 L593.38,120.54 L593.05,125.3 L592.65,129.9 L592.25,134.51 L592.08,138.9 L592.24,142.87 L592.62,146.63 L593.1,150.6 L593.73,155.24 L594.46,160.09 L595.03,164.2 L595.17,166.76 L595.14,168.57 L595.44,171.1 L596.24,174.97 L597.38,179.56 L598.87,184.4 L600.88,189.51 L603.25,194.89 L605.5,200 L607.58,204.69 L609.54,209.11 L611.13,213.3 L612.23,217.37 L612.95,221.19 L613.35,224.4 L613.36,226.45 L613.06,227.89 L612.66,230 L612.36,233.45 L611.96,237.58 L611.18,241.7 L609.91,245.69 L608.24,249.67 L606.17,253.3 L603.69,256.4 L600.84,259.15 L597.8,261.7 L594.45,264.15 L590.92,266.4 L587.75,268.3 L585.31,269.66 L583.24,270.66 L581.02,271.7 L578.5,272.91 L575.83,274.16 L572.89,275.5 L569.56,276.8 L565.96,278.19 L562.35,280.1 L558.6,282.86 L554.84,286.13 L551.67,289.4 L549.42,292.42 L547.77,295.43 L546.39,298.6 L545.27,301.99 L544.42,305.53 L543.61,309.2 L542.66,313.48 L541.75,317.9 L541.11,321" fill="none" stroke="#9c2424" stroke-width="0.75" stroke-linejoin="round"/>
<path d="M538.85,65 L542.33,67.71 L547.23,71.53 L551.59,75 L554.18,77.43 L556.23,79.5 L559.56,81.8 L565.19,84.66 L572.11,87.74 L579.01,90.6 L585.59,93.1 L592.16,95.39 L598.37,97.4 L603.85,98.99 L608.96,100.32 L614.45,101.8 L620.83,103.66 L627.59,105.68 L633.91,107.6 L639.51,109.3 L644.64,110.9 L649.35,112.5 L653.68,114.14 L657.58,115.77 L660.94,117.4 L663.61,119.07 L665.73,120.74 L667.64,122.2 L669.54,123.3 L671.23,124.21 L672.48,125.2 L673.12,126.4 L673.31,127.7 L673.3,129 L673.34,130.22 L673.17,131.45 L672.46,132.9 L670.88,134.79 L668.76,136.91 L666.64,138.8 L664.94,140.14 L663.24,141.26 L660.9,142.7 L657.46,144.75 L653.38,147.13 L649.29,149.5 L645.47,151.73 L641.64,153.96 L637.6,156.3 L633.05,158.94 L628.28,161.69 L624.01,164.1 L620.8,165.69 L618.1,166.94 L614.91,168.9 L610.51,172.21 L605.64,176.23 L601.52,180 L598.74,183.05 L596.71,185.85 L594.92,188.9 L593.27,192.44 L591.84,196.22 L590.43,200 L589.04,203.62 L587.67,207.24 L586.04,211.1 L583.88,215.66 L581.47,220.46 L579.34,224.4 L577.88,226.65 L576.7,228.05 L575.25,230 L573.28,233.17 L571.04,236.89 L568.65,240.6 L566.12,244.1 L563.44,247.6 L560.76,251.1 L558.03,254.63 L555.3,258.17 L552.86,261.7 L550.83,265.11 L549.08,268.5 L547.57,272.2 L546.31,276.4 L545.28,280.9 L544.38,285.4 L543.6,289.7 L542.94,294.01 L542.29,298.6 L541.52,304.01 L540.76,309.72 L540.2,314.4 L539.95,317.53 L539.91,319.63 L539.9,321 L541.1,321 L541.11,319.63 L541.16,317.53 L541.4,314.4 L541.97,309.72 L542.74,304.01 L543.51,298.6 L544.18,294.01 L544.84,289.7 L545.62,285.4 L546.53,280.9 L547.56,276.4 L548.83,272.2 L550.35,268.5 L552.1,265.11 L554.14,261.7 L556.58,258.17 L559.31,254.63 L562.04,251.1 L564.72,247.6 L567.41,244.1 L569.95,240.6 L572.34,236.89 L574.58,233.17 L576.55,230 L578.01,228.05 L579.19,226.65 L580.66,224.4 L582.78,220.46 L585.2,215.66 L587.36,211.1 L589,207.24 L590.38,203.62 L591.77,200 L593.19,196.22 L594.62,192.44 L596.28,188.9 L598.07,185.85 L600.1,183.05 L602.88,180 L607.01,176.23 L611.89,172.21 L616.29,168.9 L619.48,166.94 L622.18,165.69 L625.39,164.1 L629.66,161.69 L634.44,158.94 L639,156.3 L643.04,153.96 L646.87,151.73 L650.71,149.5 L654.86,147.13 L659.01,144.75 L662.5,142.7 L664.89,141.26 L666.62,140.14 L668.36,138.8 L670.53,136.91 L672.72,134.79 L674.34,132.9 L675.1,131.45 L675.3,130.22 L675.3,129 L675.25,127.7 L675.01,126.4 L674.32,125.2 L673.03,124.21 L671.3,123.3 L669.36,122.2 L667.38,120.74 L665.19,119.07 L662.46,117.4 L659.03,115.77 L655.05,114.14 L650.65,112.5 L645.88,110.9 L640.7,109.3 L635.09,107.6 L628.75,105.68 L621.96,103.66 L615.55,101.8 L610.05,100.32 L604.92,98.99 L599.43,97.4 L593.2,95.39 L586.6,93.1 L579.99,90.6 L573.06,87.74 L566.11,84.66 L560.44,81.8 L557.09,79.5 L555.02,77.43 L552.41,75 L548,71.53 L543.06,67.71 L539.55,65Z" fill="#ecd29c" fill-opacity="1.0" stroke="none"/>
<path d="M538.85,65 L542.33,67.71 L547.23,71.53 L551.59,75 L554.18,77.43 L556.23,79.5 L559.56,81.8 L565.19,84.66 L572.11,87.74 L579.01,90.6 L585.59,93.1 L592.16,95.39 L598.37,97.4 L603.85,98.99 L608.96,100.32 L614.45,101.8 L620.83,103.66 L627.59,105.68 L633.91,107.6 L639.51,109.3 L644.64,110.9 L649.35,112.5 L653.68,114.14 L657.58,115.77 L660.94,117.4 L663.61,119.07 L665.73,120.74 L667.64,122.2 L669.54,123.3 L671.23,124.21 L672.48,125.2 L673.12,126.4 L673.31,127.7 L673.3,129 L673.34,130.22 L673.17,131.45 L672.46,132.9 L670.88,134.79 L668.76,136.91 L666.64,138.8 L664.94,140.14 L663.24,141.26 L660.9,142.7 L657.46,144.75 L653.38,147.13 L649.29,149.5 L645.47,151.73 L641.64,153.96 L637.6,156.3 L633.05,158.94 L628.28,161.69 L624.01,164.1 L620.8,165.69 L618.1,166.94 L614.91,168.9 L610.51,172.21 L605.64,176.23 L601.52,180 L598.74,183.05 L596.71,185.85 L594.92,188.9 L593.27,192.44 L591.84,196.22 L590.43,200 L589.04,203.62 L587.67,207.24 L586.04,211.1 L583.88,215.66 L581.47,220.46 L579.34,224.4 L577.88,226.65 L576.7,228.05 L575.25,230 L573.28,233.17 L571.04,236.89 L568.65,240.6 L566.12,244.1 L563.44,247.6 L560.76,251.1 L558.03,254.63 L555.3,258.17 L552.86,261.7 L550.83,265.11 L549.08,268.5 L547.57,272.2 L546.31,276.4 L545.28,280.9 L544.38,285.4 L543.6,289.7 L542.94,294.01 L542.29,298.6 L541.52,304.01 L540.76,309.72 L540.2,314.4 L539.95,317.53 L539.91,319.63 L539.9,321" fill="none" stroke="#e0bb70" stroke-width="0.75" stroke-linejoin="round"/>
<path d="M539.2,65 L542.7,67.71 L547.61,71.53 L552,75 L554.6,77.43 L556.66,79.5 L560,81.8 L565.65,84.66 L572.58,87.74 L579.5,90.6 L586.1,93.1 L592.68,95.39 L598.9,97.4 L604.39,98.99 L609.5,100.32 L615,101.8 L621.4,103.66 L628.17,105.68 L634.5,107.6 L640.1,109.3 L645.26,110.9 L650,112.5 L654.36,114.14 L658.3,115.77 L661.7,117.4 L664.4,119.07 L666.56,120.74 L668.5,122.2 L670.42,123.3 L672.13,124.21 L673.4,125.2 L674.06,126.4 L674.28,127.7 L674.3,129 L674.32,130.22 L674.14,131.45 L673.4,132.9 L671.8,134.79 L669.64,136.91 L667.5,138.8 L665.78,140.14 L664.07,141.26 L661.7,142.7 L658.24,144.75 L654.12,147.13 L650,149.5 L646.17,151.73 L642.34,153.96 L638.3,156.3 L633.74,158.94 L628.97,161.69 L624.7,164.1 L621.49,165.69 L618.79,166.94 L615.6,168.9 L611.2,172.21 L606.32,176.23 L602.2,180 L599.42,183.05 L597.39,185.85 L595.6,188.9 L593.94,192.44 L592.51,196.22 L591.1,200 L589.71,203.62 L588.33,207.24 L586.7,211.1 L584.54,215.66 L582.13,220.46 L580,224.4 L578.53,226.65 L577.36,228.05 L575.9,230 L573.93,233.17 L571.69,236.89 L569.3,240.6 L566.76,244.1 L564.08,247.6 L561.4,251.1 L558.67,254.63 L555.94,258.17 L553.5,261.7 L551.46,265.11 L549.71,268.5 L548.2,272.2 L546.94,276.4 L545.91,280.9 L545,285.4 L544.22,289.7 L543.56,294.01 L542.9,298.6 L542.13,304.01 L541.37,309.72 L540.8,314.4 L540.56,317.53 L540.51,319.63 L540.5,321" fill="none" stroke="#e0bb70" stroke-width="0.75" stroke-linejoin="round"/>
<path d="M539.55,65 L543.06,67.71 L548,71.53 L552.41,75 L555.02,77.43 L557.09,79.5 L560.44,81.8 L566.11,84.66 L573.06,87.74 L579.99,90.6 L586.6,93.1 L593.2,95.39 L599.43,97.4 L604.92,98.99 L610.05,100.32 L615.55,101.8 L621.96,103.66 L628.75,105.68 L635.09,107.6 L640.7,109.3 L645.88,110.9 L650.65,112.5 L655.05,114.14 L659.03,115.77 L662.46,117.4 L665.19,119.07 L667.38,120.74 L669.36,122.2 L671.3,123.3 L673.03,124.21 L674.32,125.2 L675.01,126.4 L675.25,127.7 L675.3,129 L675.3,130.22 L675.1,131.45 L674.34,132.9 L672.72,134.79 L670.53,136.91 L668.36,138.8 L666.62,140.14 L664.89,141.26 L662.5,142.7 L659.01,144.75 L654.86,147.13 L650.71,149.5 L646.87,151.73 L643.04,153.96 L639,156.3 L634.44,158.94 L629.66,161.69 L625.39,164.1 L622.18,165.69 L619.48,166.94 L616.29,168.9 L611.89,172.21 L607.01,176.23 L602.88,180 L600.1,183.05 L598.07,185.85 L596.28,188.9 L594.62,192.44 L593.19,196.22 L591.77,200 L590.38,203.62 L589,207.24 L587.36,211.1 L585.2,215.66 L582.78,220.46 L580.66,224.4 L579.19,226.65 L578.01,228.05 L576.55,230 L574.58,233.17 L572.34,236.89 L569.95,240.6 L567.41,244.1 L564.72,247.6 L562.04,251.1 L559.31,254.63 L556.58,258.17 L554.14,261.7 L552.1,265.11 L550.35,268.5 L548.83,272.2 L547.56,276.4 L546.53,280.9 L545.62,285.4 L544.84,289.7 L544.18,294.01 L543.51,298.6 L542.74,304.01 L541.97,309.72 L541.4,314.4 L541.16,317.53 L541.11,319.63 L541.1,321" fill="none" stroke="#e0bb70" stroke-width="0.75" stroke-linejoin="round"/>
<path d="M538.8,26.8 L541.15,28.64 L544.57,31.32 L548.45,34.4 L552.74,37.86 L557.5,41.72 L562.29,45.6 L566.9,49.36 L571.55,53.13 L576.42,57 L581.71,61.1 L587.21,65.29 L592.44,69.2 L597.28,72.62 L601.85,75.76 L605.98,78.9 L609.62,82.13 L612.83,85.36 L615.62,88.6 L618,91.98 L619.95,95.37 L621.46,98.4 L622.48,100.9 L623.06,103.04 L623.35,105 L623.4,106.69 L623.17,108.21 L622.65,110 L621.87,112.09 L620.81,114.46 L619.46,117.5 L617.76,121.65 L615.77,126.48 L613.66,131.1 L611.44,135.14 L609.1,138.97 L606.87,142.8 L604.73,146.77 L602.68,150.75 L600.97,154.5 L599.72,157.9 L598.8,161.09 L598.08,164.2 L597.67,167.04 L597.45,169.81 L596.98,173.3 L596.1,178.02 L594.96,183.47 L593.59,188.9 L591.88,194.23 L589.93,199.56 L588.1,204.4 L586.52,208.46 L585.06,212.03 L583.6,215.6 L582.17,219.2 L580.74,222.8 L579.21,226.7 L577.58,231.16 L575.83,235.92 L573.81,240.6 L571.37,245.12 L568.65,249.55 L565.92,253.7 L563.26,257.42 L560.59,260.86 L557.92,264.3 L555.18,267.84 L552.46,271.37 L550.03,274.9 L548,278.4 L546.28,281.9 L544.83,285.4 L543.73,288.83 L542.9,292.27 L542.14,296 L541.34,300.26 L540.6,304.81 L540.04,309.2 L539.74,313.67 L539.62,317.99 L539.55,321 L541.05,321 L541.12,317.99 L541.25,313.67 L541.56,309.2 L542.12,304.81 L542.86,300.26 L543.66,296 L544.43,292.27 L545.26,288.83 L546.37,285.4 L547.82,281.9 L549.54,278.4 L551.57,274.9 L554,271.37 L556.73,267.84 L559.48,264.3 L562.14,260.86 L564.82,257.42 L567.48,253.7 L570.22,249.55 L572.94,245.12 L575.39,240.6 L577.41,235.92 L579.16,231.16 L580.79,226.7 L582.33,222.8 L583.76,219.2 L585.2,215.6 L586.66,212.03 L588.12,208.46 L589.7,204.4 L591.54,199.56 L593.49,194.23 L595.21,188.9 L596.59,183.47 L597.73,178.02 L598.62,173.3 L599.09,169.81 L599.3,167.04 L599.72,164.2 L600.44,161.09 L601.37,157.9 L602.63,154.5 L604.34,150.75 L606.38,146.77 L608.53,142.8 L610.77,138.97 L613.11,135.14 L615.34,131.1 L617.44,126.48 L619.44,121.65 L621.14,117.5 L622.5,114.46 L623.56,112.09 L624.35,110 L624.86,108.21 L625.1,106.69 L625.05,105 L624.76,103.04 L624.18,100.9 L623.14,98.4 L621.59,95.37 L619.6,91.98 L617.18,88.6 L614.35,85.36 L611.1,82.13 L607.42,78.9 L603.25,75.76 L598.64,72.62 L593.76,69.2 L588.48,65.29 L582.93,61.1 L577.58,57 L572.68,53.13 L567.98,49.36 L563.31,45.6 L558.48,41.72 L553.68,37.86 L549.35,34.4 L545.42,31.32 L541.97,28.64 L539.6,26.8Z" fill="#cf9a55" fill-opacity="1.0" stroke="none"/>
<path d="M538.8,26.8 L541.15,28.64 L544.57,31.32 L548.45,34.4 L552.74,37.86 L557.5,41.72 L562.29,45.6 L566.9,49.36 L571.55,53.13 L576.42,57 L581.71,61.1 L587.21,65.29 L592.44,69.2 L597.28,72.62 L601.85,75.76 L605.98,78.9 L609.62,82.13 L612.83,85.36 L615.62,88.6 L618,91.98 L619.95,95.37 L621.46,98.4 L622.48,100.9 L623.06,103.04 L623.35,105 L623.4,106.69 L623.17,108.21 L622.65,110 L621.87,112.09 L620.81,114.46 L619.46,117.5 L617.76,121.65 L615.77,126.48 L613.66,131.1 L611.44,135.14 L609.1,138.97 L606.87,142.8 L604.73,146.77 L602.68,150.75 L600.97,154.5 L599.72,157.9 L598.8,161.09 L598.08,164.2 L597.67,167.04 L597.45,169.81 L596.98,173.3 L596.1,178.02 L594.96,183.47 L593.59,188.9 L591.88,194.23 L589.93,199.56 L588.1,204.4 L586.52,208.46 L585.06,212.03 L583.6,215.6 L582.17,219.2 L580.74,222.8 L579.21,226.7 L577.58,231.16 L575.83,235.92 L573.81,240.6 L571.37,245.12 L568.65,249.55 L565.92,253.7 L563.26,257.42 L560.59,260.86 L557.92,264.3 L555.18,267.84 L552.46,271.37 L550.03,274.9 L548,278.4 L546.28,281.9 L544.83,285.4 L543.73,288.83 L542.9,292.27 L542.14,296 L541.34,300.26 L540.6,304.81 L540.04,309.2 L539.74,313.67 L539.62,317.99 L539.55,321" fill="none" stroke="#bb7722" stroke-width="0.85" stroke-linejoin="round"/>
<path d="M539.2,26.8 L541.56,28.64 L545,31.32 L548.9,34.4 L553.21,37.86 L557.99,41.72 L562.8,45.6 L567.44,49.36 L572.11,53.13 L577,57 L582.32,61.1 L587.85,65.29 L593.1,69.2 L597.96,72.62 L602.55,75.76 L606.7,78.9 L610.36,82.13 L613.59,85.36 L616.4,88.6 L618.8,91.98 L620.77,95.37 L622.3,98.4 L623.33,100.9 L623.91,103.04 L624.2,105 L624.25,106.69 L624.01,108.21 L623.5,110 L622.71,112.09 L621.65,114.46 L620.3,117.5 L618.6,121.65 L616.6,126.48 L614.5,131.1 L612.27,135.14 L609.94,138.97 L607.7,142.8 L605.56,146.77 L603.51,150.75 L601.8,154.5 L600.54,157.9 L599.62,161.09 L598.9,164.2 L598.49,167.04 L598.27,169.81 L597.8,173.3 L596.91,178.02 L595.77,183.47 L594.4,188.9 L592.69,194.23 L590.74,199.56 L588.9,204.4 L587.32,208.46 L585.86,212.03 L584.4,215.6 L582.96,219.2 L581.54,222.8 L580,226.7 L578.37,231.16 L576.62,235.92 L574.6,240.6 L572.16,245.12 L569.43,249.55 L566.7,253.7 L564.04,257.42 L561.36,260.86 L558.7,264.3 L555.96,267.84 L553.23,271.37 L550.8,274.9 L548.77,278.4 L547.05,281.9 L545.6,285.4 L544.49,288.83 L543.66,292.27 L542.9,296 L542.1,300.26 L541.36,304.81 L540.8,309.2 L540.5,313.67 L540.37,317.99 L540.3,321" fill="none" stroke="#bb7722" stroke-width="0.85" stroke-linejoin="round"/>
<path d="M539.6,26.8 L541.97,28.64 L545.42,31.32 L549.35,34.4 L553.68,37.86 L558.48,41.72 L563.31,45.6 L567.98,49.36 L572.68,53.13 L577.58,57 L582.93,61.1 L588.48,65.29 L593.76,69.2 L598.64,72.62 L603.25,75.76 L607.42,78.9 L611.1,82.13 L614.35,85.36 L617.18,88.6 L619.6,91.98 L621.59,95.37 L623.14,98.4 L624.18,100.9 L624.76,103.04 L625.05,105 L625.1,106.69 L624.86,108.21 L624.35,110 L623.56,112.09 L622.5,114.46 L621.14,117.5 L619.44,121.65 L617.44,126.48 L615.34,131.1 L613.11,135.14 L610.77,138.97 L608.53,142.8 L606.38,146.77 L604.34,150.75 L602.63,154.5 L601.37,157.9 L600.44,161.09 L599.72,164.2 L599.3,167.04 L599.09,169.81 L598.62,173.3 L597.73,178.02 L596.59,183.47 L595.21,188.9 L593.49,194.23 L591.54,199.56 L589.7,204.4 L588.12,208.46 L586.66,212.03 L585.2,215.6 L583.76,219.2 L582.33,222.8 L580.79,226.7 L579.16,231.16 L577.41,235.92 L575.39,240.6 L572.94,245.12 L570.22,249.55 L567.48,253.7 L564.82,257.42 L562.14,260.86 L559.48,264.3 L556.73,267.84 L554,271.37 L551.57,274.9 L549.54,278.4 L547.82,281.9 L546.37,285.4 L545.26,288.83 L544.43,292.27 L543.66,296 L542.86,300.26 L542.12,304.81 L541.56,309.2 L541.25,313.67 L541.12,317.99 L541.05,321" fill="none" stroke="#bb7722" stroke-width="0.85" stroke-linejoin="round"/>
<path d="M538.9,19.4 L541.73,21.21 L545.78,23.84 L550,26.8 L554.01,30.07 L558.17,33.67 L562.49,37.2 L567.23,40.57 L572.12,43.87 L576.39,47 L579.72,50.03 L582.43,52.89 L584.69,55.3 L586.33,56.8 L587.52,57.84 L588.89,59.5 L590.88,62.4 L593.05,65.9 L594.68,69.2 L595.48,71.87 L595.75,74.33 L595.68,77 L595.3,80.09 L594.59,83.4 L593.68,86.7 L592.58,90 L591.29,93.31 L589.87,96.4 L588.28,99.15 L586.57,101.69 L584.97,104.2 L583.63,106.57 L582.41,108.91 L581.07,111.7 L579.42,115.26 L577.66,119.27 L576.17,123.3 L575.04,127.19 L574.18,131.1 L573.66,135 L573.55,138.97 L573.77,142.95 L574.26,146.7 L575.05,150.15 L576.1,153.38 L577.15,156.4 L578.16,159.17 L579.17,161.74 L580.05,164.2 L580.55,166.41 L580.93,168.52 L581.85,171.1 L583.72,174.49 L586.13,178.34 L588.55,182.2 L590.78,185.9 L593.02,189.6 L595.24,193.3 L597.49,197 L599.72,200.69 L601.84,204.4 L603.9,208.08 L605.86,211.77 L607.44,215.6 L608.56,219.6 L609.31,223.73 L609.63,228 L609.47,232.55 L608.88,237.24 L607.93,241.7 L606.63,245.84 L604.96,249.75 L602.92,253.3 L600.46,256.4 L597.64,259.15 L594.62,261.7 L591.43,264.01 L588.04,266.12 L584.62,268.3 L581.28,270.65 L577.91,273.07 L574.22,275.5 L569.93,277.9 L565.32,280.32 L561.01,282.8 L557.09,285.39 L553.45,288.04 L550.41,290.7 L548.18,293.23 L546.56,295.77 L545.21,298.6 L544.11,301.89 L543.29,305.48 L542.5,309.2 L541.59,313.48 L540.71,317.9 L540.1,321 L540.9,321 L541.51,317.9 L542.39,313.48 L543.3,309.2 L544.08,305.48 L544.9,301.89 L545.99,298.6 L547.34,295.77 L548.96,293.23 L551.19,290.7 L554.23,288.04 L557.86,285.39 L561.79,282.8 L566.1,280.32 L570.7,277.9 L574.98,275.5 L578.67,273.07 L582.05,270.65 L585.38,268.3 L588.81,266.12 L592.19,264.01 L595.38,261.7 L598.39,259.15 L601.22,256.4 L603.68,253.3 L605.71,249.75 L607.37,245.84 L608.67,241.7 L609.63,237.24 L610.21,232.55 L610.37,228 L610.05,223.73 L609.3,219.6 L608.16,215.6 L606.59,211.77 L604.63,208.08 L602.56,204.4 L600.44,200.69 L598.2,197 L595.96,193.3 L593.73,189.6 L591.49,185.9 L589.25,182.2 L586.84,178.34 L584.42,174.49 L582.55,171.1 L581.63,168.52 L581.25,166.41 L580.75,164.2 L579.86,161.74 L578.85,159.17 L577.85,156.4 L576.79,153.38 L575.74,150.15 L574.94,146.7 L574.46,142.95 L574.22,138.97 L574.34,135 L574.85,131.1 L575.71,127.19 L576.83,123.3 L578.33,119.27 L580.08,115.26 L581.73,111.7 L583.07,108.91 L584.29,106.57 L585.63,104.2 L587.23,101.69 L588.94,99.15 L590.53,96.4 L591.94,93.31 L593.23,90 L594.32,86.7 L595.23,83.4 L595.94,80.09 L596.32,77 L596.38,74.33 L596.12,71.87 L595.32,69.2 L593.68,65.9 L591.51,62.4 L589.51,59.5 L588.15,57.84 L586.96,56.8 L585.31,55.3 L583.06,52.89 L580.34,50.03 L577.01,47 L572.74,43.87 L567.84,40.57 L563.11,37.2 L558.78,33.67 L554.61,30.07 L550.6,26.8 L546.39,23.84 L542.33,21.21 L539.5,19.4Z" fill="#4c9e92" fill-opacity="1.0" stroke="none"/>
<path d="M538.9,19.4 L541.73,21.21 L545.78,23.84 L550,26.8 L554.01,30.07 L558.17,33.67 L562.49,37.2 L567.23,40.57 L572.12,43.87 L576.39,47 L579.72,50.03 L582.43,52.89 L584.69,55.3 L586.33,56.8 L587.52,57.84 L588.89,59.5 L590.88,62.4 L593.05,65.9 L594.68,69.2 L595.48,71.87 L595.75,74.33 L595.68,77 L595.3,80.09 L594.59,83.4 L593.68,86.7 L592.58,90 L591.29,93.31 L589.87,96.4 L588.28,99.15 L586.57,101.69 L584.97,104.2 L583.63,106.57 L582.41,108.91 L581.07,111.7 L579.42,115.26 L577.66,119.27 L576.17,123.3 L575.04,127.19 L574.18,131.1 L573.66,135 L573.55,138.97 L573.77,142.95 L574.26,146.7 L575.05,150.15 L576.1,153.38 L577.15,156.4 L578.16,159.17 L579.17,161.74 L580.05,164.2 L580.55,166.41 L580.93,168.52 L581.85,171.1 L583.72,174.49 L586.13,178.34 L588.55,182.2 L590.78,185.9 L593.02,189.6 L595.24,193.3 L597.49,197 L599.72,200.69 L601.84,204.4 L603.9,208.08 L605.86,211.77 L607.44,215.6 L608.56,219.6 L609.31,223.73 L609.63,228 L609.47,232.55 L608.88,237.24 L607.93,241.7 L606.63,245.84 L604.96,249.75 L602.92,253.3 L600.46,256.4 L597.64,259.15 L594.62,261.7 L591.43,264.01 L588.04,266.12 L584.62,268.3 L581.28,270.65 L577.91,273.07 L574.22,275.5 L569.93,277.9 L565.32,280.32 L561.01,282.8 L557.09,285.39 L553.45,288.04 L550.41,290.7 L548.18,293.23 L546.56,295.77 L545.21,298.6 L544.11,301.89 L543.29,305.48 L542.5,309.2 L541.59,313.48 L540.71,317.9 L540.1,321" fill="none" stroke="#0f7d6e" stroke-width="0.8" stroke-linejoin="round"/>
<path d="M539.2,19.4 L542.03,21.21 L546.09,23.84 L550.3,26.8 L554.31,30.07 L558.48,33.67 L562.8,37.2 L567.54,40.57 L572.43,43.87 L576.7,47 L580.03,50.03 L582.74,52.89 L585,55.3 L586.64,56.8 L587.83,57.84 L589.2,59.5 L591.19,62.4 L593.36,65.9 L595,69.2 L595.8,71.87 L596.07,74.33 L596,77 L595.62,80.09 L594.91,83.4 L594,86.7 L592.91,90 L591.61,93.31 L590.2,96.4 L588.61,99.15 L586.9,101.69 L585.3,104.2 L583.96,106.57 L582.74,108.91 L581.4,111.7 L579.75,115.26 L577.99,119.27 L576.5,123.3 L575.37,127.19 L574.51,131.1 L574,135 L573.89,138.97 L574.11,142.95 L574.6,146.7 L575.4,150.15 L576.45,153.38 L577.5,156.4 L578.51,159.17 L579.51,161.74 L580.4,164.2 L580.9,166.41 L581.28,168.52 L582.2,171.1 L584.07,174.49 L586.49,178.34 L588.9,182.2 L591.14,185.9 L593.37,189.6 L595.6,193.3 L597.84,197 L600.08,200.69 L602.2,204.4 L604.27,208.08 L606.22,211.77 L607.8,215.6 L608.93,219.6 L609.68,223.73 L610,228 L609.84,232.55 L609.26,237.24 L608.3,241.7 L607,245.84 L605.33,249.75 L603.3,253.3 L600.84,256.4 L598.01,259.15 L595,261.7 L591.81,264.01 L588.43,266.12 L585,268.3 L581.67,270.65 L578.29,273.07 L574.6,275.5 L570.31,277.9 L565.71,280.32 L561.4,282.8 L557.47,285.39 L553.84,288.04 L550.8,290.7 L548.57,293.23 L546.95,295.77 L545.6,298.6 L544.5,301.89 L543.69,305.48 L542.9,309.2 L541.99,313.48 L541.11,317.9 L540.5,321" fill="none" stroke="#0f7d6e" stroke-width="0.8" stroke-linejoin="round"/>
<path d="M539.5,19.4 L542.33,21.21 L546.39,23.84 L550.6,26.8 L554.61,30.07 L558.78,33.67 L563.11,37.2 L567.84,40.57 L572.74,43.87 L577.01,47 L580.34,50.03 L583.06,52.89 L585.31,55.3 L586.96,56.8 L588.15,57.84 L589.51,59.5 L591.51,62.4 L593.68,65.9 L595.32,69.2 L596.12,71.87 L596.38,74.33 L596.32,77 L595.94,80.09 L595.23,83.4 L594.32,86.7 L593.23,90 L591.94,93.31 L590.53,96.4 L588.94,99.15 L587.23,101.69 L585.63,104.2 L584.29,106.57 L583.07,108.91 L581.73,111.7 L580.08,115.26 L578.33,119.27 L576.83,123.3 L575.71,127.19 L574.85,131.1 L574.34,135 L574.22,138.97 L574.46,142.95 L574.94,146.7 L575.74,150.15 L576.79,153.38 L577.85,156.4 L578.85,159.17 L579.86,161.74 L580.75,164.2 L581.25,166.41 L581.63,168.52 L582.55,171.1 L584.42,174.49 L586.84,178.34 L589.25,182.2 L591.49,185.9 L593.73,189.6 L595.96,193.3 L598.2,197 L600.44,200.69 L602.56,204.4 L604.63,208.08 L606.59,211.77 L608.16,215.6 L609.3,219.6 L610.05,223.73 L610.37,228 L610.21,232.55 L609.63,237.24 L608.67,241.7 L607.37,245.84 L605.71,249.75 L603.68,253.3 L601.22,256.4 L598.39,259.15 L595.38,261.7 L592.19,264.01 L588.81,266.12 L585.38,268.3 L582.05,270.65 L578.67,273.07 L574.98,275.5 L570.7,277.9 L566.1,280.32 L561.79,282.8 L557.86,285.39 L554.23,288.04 L551.19,290.7 L548.96,293.23 L547.34,295.77 L545.99,298.6 L544.9,301.89 L544.08,305.48 L543.3,309.2 L542.39,313.48 L541.51,317.9 L540.9,321" fill="none" stroke="#0f7d6e" stroke-width="0.8" stroke-linejoin="round"/>
<text x="618.4" y="7.7" font-size="6.1" font-weight="bold" fill="#000">Clusters</text>
<rect x="618.7" y="11.4" width="9" height="9" fill="#e3cdec" stroke="#9a4db6" stroke-width="0.7"/>
<line x1="618.7" x2="627.7" y1="15.9" y2="15.9" stroke="#9a4db6" stroke-width="0.6"/>
<text x="631.5" y="17.7" font-size="5.05" fill="#1a1a1a">Danum 1 (LAI = 5.44)</text>
<rect x="618.7" y="21.13" width="9" height="9" fill="#f6eef9" stroke="#e2c6ec" stroke-width="0.7"/>
<line x1="618.7" x2="627.7" y1="25.63" y2="25.63" stroke="#e2c6ec" stroke-width="0.6"/>
<text x="631.5" y="27.43" font-size="5.05" fill="#1a1a1a">Danum 2 (LAI = 6.12)</text>
<rect x="618.7" y="30.86" width="9" height="9" fill="#efd5d3" stroke="#a52d29" stroke-width="0.7"/>
<line x1="618.7" x2="627.7" y1="35.36" y2="35.36" stroke="#a52d29" stroke-width="0.6"/>
<text x="631.5" y="37.16" font-size="5.05" fill="#1a1a1a">Danum 3 (LAI = 6.32)</text>
<rect x="618.7" y="40.59" width="9" height="9" fill="#e6f6f2" stroke="#8fd2c5" stroke-width="0.7"/>
<line x1="618.7" x2="627.7" y1="45.09" y2="45.09" stroke="#8fd2c5" stroke-width="0.6"/>
<text x="631.5" y="46.89" font-size="5.05" fill="#1a1a1a">Mudstone (LAI = 5.96)</text>
<rect x="618.7" y="50.32" width="9" height="9" fill="#f9efd9" stroke="#e3c07a" stroke-width="0.7"/>
<line x1="618.7" x2="627.7" y1="54.82" y2="54.82" stroke="#e3c07a" stroke-width="0.6"/>
<text x="631.5" y="56.62" font-size="5.05" fill="#1a1a1a">Kerangas (LAI = 6.05)</text>
<rect x="618.7" y="60.05" width="9" height="9" fill="#f3e1cb" stroke="#c4802a" stroke-width="0.7"/>
<line x1="618.7" x2="627.7" y1="64.55" y2="64.55" stroke="#c4802a" stroke-width="0.6"/>
<text x="631.5" y="66.35" font-size="5.05" fill="#1a1a1a">Sandstone (LAI = 6.03)</text>
<rect x="618.7" y="69.78" width="9" height="9" fill="#d2ebe6" stroke="#168578" stroke-width="0.7"/>
<line x1="618.7" x2="627.7" y1="74.28" y2="74.28" stroke="#168578" stroke-width="0.6"/>
<text x="631.5" y="76.08" font-size="5.05" fill="#1a1a1a">Alluvial (LAI = 5.96)</text>
</svg></body></html>
